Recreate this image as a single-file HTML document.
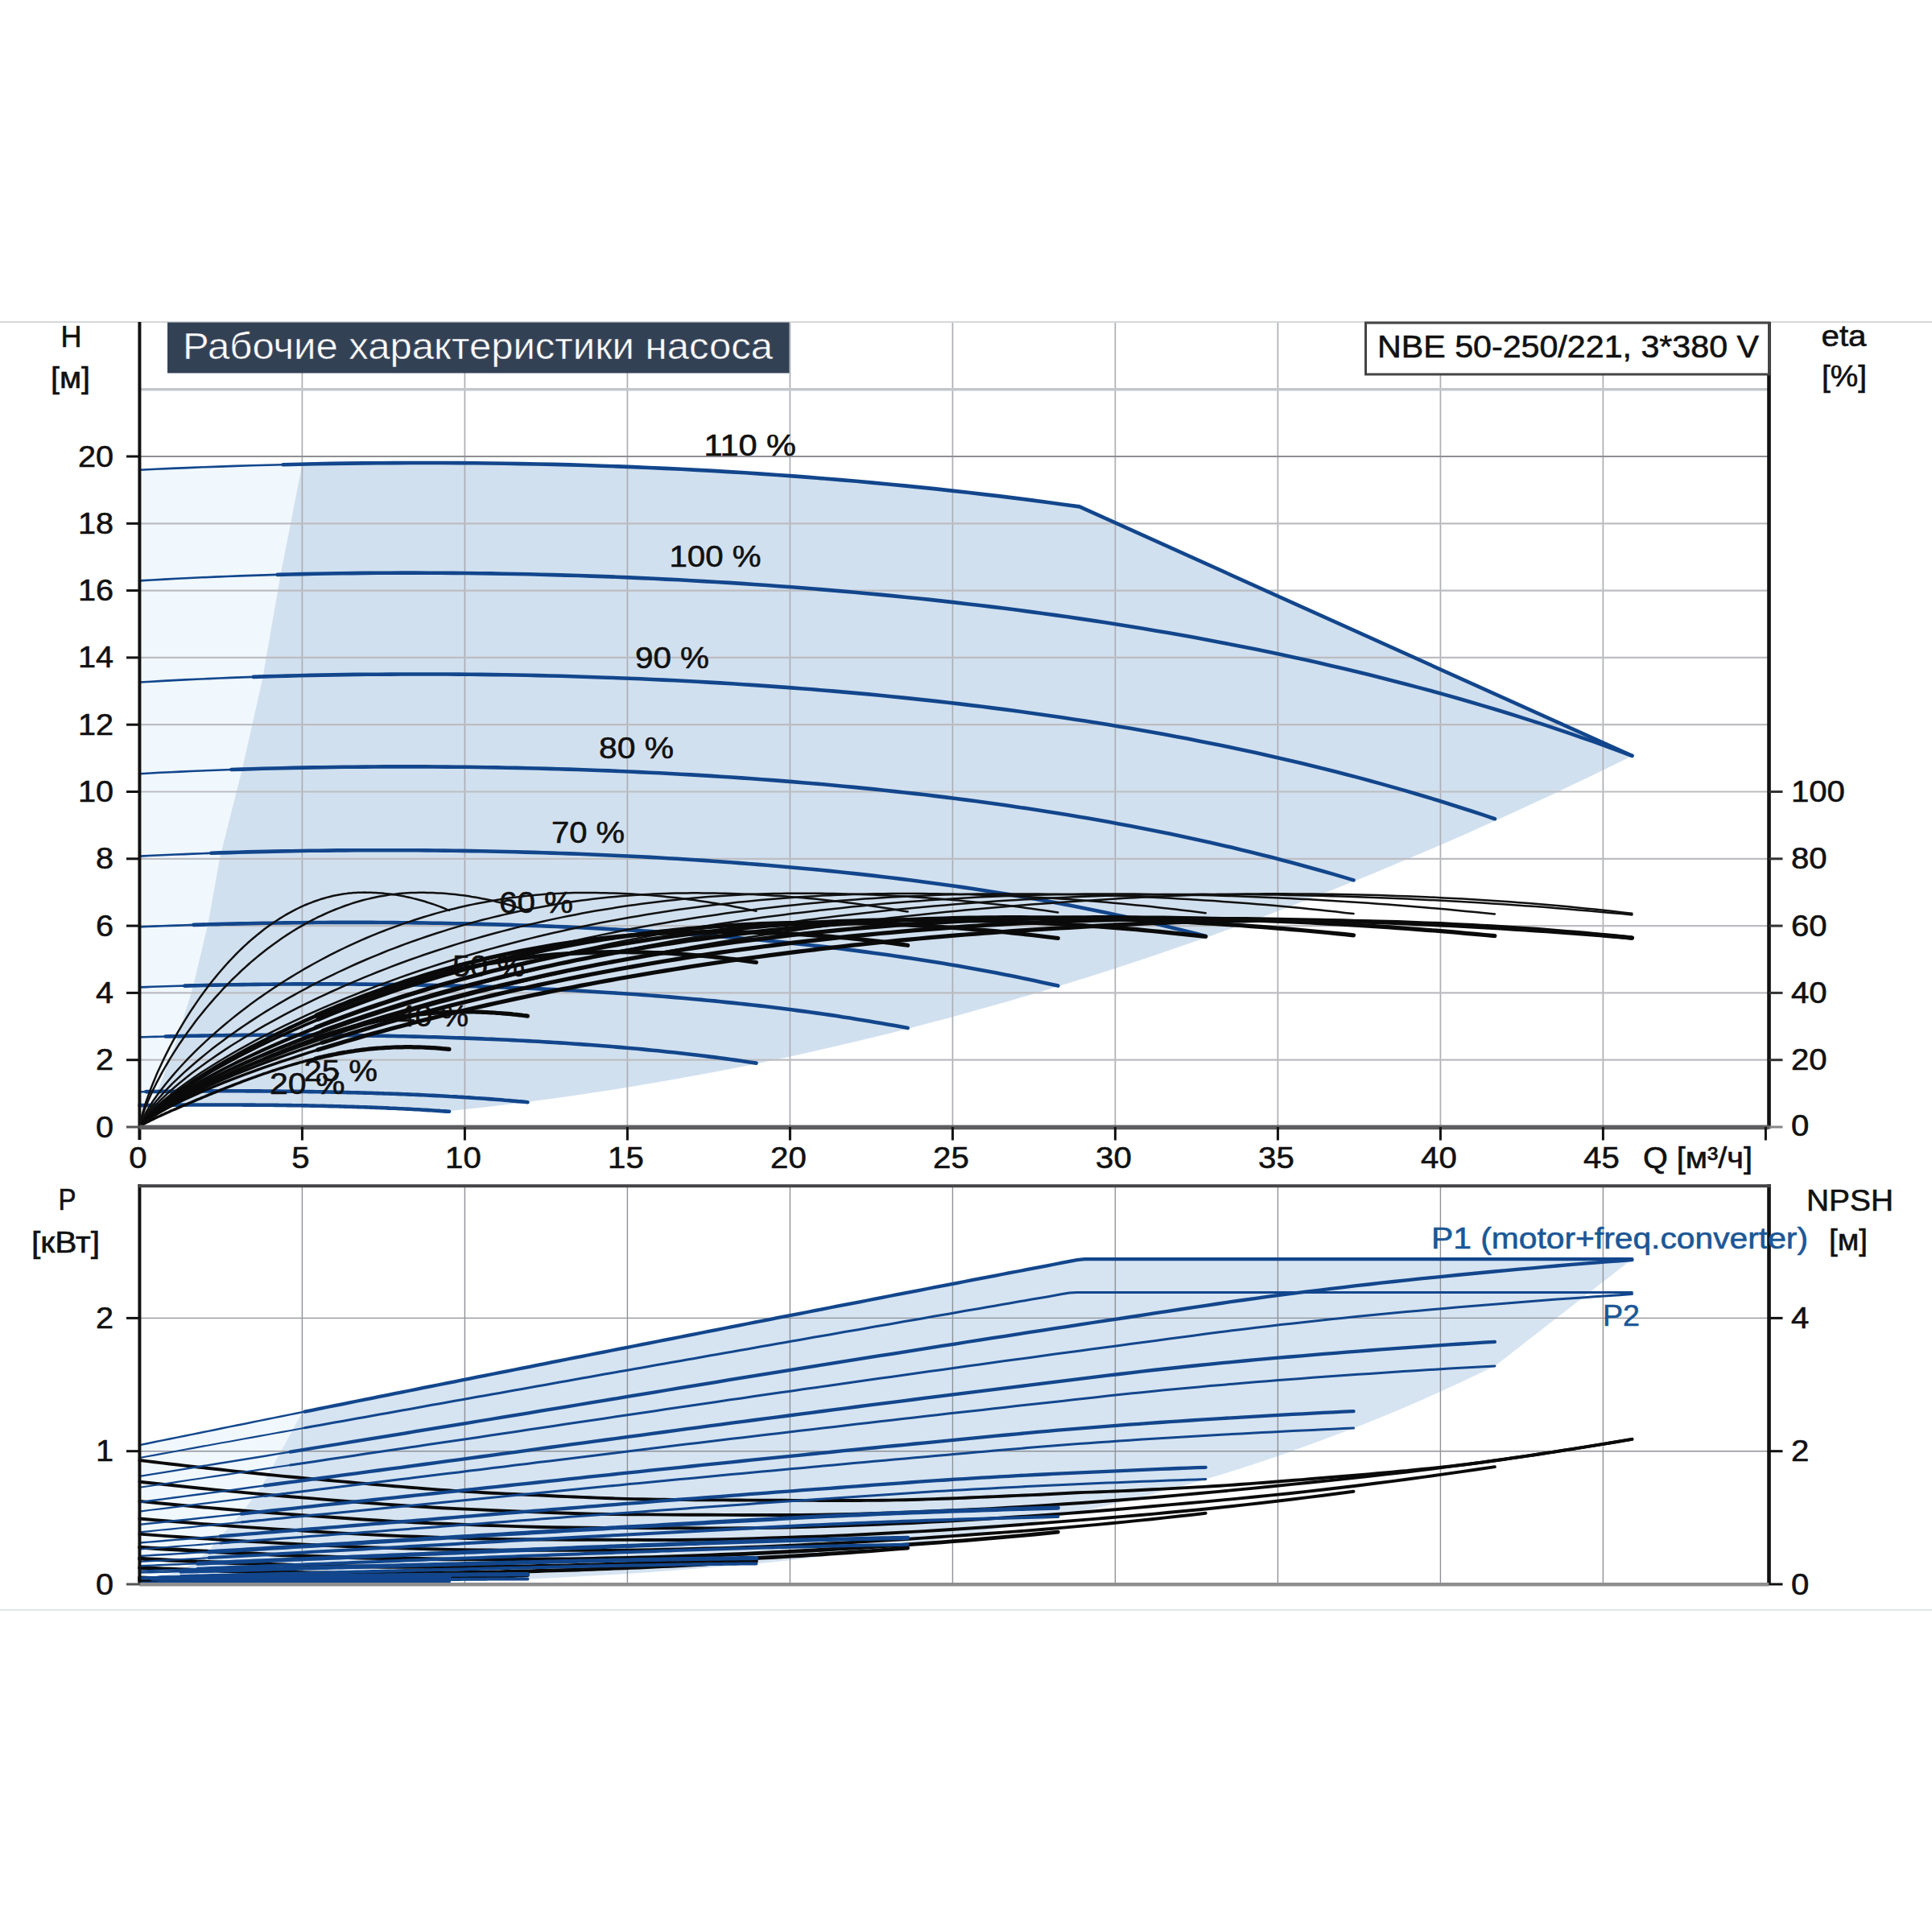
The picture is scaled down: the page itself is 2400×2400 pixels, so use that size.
<!DOCTYPE html>
<html lang="ru"><head><meta charset="utf-8"><title>Рабочие характеристики насоса</title>
<style>
html,body{margin:0;padding:0;background:#fff}
body{width:2400px;height:2400px;overflow:hidden}
svg{display:block}
text{font-family:"Liberation Sans",Arial,sans-serif}
</style></head><body>
<svg width="2400" height="2400" viewBox="0 0 2400 2400">
<rect width="2400" height="2400" fill="#fff"/>
<g id="top">
<polygon points="173.4,583.7 193.2,582.8 213.0,581.9 232.8,581.1 252.6,580.3 272.3,579.6 292.1,578.9 311.9,578.3 331.7,577.7 351.5,577.2 371.3,576.7 375.4,576.2 348.3,714.9 325.7,844.8 301.1,954.3 273.2,1064.7 257.8,1150.1 239.3,1227.2 220.3,1289.6 195.6,1356.3 188.8,1373.1 173.4,1373.1" fill="#f0f8fe"/>
<polygon points="391.1,576.3 410.9,575.9 430.7,575.6 450.4,575.4 470.2,575.2 490.0,575.1 509.8,575.0 529.6,575.0 549.4,575.0 569.2,575.1 589.0,575.3 608.8,575.5 628.6,575.7 648.3,576.1 668.1,576.5 687.9,576.9 707.7,577.4 727.5,578.0 747.3,578.7 767.1,579.4 786.9,580.1 806.7,581.0 826.4,581.9 846.2,582.8 866.0,583.9 885.8,584.9 905.6,586.1 925.4,587.3 945.2,588.6 965.0,590.0 984.8,591.4 1004.5,592.9 1024.3,594.5 1044.1,596.1 1063.9,597.8 1083.7,599.6 1103.5,601.5 1123.3,603.4 1143.1,605.4 1162.9,607.4 1182.6,609.6 1202.4,611.8 1222.2,614.1 1242.0,616.4 1261.8,618.9 1281.6,621.4 1301.4,624.0 1321.2,626.7 1341.0,629.4 2027.4,938.9 2027.4,938.9 2002.5,951.2 1977.5,963.4 1952.6,975.3 1927.7,987.2 1902.8,998.8 1877.9,1010.3 1853.0,1021.6 1828.1,1032.7 1803.2,1043.7 1778.3,1054.5 1753.4,1065.1 1728.5,1075.6 1703.6,1085.9 1678.7,1096.0 1653.8,1106.0 1628.9,1115.8 1604.0,1125.5 1579.1,1134.9 1554.2,1144.3 1529.3,1153.4 1504.4,1162.4 1479.5,1171.2 1454.6,1179.8 1429.7,1188.3 1404.8,1196.6 1379.8,1204.8 1354.9,1212.7 1330.0,1220.5 1305.1,1228.2 1280.2,1235.7 1255.3,1243.0 1230.4,1250.1 1205.5,1257.1 1180.6,1263.9 1155.7,1270.6 1130.8,1277.0 1105.9,1283.4 1081.0,1289.5 1056.1,1295.5 1031.2,1301.3 1006.3,1306.9 981.4,1312.4 956.5,1317.7 931.6,1322.9 906.7,1327.9 881.8,1332.7 856.9,1337.3 832.0,1341.8 807.1,1346.1 782.1,1350.3 757.2,1354.3 732.3,1358.1 707.4,1361.7 682.5,1365.2 657.6,1368.5 632.7,1371.7 607.8,1374.7 582.9,1377.5 558.0,1380.2 558.0,1380.8 553.1,1380.5 548.3,1380.1 543.4,1379.8 538.5,1379.5 533.7,1379.2 528.8,1378.9 523.9,1378.6 519.1,1378.3 514.2,1378.1 509.3,1377.8 504.5,1377.5 499.6,1377.3 494.7,1377.1 489.8,1376.8 485.0,1376.6 480.1,1376.4 475.2,1376.2 470.4,1376.0 465.5,1375.8 460.6,1375.6 455.8,1375.4 450.9,1375.3 446.0,1375.1 441.2,1375.0 436.3,1374.8 431.4,1374.7 426.6,1374.5 421.7,1374.4 416.8,1374.3 412.0,1374.1 407.1,1374.0 402.2,1373.9 397.3,1373.8 392.5,1373.7 387.6,1373.6 382.7,1373.5 377.9,1373.4 373.0,1373.3 368.1,1373.2 363.3,1373.2 358.4,1373.1 353.5,1373.0 348.7,1373.0 343.8,1372.9 338.9,1372.9 334.1,1372.8 329.2,1372.8 324.3,1372.7 319.5,1372.7 314.6,1372.6 309.7,1372.6 304.8,1372.6 300.0,1372.5 295.1,1372.5 290.2,1372.5 285.4,1372.5 280.5,1372.5 275.6,1372.5 270.8,1372.5 265.9,1372.5 261.0,1372.5 256.2,1372.5 251.3,1372.5 246.4,1372.5 241.6,1372.5 236.7,1372.5 231.8,1372.6 227.0,1372.6 222.1,1372.6 217.2,1372.7 212.3,1372.7 207.5,1372.7 202.6,1372.8 197.7,1372.8 192.9,1372.9 188.8,1373.1 195.6,1356.3 220.3,1289.6 239.3,1227.2 257.8,1150.1 273.2,1064.7 301.1,954.3 325.7,844.8 348.3,714.9 375.4,576.2" fill="#d1e0ef"/>
<line x1="375.4" y1="401" x2="375.4" y2="1400" stroke="#adafb4" stroke-width="1.7"/>
<line x1="577.4" y1="401" x2="577.4" y2="1400" stroke="#adafb4" stroke-width="1.7"/>
<line x1="779.4" y1="401" x2="779.4" y2="1400" stroke="#adafb4" stroke-width="1.7"/>
<line x1="981.4" y1="401" x2="981.4" y2="1400" stroke="#adafb4" stroke-width="1.7"/>
<line x1="1183.4" y1="401" x2="1183.4" y2="1400" stroke="#adafb4" stroke-width="1.7"/>
<line x1="1385.4" y1="401" x2="1385.4" y2="1400" stroke="#adafb4" stroke-width="1.7"/>
<line x1="1587.4" y1="401" x2="1587.4" y2="1400" stroke="#adafb4" stroke-width="1.7"/>
<line x1="1789.4" y1="401" x2="1789.4" y2="1400" stroke="#adafb4" stroke-width="1.7"/>
<line x1="1991.4" y1="401" x2="1991.4" y2="1400" stroke="#adafb4" stroke-width="1.7"/>
<line x1="173.4" y1="1316.7" x2="2197.5" y2="1316.7" stroke="#bcbdc1" stroke-width="2.2"/>
<line x1="173.4" y1="1233.4" x2="2197.5" y2="1233.4" stroke="#bcbdc1" stroke-width="2.2"/>
<line x1="173.4" y1="1150.1" x2="2197.5" y2="1150.1" stroke="#bcbdc1" stroke-width="2.2"/>
<line x1="173.4" y1="1066.8" x2="2197.5" y2="1066.8" stroke="#bcbdc1" stroke-width="2.2"/>
<line x1="173.4" y1="983.5" x2="2197.5" y2="983.5" stroke="#bcbdc1" stroke-width="2.2"/>
<line x1="173.4" y1="900.2" x2="2197.5" y2="900.2" stroke="#bcbdc1" stroke-width="2.2"/>
<line x1="173.4" y1="816.9" x2="2197.5" y2="816.9" stroke="#bcbdc1" stroke-width="2.2"/>
<line x1="173.4" y1="733.6" x2="2197.5" y2="733.6" stroke="#bcbdc1" stroke-width="2.2"/>
<line x1="173.4" y1="650.3" x2="2197.5" y2="650.3" stroke="#bcbdc1" stroke-width="2.2"/>
<line x1="173.4" y1="567.0" x2="2197.5" y2="567.0" stroke="#8d8f94" stroke-width="1.8"/>
<line x1="173.4" y1="483.7" x2="2197.5" y2="483.7" stroke="#c3c7cc" stroke-width="3.5"/>
<polyline points="173.4,583.7 193.2,582.8 213.0,581.9 232.8,581.1 252.6,580.3 272.3,579.6 292.1,578.9 311.9,578.3 331.7,577.7 351.5,577.2 371.3,576.7" fill="none" stroke="#12468c" stroke-width="2.6" stroke-linejoin="round" stroke-linecap="round" />
<polyline points="351.5,577.2 371.3,576.7 391.1,576.3 410.9,575.9 430.7,575.6 450.4,575.4 470.2,575.2 490.0,575.1 509.8,575.0 529.6,575.0 549.4,575.0 569.2,575.1 589.0,575.3 608.8,575.5 628.6,575.7 648.3,576.1 668.1,576.5 687.9,576.9 707.7,577.4 727.5,578.0 747.3,578.7 767.1,579.4 786.9,580.1 806.7,581.0 826.4,581.9 846.2,582.8 866.0,583.9 885.8,584.9 905.6,586.1 925.4,587.3 945.2,588.6 965.0,590.0 984.8,591.4 1004.5,592.9 1024.3,594.5 1044.1,596.1 1063.9,597.8 1083.7,599.6 1103.5,601.5 1123.3,603.4 1143.1,605.4 1162.9,607.4 1182.6,609.6 1202.4,611.8 1222.2,614.1 1242.0,616.4 1261.8,618.9 1281.6,621.4 1301.4,624.0 1321.2,626.7 1341.0,629.4 2027.4,938.9" fill="none" stroke="#12468c" stroke-width="4.6" stroke-linejoin="round" stroke-linecap="round" />
<polyline points="173.4,721.4 189.0,720.5 204.6,719.6 220.1,718.8 235.7,718.0 251.3,717.3 266.9,716.6 282.5,716.0 298.0,715.4 313.6,714.9 329.2,714.4 344.8,713.9 360.4,713.5" fill="none" stroke="#12468c" stroke-width="2.6" stroke-linejoin="round" stroke-linecap="round" />
<polyline points="344.8,713.9 360.4,713.5 375.9,713.1 391.5,712.8 407.1,712.5 422.7,712.3 438.3,712.1 453.8,711.9 469.4,711.8 485.0,711.7 500.6,711.6 516.1,711.6 531.7,711.7 547.3,711.7 562.9,711.9 578.5,712.0 594.0,712.2 609.6,712.4 625.2,712.7 640.8,713.0 656.4,713.3 671.9,713.7 687.5,714.1 703.1,714.6 718.7,715.0 734.3,715.6 749.8,716.1 765.4,716.7 781.0,717.4 796.6,718.1 812.2,718.8 827.7,719.6 843.3,720.3 858.9,721.2 874.5,722.1 890.1,723.0 905.6,723.9 921.2,724.9 936.8,726.0 952.4,727.0 968.0,728.2 983.5,729.3 999.1,730.5 1014.7,731.8 1030.3,733.1 1045.8,734.4 1061.4,735.8 1077.0,737.2 1092.6,738.6 1108.2,740.1 1123.7,741.7 1139.3,743.3 1154.9,744.9 1170.5,746.6 1186.1,748.4 1201.6,750.2 1217.2,752.0 1232.8,753.9 1248.4,755.8 1264.0,757.8 1279.5,759.9 1295.1,762.0 1310.7,764.1 1326.3,766.3 1341.9,768.6 1357.4,770.9 1373.0,773.3 1388.6,775.7 1404.2,778.2 1419.8,780.7 1435.3,783.4 1450.9,786.0 1466.5,788.8 1482.1,791.6 1497.7,794.4 1513.2,797.4 1528.8,800.4 1544.4,803.4 1560.0,806.5 1575.6,809.8 1591.1,813.0 1606.7,816.4 1622.3,819.8 1637.9,823.3 1653.4,826.9 1669.0,830.5 1684.6,834.2 1700.2,838.0 1715.8,841.9 1731.3,845.9 1746.9,849.9 1762.5,854.1 1778.1,858.3 1793.7,862.6 1809.2,867.0 1824.8,871.5 1840.4,876.1 1856.0,880.8 1871.6,885.5 1887.1,890.4 1902.7,895.4 1918.3,900.4 1933.9,905.6 1949.5,910.9 1965.0,916.3 1980.6,921.7 1996.2,927.3 2011.8,933.0 2027.4,938.8" fill="none" stroke="#12468c" stroke-width="4.6" stroke-linejoin="round" stroke-linecap="round" />
<polyline points="173.4,847.5 187.5,846.7 201.7,845.9 215.8,845.1 230.0,844.4 244.1,843.7 258.3,843.1 272.4,842.5 286.6,841.9 300.7,841.4 314.9,840.9 329.0,840.4 343.2,840.0" fill="none" stroke="#12468c" stroke-width="2.6" stroke-linejoin="round" stroke-linecap="round" />
<polyline points="314.9,840.9 329.0,840.4 343.2,840.0 357.3,839.6 371.5,839.3 385.6,838.9 399.7,838.6 413.9,838.4 428.0,838.1 442.2,837.9 456.3,837.8 470.5,837.7 484.6,837.6 498.8,837.5 512.9,837.5 527.1,837.5 541.2,837.5 555.4,837.5 569.5,837.6 583.7,837.8 597.8,837.9 612.0,838.1 626.1,838.3 640.2,838.5 654.4,838.8 668.5,839.1 682.7,839.5 696.8,839.8 711.0,840.3 725.1,840.7 739.3,841.2 753.4,841.7 767.6,842.2 781.7,842.7 795.9,843.3 810.0,844.0 824.2,844.6 838.3,845.3 852.4,846.0 866.6,846.8 880.7,847.6 894.9,848.4 909.0,849.3 923.2,850.2 937.3,851.1 951.5,852.1 965.6,853.1 979.8,854.1 993.9,855.2 1008.1,856.3 1022.2,857.5 1036.4,858.6 1050.5,859.9 1064.6,861.1 1078.8,862.4 1092.9,863.8 1107.1,865.2 1121.2,866.6 1135.4,868.1 1149.5,869.6 1163.7,871.1 1177.8,872.7 1192.0,874.4 1206.1,876.1 1220.3,877.8 1234.4,879.6 1248.6,881.4 1262.7,883.3 1276.8,885.2 1291.0,887.2 1305.1,889.2 1319.3,891.2 1333.4,893.4 1347.6,895.5 1361.7,897.8 1375.9,900.0 1390.0,902.4 1404.2,904.8 1418.3,907.2 1432.5,909.7 1446.6,912.3 1460.8,914.9 1474.9,917.6 1489.1,920.4 1503.2,923.2 1517.3,926.0 1531.5,929.0 1545.6,932.0 1559.8,935.1 1573.9,938.2 1588.1,941.4 1602.2,944.7 1616.4,948.0 1630.5,951.5 1644.7,955.0 1658.8,958.5 1673.0,962.2 1687.1,965.9 1701.3,969.7 1715.4,973.6 1729.5,977.6 1743.7,981.6 1757.8,985.8 1772.0,990.0 1786.1,994.3 1800.3,998.7 1814.4,1003.2 1828.6,1007.7 1842.7,1012.4 1856.9,1017.2" fill="none" stroke="#12468c" stroke-width="4.6" stroke-linejoin="round" stroke-linecap="round" />
<polyline points="173.4,961.2 186.1,960.5 198.7,959.8 211.4,959.2 224.1,958.6 236.8,958.0 249.4,957.5 262.1,957.0 274.8,956.5 287.5,956.0 300.1,955.6 312.8,955.2" fill="none" stroke="#12468c" stroke-width="2.6" stroke-linejoin="round" stroke-linecap="round" />
<polyline points="287.5,956.0 300.1,955.6 312.8,955.2 325.5,954.8 338.2,954.5 350.8,954.2 363.5,953.9 376.2,953.6 388.8,953.4 401.5,953.2 414.2,953.0 426.9,952.8 439.5,952.7 452.2,952.6 464.9,952.5 477.6,952.4 490.2,952.4 502.9,952.4 515.6,952.4 528.3,952.4 540.9,952.5 553.6,952.6 566.3,952.7 578.9,952.8 591.6,953.0 604.3,953.2 617.0,953.4 629.6,953.7 642.3,953.9 655.0,954.2 667.7,954.5 680.3,954.9 693.0,955.2 705.7,955.6 718.4,956.0 731.0,956.5 743.7,957.0 756.4,957.4 769.0,958.0 781.7,958.5 794.4,959.1 807.1,959.7 819.7,960.3 832.4,961.0 845.1,961.7 857.8,962.4 870.4,963.1 883.1,963.9 895.8,964.7 908.5,965.5 921.1,966.4 933.8,967.3 946.5,968.2 959.1,969.1 971.8,970.1 984.5,971.1 997.2,972.2 1009.8,973.2 1022.5,974.3 1035.2,975.5 1047.9,976.7 1060.5,977.9 1073.2,979.1 1085.9,980.4 1098.6,981.7 1111.2,983.1 1123.9,984.5 1136.6,985.9 1149.3,987.3 1161.9,988.9 1174.6,990.4 1187.3,992.0 1199.9,993.6 1212.6,995.3 1225.3,997.0 1238.0,998.7 1250.6,1000.5 1263.3,1002.4 1276.0,1004.3 1288.7,1006.2 1301.3,1008.2 1314.0,1010.2 1326.7,1012.3 1339.4,1014.4 1352.0,1016.6 1364.7,1018.8 1377.4,1021.0 1390.0,1023.4 1402.7,1025.7 1415.4,1028.2 1428.1,1030.7 1440.7,1033.2 1453.4,1035.8 1466.1,1038.5 1478.8,1041.2 1491.4,1043.9 1504.1,1046.8 1516.8,1049.7 1529.5,1052.6 1542.1,1055.7 1554.8,1058.7 1567.5,1061.9 1580.1,1065.1 1592.8,1068.4 1605.5,1071.8 1618.2,1075.2 1630.8,1078.7 1643.5,1082.2 1656.2,1085.9 1668.9,1089.6 1681.5,1093.4" fill="none" stroke="#12468c" stroke-width="4.6" stroke-linejoin="round" stroke-linecap="round" />
<polyline points="173.4,1063.6 184.5,1063.0 195.7,1062.5 206.8,1062.0 217.9,1061.5 229.0,1061.1 240.2,1060.6 251.3,1060.2 262.4,1059.8 273.6,1059.4 284.7,1059.1" fill="none" stroke="#12468c" stroke-width="2.6" stroke-linejoin="round" stroke-linecap="round" />
<polyline points="262.4,1059.8 273.6,1059.4 284.7,1059.1 295.8,1058.7 306.9,1058.4 318.1,1058.1 329.2,1057.9 340.3,1057.6 351.5,1057.4 362.6,1057.2 373.7,1057.0 384.8,1056.8 396.0,1056.7 407.1,1056.6 418.2,1056.4 429.4,1056.4 440.5,1056.3 451.6,1056.2 462.7,1056.2 473.9,1056.2 485.0,1056.2 496.1,1056.2 507.3,1056.3 518.4,1056.3 529.5,1056.4 540.6,1056.5 551.8,1056.6 562.9,1056.8 574.0,1056.9 585.2,1057.1 596.3,1057.3 607.4,1057.5 618.5,1057.8 629.7,1058.0 640.8,1058.3 651.9,1058.6 663.1,1058.9 674.2,1059.3 685.3,1059.6 696.4,1060.0 707.6,1060.4 718.7,1060.8 729.8,1061.2 741.0,1061.7 752.1,1062.2 763.2,1062.7 774.3,1063.2 785.5,1063.8 796.6,1064.3 807.7,1064.9 818.9,1065.5 830.0,1066.2 841.1,1066.8 852.2,1067.5 863.4,1068.2 874.5,1068.9 885.6,1069.7 896.8,1070.5 907.9,1071.3 919.0,1072.1 930.1,1073.0 941.3,1073.9 952.4,1074.8 963.5,1075.7 974.7,1076.7 985.8,1077.7 996.9,1078.7 1008.1,1079.7 1019.2,1080.8 1030.3,1081.9 1041.4,1083.0 1052.6,1084.2 1063.7,1085.4 1074.8,1086.6 1086.0,1087.9 1097.1,1089.2 1108.2,1090.5 1119.3,1091.9 1130.5,1093.3 1141.6,1094.7 1152.7,1096.2 1163.9,1097.7 1175.0,1099.2 1186.1,1100.8 1197.2,1102.4 1208.4,1104.1 1219.5,1105.8 1230.6,1107.5 1241.8,1109.3 1252.9,1111.1 1264.0,1113.0 1275.1,1114.9 1286.3,1116.8 1297.4,1118.8 1308.5,1120.8 1319.7,1122.9 1330.8,1125.0 1341.9,1127.2 1353.0,1129.4 1364.2,1131.7 1375.3,1134.0 1386.4,1136.4 1397.6,1138.8 1408.7,1141.2 1419.8,1143.8 1430.9,1146.3 1442.1,1149.0 1453.2,1151.7 1464.3,1154.4 1475.5,1157.2 1486.6,1160.0 1497.7,1163.0" fill="none" stroke="#12468c" stroke-width="4.6" stroke-linejoin="round" stroke-linecap="round" />
<polyline points="173.4,1151.4 183.0,1151.0 192.6,1150.6 202.2,1150.3 211.7,1149.9 221.3,1149.6 230.9,1149.2 240.5,1148.9 250.1,1148.6 259.7,1148.3 269.3,1148.1" fill="none" stroke="#12468c" stroke-width="2.6" stroke-linejoin="round" stroke-linecap="round" />
<polyline points="240.5,1148.9 250.1,1148.6 259.7,1148.3 269.3,1148.1 278.9,1147.8 288.4,1147.6 298.0,1147.4 307.6,1147.2 317.2,1147.0 326.8,1146.8 336.4,1146.7 346.0,1146.5 355.6,1146.4 365.1,1146.3 374.7,1146.2 384.3,1146.1 393.9,1146.0 403.5,1146.0 413.1,1145.9 422.7,1145.9 432.3,1145.9 441.8,1145.9 451.4,1145.9 461.0,1145.9 470.6,1146.0 480.2,1146.0 489.8,1146.1 499.4,1146.2 509.0,1146.3 518.5,1146.4 528.1,1146.5 537.7,1146.7 547.3,1146.8 556.9,1147.0 566.5,1147.2 576.1,1147.4 585.7,1147.6 595.2,1147.9 604.8,1148.1 614.4,1148.4 624.0,1148.6 633.6,1148.9 643.2,1149.2 652.8,1149.6 662.4,1149.9 671.9,1150.2 681.5,1150.6 691.1,1151.0 700.7,1151.4 710.3,1151.8 719.9,1152.2 729.5,1152.7 739.1,1153.2 748.6,1153.6 758.2,1154.2 767.8,1154.7 777.4,1155.2 787.0,1155.8 796.6,1156.3 806.2,1156.9 815.8,1157.5 825.3,1158.2 834.9,1158.8 844.5,1159.5 854.1,1160.2 863.7,1160.9 873.3,1161.6 882.9,1162.4 892.5,1163.1 902.0,1163.9 911.6,1164.8 921.2,1165.6 930.8,1166.5 940.4,1167.3 950.0,1168.3 959.6,1169.2 969.2,1170.1 978.7,1171.1 988.3,1172.1 997.9,1173.2 1007.5,1174.2 1017.1,1175.3 1026.7,1176.4 1036.3,1177.5 1045.8,1178.7 1055.4,1179.9 1065.0,1181.1 1074.6,1182.4 1084.2,1183.7 1093.8,1185.0 1103.4,1186.3 1113.0,1187.7 1122.5,1189.1 1132.1,1190.5 1141.7,1192.0 1151.3,1193.5 1160.9,1195.0 1170.5,1196.6 1180.1,1198.2 1189.7,1199.8 1199.2,1201.5 1208.8,1203.2 1218.4,1205.0 1228.0,1206.7 1237.6,1208.6 1247.2,1210.4 1256.8,1212.3 1266.4,1214.3 1275.9,1216.3 1285.5,1218.3 1295.1,1220.4 1304.7,1222.5 1314.3,1224.6" fill="none" stroke="#12468c" stroke-width="4.6" stroke-linejoin="round" stroke-linecap="round" />
<polyline points="173.4,1226.4 181.4,1226.1 189.4,1225.8 197.5,1225.5 205.5,1225.3 213.5,1225.0 221.5,1224.8 229.5,1224.6 237.6,1224.4 245.6,1224.2 253.6,1224.0" fill="none" stroke="#12468c" stroke-width="2.6" stroke-linejoin="round" stroke-linecap="round" />
<polyline points="229.5,1224.6 237.6,1224.4 245.6,1224.2 253.6,1224.0 261.6,1223.8 269.6,1223.6 277.6,1223.5 285.7,1223.3 293.7,1223.2 301.7,1223.1 309.7,1223.0 317.7,1222.9 325.8,1222.8 333.8,1222.7 341.8,1222.6 349.8,1222.5 357.8,1222.5 365.9,1222.4 373.9,1222.4 381.9,1222.4 389.9,1222.4 397.9,1222.4 405.9,1222.4 414.0,1222.4 422.0,1222.4 430.0,1222.5 438.0,1222.5 446.0,1222.6 454.1,1222.6 462.1,1222.7 470.1,1222.8 478.1,1222.9 486.1,1223.0 494.2,1223.1 502.2,1223.2 510.2,1223.4 518.2,1223.5 526.2,1223.7 534.3,1223.8 542.3,1224.0 550.3,1224.2 558.3,1224.4 566.3,1224.6 574.3,1224.8 582.4,1225.1 590.4,1225.3 598.4,1225.6 606.4,1225.8 614.4,1226.1 622.5,1226.4 630.5,1226.7 638.5,1227.0 646.5,1227.3 654.5,1227.6 662.6,1228.0 670.6,1228.4 678.6,1228.7 686.6,1229.1 694.6,1229.5 702.6,1229.9 710.7,1230.3 718.7,1230.8 726.7,1231.2 734.7,1231.7 742.7,1232.2 750.8,1232.7 758.8,1233.2 766.8,1233.7 774.8,1234.2 782.8,1234.8 790.9,1235.3 798.9,1235.9 806.9,1236.5 814.9,1237.1 822.9,1237.8 830.9,1238.4 839.0,1239.1 847.0,1239.8 855.0,1240.5 863.0,1241.2 871.0,1241.9 879.1,1242.7 887.1,1243.4 895.1,1244.2 903.1,1245.1 911.1,1245.9 919.2,1246.7 927.2,1247.6 935.2,1248.5 943.2,1249.4 951.2,1250.3 959.3,1251.3 967.3,1252.3 975.3,1253.3 983.3,1254.3 991.3,1255.4 999.3,1256.4 1007.4,1257.5 1015.4,1258.6 1023.4,1259.8 1031.4,1260.9 1039.4,1262.1 1047.5,1263.4 1055.5,1264.6 1063.5,1265.9 1071.5,1267.2 1079.5,1268.5 1087.6,1269.9 1095.6,1271.3 1103.6,1272.7 1111.6,1274.1 1119.6,1275.6 1127.6,1277.1" fill="none" stroke="#12468c" stroke-width="4.6" stroke-linejoin="round" stroke-linecap="round" />
<polyline points="173.4,1288.4 179.8,1288.2 186.3,1288.0 192.7,1287.9 199.1,1287.7 205.6,1287.5 212.0,1287.4 218.5,1287.2 224.9,1287.1 231.3,1287.0 237.8,1286.8" fill="none" stroke="#12468c" stroke-width="2.6" stroke-linejoin="round" stroke-linecap="round" />
<polyline points="205.6,1287.5 212.0,1287.4 218.5,1287.2 224.9,1287.1 231.3,1287.0 237.8,1286.8 244.2,1286.7 250.6,1286.6 257.1,1286.5 263.5,1286.4 270.0,1286.3 276.4,1286.2 282.8,1286.1 289.3,1286.1 295.7,1286.0 302.1,1285.9 308.6,1285.9 315.0,1285.8 321.4,1285.8 327.9,1285.8 334.3,1285.7 340.8,1285.7 347.2,1285.7 353.6,1285.7 360.1,1285.7 366.5,1285.7 372.9,1285.7 379.4,1285.7 385.8,1285.8 392.3,1285.8 398.7,1285.8 405.1,1285.9 411.6,1285.9 418.0,1286.0 424.4,1286.1 430.9,1286.1 437.3,1286.2 443.7,1286.3 450.2,1286.4 456.6,1286.5 463.1,1286.6 469.5,1286.7 475.9,1286.8 482.4,1286.9 488.8,1287.0 495.2,1287.2 501.7,1287.3 508.1,1287.5 514.6,1287.6 521.0,1287.8 527.4,1288.0 533.9,1288.2 540.3,1288.3 546.7,1288.5 553.2,1288.7 559.6,1289.0 566.0,1289.2 572.5,1289.4 578.9,1289.6 585.4,1289.9 591.8,1290.1 598.2,1290.4 604.7,1290.7 611.1,1290.9 617.5,1291.2 624.0,1291.5 630.4,1291.8 636.9,1292.1 643.3,1292.5 649.7,1292.8 656.2,1293.1 662.6,1293.5 669.0,1293.8 675.5,1294.2 681.9,1294.6 688.3,1295.0 694.8,1295.4 701.2,1295.8 707.7,1296.2 714.1,1296.7 720.5,1297.1 727.0,1297.6 733.4,1298.0 739.8,1298.5 746.3,1299.0 752.7,1299.5 759.2,1300.0 765.6,1300.6 772.0,1301.1 778.5,1301.7 784.9,1302.3 791.3,1302.8 797.8,1303.4 804.2,1304.1 810.6,1304.7 817.1,1305.3 823.5,1306.0 830.0,1306.7 836.4,1307.3 842.8,1308.0 849.3,1308.8 855.7,1309.5 862.1,1310.2 868.6,1311.0 875.0,1311.8 881.5,1312.6 887.9,1313.4 894.3,1314.3 900.8,1315.1 907.2,1316.0 913.6,1316.9 920.1,1317.8 926.5,1318.7 932.9,1319.7 939.4,1320.6" fill="none" stroke="#12468c" stroke-width="4.6" stroke-linejoin="round" stroke-linecap="round" />
<polyline points="173.4,1356.3 177.5,1356.2 181.5,1356.1 185.6,1356.1 189.6,1356.0 193.7,1356.0 197.7,1355.9 201.8,1355.8 205.8,1355.8 209.9,1355.7 213.9,1355.7" fill="none" stroke="#12468c" stroke-width="2.6" stroke-linejoin="round" stroke-linecap="round" />
<polyline points="181.5,1356.1 185.6,1356.1 189.6,1356.0 193.7,1356.0 197.7,1355.9 201.8,1355.8 205.8,1355.8 209.9,1355.7 213.9,1355.7 218.0,1355.7 222.0,1355.6 226.1,1355.6 230.1,1355.5 234.2,1355.5 238.2,1355.5 242.3,1355.4 246.3,1355.4 250.4,1355.4 254.4,1355.4 258.5,1355.4 262.5,1355.3 266.6,1355.3 270.6,1355.3 274.7,1355.3 278.7,1355.3 282.8,1355.3 286.8,1355.3 290.9,1355.3 294.9,1355.3 299.0,1355.3 303.0,1355.3 307.1,1355.4 311.1,1355.4 315.2,1355.4 319.2,1355.4 323.3,1355.4 327.3,1355.5 331.4,1355.5 335.4,1355.5 339.5,1355.5 343.5,1355.6 347.6,1355.6 351.6,1355.7 355.7,1355.7 359.7,1355.8 363.8,1355.8 367.8,1355.9 371.9,1355.9 375.9,1356.0 380.0,1356.0 384.0,1356.1 388.1,1356.1 392.1,1356.2 396.2,1356.3 400.2,1356.4 404.3,1356.4 408.3,1356.5 412.4,1356.6 416.4,1356.7 420.5,1356.8 424.5,1356.9 428.6,1357.0 432.6,1357.1 436.7,1357.2 440.7,1357.3 444.8,1357.4 448.8,1357.5 452.9,1357.6 456.9,1357.7 461.0,1357.8 465.0,1358.0 469.1,1358.1 473.1,1358.2 477.2,1358.4 481.2,1358.5 485.3,1358.6 489.3,1358.8 493.4,1358.9 497.4,1359.1 501.5,1359.3 505.5,1359.4 509.6,1359.6 513.6,1359.8 517.7,1359.9 521.7,1360.1 525.8,1360.3 529.8,1360.5 533.9,1360.7 537.9,1360.9 542.0,1361.1 546.0,1361.3 550.1,1361.5 554.1,1361.7 558.2,1362.0 562.2,1362.2 566.3,1362.4 570.3,1362.7 574.4,1362.9 578.4,1363.2 582.5,1363.4 586.5,1363.7 590.6,1364.0 594.6,1364.2 598.7,1364.5 602.7,1364.8 606.8,1365.1 610.8,1365.4 614.9,1365.7 618.9,1366.0 623.0,1366.3 627.0,1366.7 631.1,1367.0 635.1,1367.4 639.2,1367.7 643.2,1368.1 647.3,1368.4 651.3,1368.8 655.4,1369.2" fill="none" stroke="#12468c" stroke-width="4.6" stroke-linejoin="round" stroke-linecap="round" />
<polyline points="173.4,1373.1 176.6,1373.1 179.9,1373.1 183.1,1373.0 186.3,1373.0 189.6,1372.9 192.8,1372.9 196.0,1372.9 199.3,1372.8 202.5,1372.8 205.7,1372.8 209.0,1372.7" fill="none" stroke="#12468c" stroke-width="2.6" stroke-linejoin="round" stroke-linecap="round" />
<polyline points="173.4,1373.1 176.6,1373.1 179.9,1373.1 183.1,1373.0 186.3,1373.0 189.6,1372.9 192.8,1372.9 196.0,1372.9 199.3,1372.8 202.5,1372.8 205.7,1372.8 209.0,1372.7 212.2,1372.7 215.4,1372.7 218.6,1372.6 221.9,1372.6 225.1,1372.6 228.3,1372.6 231.6,1372.6 234.8,1372.5 238.0,1372.5 241.3,1372.5 244.5,1372.5 247.7,1372.5 251.0,1372.5 254.2,1372.5 257.4,1372.5 260.7,1372.5 263.9,1372.5 267.1,1372.5 270.4,1372.5 273.6,1372.5 276.8,1372.5 280.1,1372.5 283.3,1372.5 286.5,1372.5 289.8,1372.5 293.0,1372.5 296.2,1372.5 299.4,1372.5 302.7,1372.6 305.9,1372.6 309.1,1372.6 312.4,1372.6 315.6,1372.6 318.8,1372.7 322.1,1372.7 325.3,1372.7 328.5,1372.7 331.8,1372.8 335.0,1372.8 338.2,1372.8 341.5,1372.9 344.7,1372.9 347.9,1373.0 351.2,1373.0 354.4,1373.0 357.6,1373.1 360.9,1373.1 364.1,1373.2 367.3,1373.2 370.6,1373.3 373.8,1373.3 377.0,1373.4 380.2,1373.4 383.5,1373.5 386.7,1373.6 389.9,1373.6 393.2,1373.7 396.4,1373.8 399.6,1373.8 402.9,1373.9 406.1,1374.0 409.3,1374.1 412.6,1374.1 415.8,1374.2 419.0,1374.3 422.3,1374.4 425.5,1374.5 428.7,1374.6 432.0,1374.7 435.2,1374.8 438.4,1374.9 441.7,1375.0 444.9,1375.1 448.1,1375.2 451.4,1375.3 454.6,1375.4 457.8,1375.5 461.0,1375.6 464.3,1375.8 467.5,1375.9 470.7,1376.0 474.0,1376.1 477.2,1376.3 480.4,1376.4 483.7,1376.6 486.9,1376.7 490.1,1376.8 493.4,1377.0 496.6,1377.2 499.8,1377.3 503.1,1377.5 506.3,1377.6 509.5,1377.8 512.8,1378.0 516.0,1378.2 519.2,1378.3 522.5,1378.5 525.7,1378.7 528.9,1378.9 532.2,1379.1 535.4,1379.3 538.6,1379.5 541.8,1379.7 545.1,1379.9 548.3,1380.2 551.5,1380.4 554.8,1380.6 558.0,1380.8" fill="none" stroke="#12468c" stroke-width="4.6" stroke-linejoin="round" stroke-linecap="round" />
<text x="874.5" y="566" font-size="37" text-anchor="start" fill="#111" textLength="114.5" lengthAdjust="spacingAndGlyphs" stroke="#111" stroke-width="0.6">110 %</text>
<text x="831.5" y="704" font-size="37" text-anchor="start" fill="#111" textLength="114.0" lengthAdjust="spacingAndGlyphs" stroke="#111" stroke-width="0.6">100 %</text>
<text x="789" y="830" font-size="37" text-anchor="start" fill="#111" textLength="92" lengthAdjust="spacingAndGlyphs" stroke="#111" stroke-width="0.6">90 %</text>
<text x="744" y="942" font-size="37" text-anchor="start" fill="#111" textLength="93" lengthAdjust="spacingAndGlyphs" stroke="#111" stroke-width="0.6">80 %</text>
<text x="685" y="1046.5" font-size="37" text-anchor="start" fill="#111" textLength="91" lengthAdjust="spacingAndGlyphs" stroke="#111" stroke-width="0.6">70 %</text>
<text x="620" y="1134" font-size="37" text-anchor="start" fill="#111" textLength="92" lengthAdjust="spacingAndGlyphs" stroke="#111" stroke-width="0.6">60 %</text>
<text x="562" y="1213" font-size="37" text-anchor="start" fill="#111" textLength="90" lengthAdjust="spacingAndGlyphs" stroke="#111" stroke-width="0.6">50 %</text>
<text x="494" y="1275" font-size="37" text-anchor="start" fill="#111" textLength="88" lengthAdjust="spacingAndGlyphs" stroke="#111" stroke-width="0.6">40 %</text>
<text x="377.5" y="1343" font-size="37" text-anchor="start" fill="#111" textLength="91.5" lengthAdjust="spacingAndGlyphs" stroke="#111" stroke-width="0.6">25 %</text>
<text x="335" y="1359" font-size="37" text-anchor="start" fill="#111" textLength="93.5" lengthAdjust="spacingAndGlyphs" stroke="#111" stroke-width="0.6">20 %</text>
<polyline points="173.4,1400.0 186.7,1386.3 200.1,1376.6 213.4,1368.0 226.8,1360.1 240.1,1352.7 253.4,1345.7 266.8,1339.1 280.1,1332.6 293.4,1326.5 306.8,1320.5 320.1,1314.7 333.5,1309.1 346.8,1303.6 360.1,1298.3 373.5,1293.2 386.8,1288.1 400.1,1283.2 413.5,1278.4 426.8,1273.7 440.2,1269.1 453.5,1264.6 466.8,1260.2 480.2,1255.9 493.5,1251.7 506.8,1247.6 520.2,1243.6 533.5,1239.6 546.9,1235.8 560.2,1232.0 573.5,1228.3 586.9,1224.6 600.2,1221.1 613.5,1217.6 626.9,1214.2 640.2,1210.8 653.6,1207.5 666.9,1204.3 680.2,1201.2 693.6,1198.1 706.9,1195.0 720.3,1192.1 733.6,1189.2 746.9,1186.3 760.3,1183.6 773.6,1180.8 786.9,1178.2 800.3,1175.6 813.6,1173.0 827.0,1170.5 840.3,1168.1 853.6,1165.7 867.0,1163.4 880.3,1161.1 893.6,1158.9 907.0,1156.8 920.3,1154.7 933.7,1152.6 947.0,1150.6 960.3,1148.7 973.7,1146.8 987.0,1144.9 1000.3,1143.1 1013.7,1141.4 1027.0,1139.7 1040.4,1138.1 1053.7,1136.5 1067.0,1134.9 1080.4,1133.5 1093.7,1132.0 1107.0,1130.6 1120.4,1129.3 1133.7,1128.0 1147.1,1126.7 1160.4,1125.5 1173.7,1124.4 1187.1,1123.3 1200.4,1122.2 1213.7,1121.2 1227.1,1120.3 1240.4,1119.3 1253.8,1118.5 1267.1,1117.7 1280.4,1116.9 1293.8,1116.2 1307.1,1115.5 1320.5,1114.9 1333.8,1114.3 1347.1,1113.7 1360.5,1113.2 1373.8,1112.8 1387.1,1112.4 1400.5,1112.0 1413.8,1111.7 1427.2,1111.5 1440.5,1111.2 1453.8,1111.1 1467.2,1111.0 1480.5,1110.9 1493.8,1110.8 1507.2,1110.9 1520.5,1110.9 1533.9,1111.0 1547.2,1111.1 1560.5,1111.3 1573.9,1111.4 1587.2,1111.6 1600.5,1111.9 1613.9,1112.2 1627.2,1112.5 1640.6,1112.8 1653.9,1113.2 1667.2,1113.6 1680.6,1114.0 1693.9,1114.4 1707.2,1114.9 1720.6,1115.5 1733.9,1116.0 1747.3,1116.6 1760.6,1117.2 1773.9,1117.9 1787.3,1118.6 1800.6,1119.3 1814.0,1120.0 1827.3,1120.8 1840.6,1121.6 1854.0,1122.5 1867.3,1123.3 1880.6,1124.2 1894.0,1125.2 1907.3,1126.1 1920.7,1127.1 1934.0,1128.2 1947.3,1129.3 1960.7,1130.4 1974.0,1131.5 1987.3,1132.7 2000.7,1133.9 2014.0,1135.1 2027.4,1136.4" fill="none" stroke="#111" stroke-width="2.5" stroke-linejoin="round" stroke-linecap="round" />
<polyline points="173.4,1400.0 185.5,1386.3 197.6,1376.6 209.7,1368.0 221.8,1360.1 234.0,1352.7 246.1,1345.7 258.2,1339.1 270.3,1332.6 282.4,1326.5 294.5,1320.5 306.6,1314.7 318.7,1309.1 330.8,1303.6 343.0,1298.3 355.1,1293.2 367.2,1288.1 379.3,1283.2 391.4,1278.4 403.5,1273.7 415.6,1269.1 427.7,1264.6 439.8,1260.2 452.0,1255.9 464.1,1251.7 476.2,1247.6 488.3,1243.6 500.4,1239.6 512.5,1235.8 524.6,1232.0 536.7,1228.3 548.8,1224.6 561.0,1221.1 573.1,1217.6 585.2,1214.2 597.3,1210.8 609.4,1207.5 621.5,1204.3 633.6,1201.1 645.7,1198.1 657.9,1195.0 670.0,1192.1 682.1,1189.2 694.2,1186.3 706.3,1183.5 718.4,1180.8 730.5,1178.2 742.6,1175.6 754.7,1173.0 766.9,1170.5 779.0,1168.1 791.1,1165.7 803.2,1163.4 815.3,1161.1 827.4,1158.9 839.5,1156.7 851.6,1154.6 863.7,1152.6 875.9,1150.6 888.0,1148.6 900.1,1146.7 912.2,1144.9 924.3,1143.1 936.4,1141.3 948.5,1139.6 960.6,1138.0 972.7,1136.4 984.9,1134.8 997.0,1133.4 1009.1,1131.9 1021.2,1130.5 1033.3,1129.2 1045.4,1127.9 1057.5,1126.6 1069.6,1125.4 1081.7,1124.2 1093.9,1123.1 1106.0,1122.1 1118.1,1121.1 1130.2,1120.1 1142.3,1119.2 1154.4,1118.3 1166.5,1117.5 1178.6,1116.7 1190.7,1116.0 1202.9,1115.3 1215.0,1114.6 1227.1,1114.0 1239.2,1113.5 1251.3,1113.0 1263.4,1112.5 1275.5,1112.1 1287.6,1111.8 1299.7,1111.5 1311.9,1111.2 1324.0,1111.0 1336.1,1110.8 1348.2,1110.6 1360.3,1110.6 1372.4,1110.5 1384.5,1110.5 1396.6,1110.6 1408.8,1110.6 1420.9,1110.7 1433.0,1110.9 1445.1,1111.0 1457.2,1111.2 1469.3,1111.5 1481.4,1111.7 1493.5,1112.0 1505.6,1112.3 1517.8,1112.7 1529.9,1113.1 1542.0,1113.5 1554.1,1114.0 1566.2,1114.4 1578.3,1114.9 1590.4,1115.5 1602.5,1116.1 1614.6,1116.7 1626.8,1117.3 1638.9,1118.0 1651.0,1118.7 1663.1,1119.4 1675.2,1120.2 1687.3,1121.0 1699.4,1121.8 1711.5,1122.7 1723.6,1123.6 1735.8,1124.5 1747.9,1125.4 1760.0,1126.4 1772.1,1127.5 1784.2,1128.5 1796.3,1129.6 1808.4,1130.7 1820.5,1131.9 1832.6,1133.1 1844.8,1134.3 1856.9,1135.5" fill="none" stroke="#111" stroke-width="2.5" stroke-linejoin="round" stroke-linecap="round" />
<polyline points="173.4,1400.0 184.2,1386.3 195.1,1376.6 205.9,1368.0 216.8,1360.1 227.6,1352.7 238.5,1345.7 249.3,1339.1 260.2,1332.6 271.0,1326.5 281.9,1320.5 292.7,1314.7 303.6,1309.1 314.4,1303.6 325.3,1298.3 336.1,1293.2 347.0,1288.1 357.8,1283.2 368.7,1278.4 379.5,1273.7 390.4,1269.1 401.2,1264.6 412.1,1260.2 422.9,1255.9 433.8,1251.7 444.6,1247.6 455.5,1243.6 466.3,1239.6 477.2,1235.8 488.0,1232.0 498.9,1228.3 509.7,1224.6 520.6,1221.1 531.4,1217.6 542.3,1214.1 553.1,1210.8 564.0,1207.5 574.8,1204.3 585.7,1201.1 596.5,1198.0 607.4,1195.0 618.2,1192.1 629.1,1189.2 639.9,1186.3 650.8,1183.5 661.6,1180.8 672.5,1178.1 683.3,1175.5 694.2,1173.0 705.0,1170.5 715.9,1168.1 726.7,1165.7 737.6,1163.4 748.4,1161.1 759.3,1158.9 770.1,1156.7 781.0,1154.6 791.8,1152.5 802.7,1150.5 813.5,1148.6 824.4,1146.7 835.2,1144.8 846.1,1143.0 856.9,1141.3 867.8,1139.6 878.6,1137.9 889.5,1136.4 900.3,1134.8 911.2,1133.3 922.0,1131.9 932.9,1130.5 943.7,1129.1 954.6,1127.8 965.4,1126.5 976.3,1125.3 987.1,1124.2 998.0,1123.1 1008.8,1122.0 1019.7,1121.0 1030.5,1120.0 1041.4,1119.1 1052.2,1118.2 1063.1,1117.4 1073.9,1116.6 1084.8,1115.9 1095.6,1115.2 1106.5,1114.5 1117.3,1113.9 1128.2,1113.4 1139.0,1112.9 1149.9,1112.4 1160.7,1112.0 1171.6,1111.6 1182.4,1111.3 1193.3,1111.0 1204.1,1110.8 1215.0,1110.6 1225.8,1110.5 1236.7,1110.4 1247.5,1110.4 1258.4,1110.4 1269.2,1110.4 1280.1,1110.5 1290.9,1110.6 1301.8,1110.7 1312.6,1110.8 1323.5,1111.0 1334.3,1111.3 1345.2,1111.5 1356.0,1111.8 1366.9,1112.1 1377.7,1112.5 1388.6,1112.9 1399.4,1113.3 1410.3,1113.7 1421.1,1114.2 1432.0,1114.7 1442.8,1115.2 1453.7,1115.8 1464.5,1116.4 1475.4,1117.0 1486.2,1117.7 1497.1,1118.4 1507.9,1119.1 1518.8,1119.9 1529.6,1120.7 1540.5,1121.5 1551.3,1122.3 1562.2,1123.2 1573.0,1124.1 1583.9,1125.1 1594.7,1126.1 1605.6,1127.1 1616.4,1128.1 1627.3,1129.2 1638.1,1130.3 1649.0,1131.5 1659.8,1132.6 1670.7,1133.9 1681.5,1135.1" fill="none" stroke="#111" stroke-width="2.5" stroke-linejoin="round" stroke-linecap="round" />
<polyline points="173.4,1400.0 182.9,1386.3 192.5,1376.6 202.0,1368.0 211.5,1360.1 221.0,1352.7 230.6,1345.7 240.1,1339.1 249.6,1332.6 259.1,1326.5 268.7,1320.5 278.2,1314.7 287.7,1309.1 297.3,1303.6 306.8,1298.3 316.3,1293.2 325.8,1288.1 335.4,1283.2 344.9,1278.4 354.4,1273.7 363.9,1269.1 373.5,1264.6 383.0,1260.2 392.5,1255.9 402.1,1251.7 411.6,1247.6 421.1,1243.6 430.6,1239.6 440.2,1235.8 449.7,1232.0 459.2,1228.3 468.8,1224.6 478.3,1221.1 487.8,1217.6 497.3,1214.1 506.9,1210.8 516.4,1207.5 525.9,1204.3 535.4,1201.1 545.0,1198.0 554.5,1195.0 564.0,1192.0 573.6,1189.1 583.1,1186.3 592.6,1183.5 602.1,1180.8 611.7,1178.1 621.2,1175.5 630.7,1173.0 640.2,1170.5 649.8,1168.0 659.3,1165.6 668.8,1163.3 678.4,1161.0 687.9,1158.8 697.4,1156.7 706.9,1154.5 716.5,1152.5 726.0,1150.5 735.5,1148.5 745.0,1146.6 754.6,1144.8 764.1,1143.0 773.6,1141.2 783.2,1139.5 792.7,1137.9 802.2,1136.3 811.7,1134.7 821.3,1133.2 830.8,1131.8 840.3,1130.3 849.8,1129.0 859.4,1127.7 868.9,1126.4 878.4,1125.2 888.0,1124.0 897.5,1122.9 907.0,1121.9 916.5,1120.8 926.1,1119.9 935.6,1118.9 945.1,1118.0 954.6,1117.2 964.2,1116.4 973.7,1115.7 983.2,1115.0 992.8,1114.3 1002.3,1113.7 1011.8,1113.2 1021.3,1112.6 1030.9,1112.2 1040.4,1111.8 1049.9,1111.4 1059.5,1111.0 1069.0,1110.8 1078.5,1110.5 1088.0,1110.3 1097.6,1110.2 1107.1,1110.1 1116.6,1110.0 1126.1,1110.0 1135.7,1110.0 1145.2,1110.1 1154.7,1110.2 1164.3,1110.3 1173.8,1110.5 1183.3,1110.6 1192.8,1110.9 1202.4,1111.1 1211.9,1111.4 1221.4,1111.7 1230.9,1112.0 1240.5,1112.4 1250.0,1112.8 1259.5,1113.2 1269.1,1113.7 1278.6,1114.2 1288.1,1114.7 1297.6,1115.2 1307.2,1115.8 1316.7,1116.4 1326.2,1117.1 1335.7,1117.8 1345.3,1118.5 1354.8,1119.2 1364.3,1120.0 1373.9,1120.8 1383.4,1121.7 1392.9,1122.5 1402.4,1123.4 1412.0,1124.4 1421.5,1125.3 1431.0,1126.3 1440.5,1127.4 1450.1,1128.4 1459.6,1129.5 1469.1,1130.7 1478.7,1131.8 1488.2,1133.0 1497.7,1134.3" fill="none" stroke="#111" stroke-width="2.5" stroke-linejoin="round" stroke-linecap="round" />
<polyline points="173.4,1400.0 181.6,1386.3 189.8,1376.6 198.0,1368.0 206.2,1360.1 214.4,1352.7 222.6,1345.7 230.9,1339.1 239.1,1332.6 247.3,1326.5 255.5,1320.5 263.7,1314.7 271.9,1309.1 280.1,1303.6 288.3,1298.3 296.5,1293.2 304.7,1288.1 312.9,1283.2 321.1,1278.4 329.3,1273.7 337.6,1269.1 345.8,1264.6 354.0,1260.2 362.2,1255.9 370.4,1251.7 378.6,1247.6 386.8,1243.6 395.0,1239.6 403.2,1235.8 411.4,1232.0 419.6,1228.3 427.8,1224.6 436.1,1221.1 444.3,1217.6 452.5,1214.1 460.7,1210.8 468.9,1207.5 477.1,1204.3 485.3,1201.1 493.5,1198.0 501.7,1195.0 509.9,1192.0 518.1,1189.1 526.3,1186.3 534.5,1183.5 542.8,1180.8 551.0,1178.1 559.2,1175.5 567.4,1172.9 575.6,1170.4 583.8,1168.0 592.0,1165.6 600.2,1163.3 608.4,1161.0 616.6,1158.8 624.8,1156.6 633.0,1154.5 641.2,1152.4 649.5,1150.4 657.7,1148.5 665.9,1146.6 674.1,1144.7 682.3,1142.9 690.5,1141.1 698.7,1139.4 706.9,1137.8 715.1,1136.2 723.3,1134.6 731.5,1133.1 739.7,1131.6 748.0,1130.2 756.2,1128.9 764.4,1127.6 772.6,1126.3 780.8,1125.1 789.0,1123.9 797.2,1122.8 805.4,1121.7 813.6,1120.7 821.8,1119.7 830.0,1118.8 838.2,1117.9 846.4,1117.0 854.7,1116.2 862.9,1115.5 871.1,1114.8 879.3,1114.1 887.5,1113.5 895.7,1112.9 903.9,1112.4 912.1,1111.9 920.3,1111.5 928.5,1111.1 936.7,1110.8 944.9,1110.5 953.1,1110.2 961.4,1110.0 969.6,1109.9 977.8,1109.8 986.0,1109.7 994.2,1109.7 1002.4,1109.7 1010.6,1109.7 1018.8,1109.8 1027.0,1109.9 1035.2,1110.1 1043.4,1110.2 1051.6,1110.4 1059.9,1110.7 1068.1,1110.9 1076.3,1111.2 1084.5,1111.6 1092.7,1111.9 1100.9,1112.3 1109.1,1112.7 1117.3,1113.2 1125.5,1113.6 1133.7,1114.2 1141.9,1114.7 1150.1,1115.3 1158.3,1115.9 1166.6,1116.5 1174.8,1117.2 1183.0,1117.9 1191.2,1118.6 1199.4,1119.4 1207.6,1120.2 1215.8,1121.0 1224.0,1121.9 1232.2,1122.8 1240.4,1123.7 1248.6,1124.6 1256.8,1125.6 1265.0,1126.6 1273.3,1127.7 1281.5,1128.8 1289.7,1129.9 1297.9,1131.0 1306.1,1132.2 1314.3,1133.4" fill="none" stroke="#111" stroke-width="2.5" stroke-linejoin="round" stroke-linecap="round" />
<polyline points="173.4,1400.0 180.3,1386.3 187.1,1376.6 194.0,1368.0 200.9,1360.1 207.7,1352.7 214.6,1345.7 221.5,1339.1 228.3,1332.6 235.2,1326.5 242.1,1320.5 248.9,1314.7 255.8,1309.1 262.6,1303.6 269.5,1298.3 276.4,1293.2 283.2,1288.1 290.1,1283.2 297.0,1278.4 303.8,1273.7 310.7,1269.1 317.6,1264.6 324.4,1260.2 331.3,1255.9 338.2,1251.7 345.0,1247.6 351.9,1243.6 358.8,1239.6 365.6,1235.8 372.5,1232.0 379.4,1228.3 386.2,1224.6 393.1,1221.0 399.9,1217.5 406.8,1214.1 413.7,1210.8 420.5,1207.5 427.4,1204.3 434.3,1201.1 441.1,1198.0 448.0,1195.0 454.9,1192.0 461.7,1189.1 468.6,1186.3 475.5,1183.5 482.3,1180.7 489.2,1178.1 496.1,1175.5 502.9,1172.9 509.8,1170.4 516.7,1168.0 523.5,1165.6 530.4,1163.2 537.2,1161.0 544.1,1158.7 551.0,1156.6 557.8,1154.4 564.7,1152.4 571.6,1150.4 578.4,1148.4 585.3,1146.5 592.2,1144.6 599.0,1142.8 605.9,1141.1 612.8,1139.4 619.6,1137.7 626.5,1136.1 633.4,1134.5 640.2,1133.0 647.1,1131.5 654.0,1130.1 660.8,1128.8 667.7,1127.4 674.6,1126.2 681.4,1124.9 688.3,1123.8 695.1,1122.6 702.0,1121.6 708.9,1120.5 715.7,1119.5 722.6,1118.6 729.5,1117.7 736.3,1116.8 743.2,1116.0 750.1,1115.3 756.9,1114.6 763.8,1113.9 770.7,1113.3 777.5,1112.7 784.4,1112.2 791.3,1111.7 798.1,1111.2 805.0,1110.9 811.9,1110.5 818.7,1110.2 825.6,1109.9 832.4,1109.7 839.3,1109.6 846.2,1109.4 853.0,1109.4 859.9,1109.3 866.8,1109.3 873.6,1109.4 880.5,1109.4 887.4,1109.5 894.2,1109.7 901.1,1109.8 908.0,1110.0 914.8,1110.2 921.7,1110.5 928.6,1110.8 935.4,1111.1 942.3,1111.4 949.2,1111.8 956.0,1112.2 962.9,1112.7 969.8,1113.1 976.6,1113.6 983.5,1114.2 990.3,1114.7 997.2,1115.3 1004.1,1115.9 1010.9,1116.6 1017.8,1117.3 1024.7,1118.0 1031.5,1118.7 1038.4,1119.5 1045.3,1120.3 1052.1,1121.2 1059.0,1122.1 1065.9,1123.0 1072.7,1123.9 1079.6,1124.9 1086.5,1125.9 1093.3,1126.9 1100.2,1128.0 1107.1,1129.1 1113.9,1130.2 1120.8,1131.4 1127.6,1132.6" fill="none" stroke="#111" stroke-width="2.5" stroke-linejoin="round" stroke-linecap="round" />
<polyline points="173.4,1400.0 178.9,1386.3 184.4,1376.6 189.9,1368.0 195.4,1360.1 201.0,1352.7 206.5,1345.7 212.0,1339.1 217.5,1332.6 223.0,1326.5 228.5,1320.5 234.0,1314.7 239.5,1309.1 245.0,1303.6 250.5,1298.3 256.1,1293.2 261.6,1288.1 267.1,1283.2 272.6,1278.4 278.1,1273.7 283.6,1269.1 289.1,1264.6 294.6,1260.2 300.1,1255.9 305.7,1251.7 311.2,1247.6 316.7,1243.6 322.2,1239.6 327.7,1235.8 333.2,1232.0 338.7,1228.2 344.2,1224.6 349.7,1221.0 355.3,1217.5 360.8,1214.1 366.3,1210.8 371.8,1207.5 377.3,1204.2 382.8,1201.1 388.3,1198.0 393.8,1195.0 399.3,1192.0 404.8,1189.1 410.4,1186.2 415.9,1183.4 421.4,1180.7 426.9,1178.0 432.4,1175.4 437.9,1172.9 443.4,1170.4 448.9,1167.9 454.4,1165.5 460.0,1163.2 465.5,1160.9 471.0,1158.7 476.5,1156.5 482.0,1154.4 487.5,1152.3 493.0,1150.3 498.5,1148.3 504.0,1146.4 509.6,1144.6 515.1,1142.8 520.6,1141.0 526.1,1139.3 531.6,1137.6 537.1,1136.0 542.6,1134.4 548.1,1132.9 553.6,1131.4 559.1,1130.0 564.7,1128.7 570.2,1127.3 575.7,1126.0 581.2,1124.8 586.7,1123.6 592.2,1122.5 597.7,1121.4 603.2,1120.4 608.7,1119.4 614.3,1118.4 619.8,1117.5 625.3,1116.7 630.8,1115.8 636.3,1115.1 641.8,1114.4 647.3,1113.7 652.8,1113.1 658.3,1112.5 663.9,1111.9 669.4,1111.4 674.9,1111.0 680.4,1110.6 685.9,1110.2 691.4,1109.9 696.9,1109.7 702.4,1109.4 707.9,1109.3 713.4,1109.1 719.0,1109.0 724.5,1109.0 730.0,1109.0 735.5,1109.0 741.0,1109.1 746.5,1109.2 752.0,1109.3 757.5,1109.4 763.0,1109.6 768.6,1109.8 774.1,1110.1 779.6,1110.3 785.1,1110.6 790.6,1111.0 796.1,1111.3 801.6,1111.7 807.1,1112.1 812.6,1112.6 818.1,1113.1 823.7,1113.6 829.2,1114.2 834.7,1114.7 840.2,1115.3 845.7,1116.0 851.2,1116.7 856.7,1117.4 862.2,1118.1 867.7,1118.9 873.3,1119.7 878.8,1120.5 884.3,1121.4 889.8,1122.3 895.3,1123.2 900.8,1124.1 906.3,1125.1 911.8,1126.2 917.3,1127.2 922.9,1128.3 928.4,1129.4 933.9,1130.6 939.4,1131.8" fill="none" stroke="#111" stroke-width="2.5" stroke-linejoin="round" stroke-linecap="round" />
<polyline points="173.4,1400.0 176.9,1386.3 180.3,1376.6 183.8,1368.0 187.3,1360.1 190.7,1352.7 194.2,1345.7 197.7,1339.1 201.1,1332.6 204.6,1326.5 208.1,1320.5 211.5,1314.7 215.0,1309.1 218.5,1303.6 221.9,1298.3 225.4,1293.2 228.9,1288.1 232.3,1283.2 235.8,1278.4 239.3,1273.7 242.7,1269.1 246.2,1264.6 249.7,1260.2 253.2,1255.9 256.6,1251.7 260.1,1247.6 263.6,1243.6 267.0,1239.6 270.5,1235.8 274.0,1232.0 277.4,1228.2 280.9,1224.6 284.4,1221.0 287.8,1217.5 291.3,1214.1 294.8,1210.8 298.2,1207.5 301.7,1204.2 305.2,1201.1 308.6,1198.0 312.1,1194.9 315.6,1192.0 319.0,1189.1 322.5,1186.2 326.0,1183.4 329.4,1180.7 332.9,1178.0 336.4,1175.4 339.8,1172.9 343.3,1170.4 346.8,1167.9 350.2,1165.5 353.7,1163.2 357.2,1160.9 360.6,1158.7 364.1,1156.5 367.6,1154.4 371.0,1152.3 374.5,1150.3 378.0,1148.3 381.4,1146.4 384.9,1144.5 388.4,1142.7 391.8,1141.0 395.3,1139.2 398.8,1137.6 402.3,1136.0 405.7,1134.4 409.2,1132.9 412.7,1131.4 416.1,1130.0 419.6,1128.6 423.1,1127.3 426.5,1126.0 430.0,1124.8 433.5,1123.6 436.9,1122.4 440.4,1121.3 443.9,1120.3 447.3,1119.3 450.8,1118.3 454.3,1117.4 457.7,1116.6 461.2,1115.8 464.7,1115.0 468.1,1114.3 471.6,1113.6 475.1,1112.9 478.5,1112.4 482.0,1111.8 485.5,1111.3 488.9,1110.9 492.4,1110.5 495.9,1110.1 499.3,1109.8 502.8,1109.5 506.3,1109.3 509.7,1109.1 513.2,1109.0 516.7,1108.9 520.1,1108.8 523.6,1108.8 527.1,1108.8 530.5,1108.9 534.0,1109.0 537.5,1109.1 540.9,1109.2 544.4,1109.4 547.9,1109.6 551.3,1109.8 554.8,1110.1 558.3,1110.4 561.8,1110.7 565.2,1111.1 568.7,1111.5 572.2,1111.9 575.6,1112.3 579.1,1112.8 582.6,1113.3 586.0,1113.9 589.5,1114.4 593.0,1115.1 596.4,1115.7 599.9,1116.4 603.4,1117.1 606.8,1117.8 610.3,1118.5 613.8,1119.3 617.2,1120.2 620.7,1121.0 624.2,1121.9 627.6,1122.8 631.1,1123.8 634.6,1124.8 638.0,1125.8 641.5,1126.8 645.0,1127.9 648.4,1129.0 651.9,1130.2 655.4,1131.4" fill="none" stroke="#111" stroke-width="2.5" stroke-linejoin="round" stroke-linecap="round" />
<polyline points="173.4,1400.0 176.2,1386.3 178.9,1376.6 181.7,1368.0 184.5,1360.1 187.2,1352.7 190.0,1345.7 192.8,1339.1 195.5,1332.6 198.3,1326.5 201.1,1320.5 203.8,1314.7 206.6,1309.1 209.4,1303.6 212.1,1298.3 214.9,1293.2 217.7,1288.1 220.4,1283.2 223.2,1278.4 226.0,1273.7 228.7,1269.1 231.5,1264.6 234.3,1260.2 237.0,1255.9 239.8,1251.7 242.6,1247.6 245.3,1243.6 248.1,1239.6 250.9,1235.8 253.6,1232.0 256.4,1228.2 259.2,1224.6 261.9,1221.0 264.7,1217.5 267.5,1214.1 270.2,1210.7 273.0,1207.5 275.8,1204.2 278.5,1201.1 281.3,1198.0 284.1,1194.9 286.8,1192.0 289.6,1189.1 292.4,1186.2 295.1,1183.4 297.9,1180.7 300.7,1178.0 303.4,1175.4 306.2,1172.8 309.0,1170.3 311.7,1167.9 314.5,1165.5 317.3,1163.2 320.0,1160.9 322.8,1158.7 325.6,1156.5 328.3,1154.3 331.1,1152.3 333.9,1150.3 336.7,1148.3 339.4,1146.4 342.2,1144.5 345.0,1142.7 347.7,1140.9 350.5,1139.2 353.3,1137.5 356.0,1135.9 358.8,1134.3 361.6,1132.8 364.3,1131.3 367.1,1129.9 369.9,1128.5 372.6,1127.2 375.4,1125.9 378.2,1124.7 380.9,1123.5 383.7,1122.4 386.5,1121.3 389.2,1120.2 392.0,1119.2 394.8,1118.3 397.5,1117.3 400.3,1116.5 403.1,1115.7 405.8,1114.9 408.6,1114.2 411.4,1113.5 414.1,1112.8 416.9,1112.2 419.7,1111.7 422.4,1111.2 425.2,1110.7 428.0,1110.3 430.7,1110.0 433.5,1109.6 436.3,1109.4 439.0,1109.1 441.8,1109.0 444.6,1108.8 447.3,1108.7 450.1,1108.7 452.9,1108.6 455.6,1108.7 458.4,1108.7 461.2,1108.8 463.9,1108.9 466.7,1109.0 469.5,1109.2 472.2,1109.4 475.0,1109.6 477.8,1109.9 480.5,1110.2 483.3,1110.5 486.1,1110.8 488.8,1111.2 491.6,1111.6 494.4,1112.1 497.1,1112.6 499.9,1113.1 502.7,1113.6 505.4,1114.2 508.2,1114.8 511.0,1115.4 513.7,1116.1 516.5,1116.7 519.3,1117.5 522.0,1118.2 524.8,1119.0 527.6,1119.8 530.3,1120.7 533.1,1121.6 535.9,1122.5 538.6,1123.4 541.4,1124.4 544.2,1125.4 546.9,1126.4 549.7,1127.5 552.5,1128.6 555.2,1129.8 558.0,1130.9" fill="none" stroke="#111" stroke-width="2.5" stroke-linejoin="round" stroke-linecap="round" />
<polyline points="173.4,1400.0 185.1,1388.6 196.7,1380.4 208.4,1373.2 220.0,1366.6 231.7,1360.3 243.4,1354.4 255.0,1348.8 266.7,1343.3 278.3,1338.1 290.0,1333.0 301.7,1328.0 313.3,1323.2 325.0,1318.6 336.6,1314.0 348.3,1309.5 360.0,1305.2 371.6,1300.9 383.3,1296.7 394.9,1292.7 406.6,1288.6 418.3,1284.7 429.9,1280.9 441.6,1277.1 453.2,1273.4 464.9,1269.7 476.6,1266.1 488.2,1262.6 499.9,1259.1 511.5,1255.7 523.2,1252.4 534.9,1249.1 546.5,1245.9 558.2,1242.7 569.8,1239.6 581.5,1236.5 593.2,1233.4 604.8,1230.5 616.5,1227.5 628.1,1224.6 639.8,1221.8 651.5,1219.0 663.1,1216.3 674.8,1213.6 686.4,1210.9 698.1,1208.3 709.8,1205.7 721.4,1203.2 733.1,1200.7 744.7,1198.2 756.4,1195.8 768.1,1193.4 779.7,1191.1 791.4,1188.8 803.0,1186.5 814.7,1184.3 826.4,1182.1 838.0,1180.0 849.7,1177.9 861.3,1175.8 873.0,1173.8 884.7,1171.8 896.3,1169.8 908.0,1167.9 919.6,1166.0 931.3,1164.1 943.0,1162.3 954.6,1160.5 966.3,1158.8 977.9,1157.1 989.6,1155.4 1001.3,1153.7 1012.9,1152.1 1024.6,1150.5 1036.2,1149.0 1047.9,1147.4 1059.6,1145.9 1071.2,1144.5 1082.9,1143.1 1094.5,1141.7 1106.2,1140.3 1117.9,1139.0 1129.5,1137.7 1141.2,1136.4 1152.8,1135.2 1164.5,1134.0 1176.2,1132.8 1187.8,1131.7 1199.5,1130.5 1211.1,1129.5 1222.8,1128.4 1234.5,1127.4 1246.1,1126.4 1257.8,1125.5 1269.4,1124.5 1281.1,1123.6 1292.8,1122.8 1304.4,1121.9 1316.1,1121.1 1327.7,1120.3 1339.4,1119.6 1351.1,1118.8 1362.7,1118.0 1374.4,1117.2 1386.1,1116.5 1397.7,1115.8 1409.4,1115.2 1421.0,1114.6 1432.7,1114.0 1444.4,1113.5 1456.0,1113.0 1467.7,1112.5 1479.3,1112.1 1491.0,1111.8 1502.7,1111.4 1514.3,1111.1 1526.0,1110.9 1537.6,1110.7 1549.3,1110.5 1561.0,1110.4 1572.6,1110.3 1584.3,1110.3 1595.9,1110.3 1607.6,1110.4 1619.3,1110.4 1630.9,1110.5 1642.6,1110.7 1654.2,1110.8 1665.9,1111.0 1677.6,1111.3 1689.2,1111.5 1700.9,1111.8 1712.5,1112.1 1724.2,1112.5 1735.9,1112.9 1747.5,1113.3 1759.2,1113.8 1770.8,1114.3 1782.5,1114.8 1794.2,1115.4 1805.8,1116.0 1817.5,1116.6 1829.1,1117.3 1840.8,1118.0 1852.5,1118.7 1864.1,1119.5 1875.8,1120.3 1887.4,1121.2 1899.1,1122.1 1910.8,1123.1 1922.4,1124.0 1934.1,1125.1 1945.7,1126.1 1957.4,1127.2 1969.1,1128.4 1980.7,1129.6 1992.4,1130.8 2004.0,1132.1 2015.7,1133.4 2027.4,1134.8" fill="none" stroke="#111" stroke-width="2.5" stroke-linejoin="round" stroke-linecap="round" />
<polyline points="173.4,1400.0 186.7,1387.8 200.1,1379.1 213.4,1371.4 226.8,1364.3 240.1,1357.7 253.4,1351.4 266.8,1345.4 280.1,1339.7 293.4,1334.1 306.8,1328.8 320.1,1323.6 333.5,1318.5 346.8,1313.6 360.1,1308.8 373.5,1304.2 386.8,1299.6 400.1,1295.2" fill="none" stroke="#0a0a0a" stroke-width="3.5" stroke-linejoin="round" stroke-linecap="round" />
<polyline points="400.1,1295.2 413.5,1290.9 426.8,1286.6 440.2,1282.5 453.5,1278.5 466.8,1274.5 480.2,1270.6 493.5,1266.8 506.8,1263.1 520.2,1259.5 533.5,1255.9 546.9,1252.4 560.2,1249.0 573.5,1245.7 586.9,1242.4 600.2,1239.2 613.5,1236.1 626.9,1233.0 640.2,1230.0 653.6,1227.0 666.9,1224.1 680.2,1221.3 693.6,1218.5 706.9,1215.8 720.3,1213.1 733.6,1210.5 746.9,1208.0 760.3,1205.5 773.6,1203.0 786.9,1200.6 800.3,1198.3 813.6,1196.0 827.0,1193.8 840.3,1191.6 853.6,1189.5 867.0,1187.4 880.3,1185.4 893.6,1183.4 907.0,1181.5 920.3,1179.6 933.7,1177.8 947.0,1176.0 960.3,1174.3 973.7,1172.6 987.0,1170.9 1000.3,1169.3 1013.7,1167.8 1027.0,1166.3 1040.4,1164.8 1053.7,1163.4 1067.0,1162.1 1080.4,1160.8 1093.7,1159.5 1107.0,1158.3 1120.4,1157.1 1133.7,1155.9 1147.1,1154.8 1160.4,1153.8 1173.7,1152.8 1187.1,1151.8 1200.4,1150.9 1213.7,1150.0 1227.1,1149.2 1240.4,1148.4 1253.8,1147.6 1267.1,1146.9 1280.4,1146.3 1293.8,1145.6 1307.1,1145.1 1320.5,1144.5 1333.8,1144.0 1347.1,1143.6 1360.5,1143.2 1373.8,1142.8 1387.1,1142.5 1400.5,1142.2 1413.8,1141.9 1427.2,1141.7 1440.5,1141.6 1453.8,1141.5 1467.2,1141.4 1480.5,1141.3 1493.8,1141.4 1507.2,1141.4 1520.5,1141.5 1533.9,1141.6 1547.2,1141.7 1560.5,1141.9 1573.9,1142.1 1587.2,1142.3 1600.5,1142.5 1613.9,1142.8 1627.2,1143.1 1640.6,1143.4 1653.9,1143.8 1667.2,1144.2 1680.6,1144.6 1693.9,1145.0 1707.2,1145.5 1720.6,1146.0 1733.9,1146.5 1747.3,1147.0 1760.6,1147.6 1773.9,1148.2 1787.3,1148.9 1800.6,1149.5 1814.0,1150.2 1827.3,1150.9 1840.6,1151.7 1854.0,1152.4 1867.3,1153.2 1880.6,1154.1 1894.0,1154.9 1907.3,1155.8 1920.7,1156.7 1934.0,1157.7 1947.3,1158.7 1960.7,1159.7 1974.0,1160.7 1987.3,1161.7 2000.7,1162.8 2014.0,1163.9 2027.4,1165.1" fill="none" stroke="#0a0a0a" stroke-width="5.2" stroke-linejoin="round" stroke-linecap="round" />
<polyline points="173.4,1400.0 185.5,1387.9 197.6,1379.3 209.7,1371.6 221.8,1364.6 234.0,1358.0 246.1,1351.8 258.2,1345.8 270.3,1340.1 282.4,1334.5 294.5,1329.2 306.6,1324.0 318.7,1319.0 330.8,1314.1 343.0,1309.3 355.1,1304.7 367.2,1300.1 379.3,1295.7 391.4,1291.4 403.5,1287.1" fill="none" stroke="#0a0a0a" stroke-width="3.5" stroke-linejoin="round" stroke-linecap="round" />
<polyline points="403.5,1287.1 415.6,1283.0 427.7,1278.9 439.8,1275.0 452.0,1271.1 464.1,1267.3 476.2,1263.6 488.3,1259.9 500.4,1256.4 512.5,1252.9 524.6,1249.4 536.7,1246.1 548.8,1242.8 561.0,1239.6 573.1,1236.4 585.2,1233.3 597.3,1230.2 609.4,1227.3 621.5,1224.4 633.6,1221.5 645.7,1218.7 657.9,1216.0 670.0,1213.3 682.1,1210.6 694.2,1208.1 706.3,1205.5 718.4,1203.1 730.5,1200.7 742.6,1198.3 754.7,1196.0 766.9,1193.7 779.0,1191.5 791.1,1189.4 803.2,1187.3 815.3,1185.2 827.4,1183.2 839.5,1181.2 851.6,1179.3 863.7,1177.5 875.9,1175.7 888.0,1173.9 900.1,1172.2 912.2,1170.5 924.3,1168.9 936.4,1167.3 948.5,1165.8 960.6,1164.3 972.7,1162.8 984.9,1161.5 997.0,1160.1 1009.1,1158.8 1021.2,1157.5 1033.3,1156.3 1045.4,1155.2 1057.5,1154.0 1069.6,1152.9 1081.7,1151.9 1093.9,1150.9 1106.0,1149.9 1118.1,1149.0 1130.2,1148.2 1142.3,1147.3 1154.4,1146.6 1166.5,1145.8 1178.6,1145.1 1190.7,1144.5 1202.9,1143.9 1215.0,1143.3 1227.1,1142.8 1239.2,1142.3 1251.3,1141.8 1263.4,1141.4 1275.5,1141.1 1287.6,1140.8 1299.7,1140.5 1311.9,1140.3 1324.0,1140.1 1336.1,1139.9 1348.2,1139.8 1360.3,1139.7 1372.4,1139.7 1384.5,1139.7 1396.6,1139.8 1408.8,1139.8 1420.9,1140.0 1433.0,1140.1 1445.1,1140.2 1457.2,1140.4 1469.3,1140.7 1481.4,1140.9 1493.5,1141.2 1505.6,1141.5 1517.8,1141.8 1529.9,1142.2 1542.0,1142.6 1554.1,1143.0 1566.2,1143.4 1578.3,1143.9 1590.4,1144.4 1602.5,1144.9 1614.6,1145.5 1626.8,1146.0 1638.9,1146.7 1651.0,1147.3 1663.1,1148.0 1675.2,1148.7 1687.3,1149.4 1699.4,1150.2 1711.5,1150.9 1723.6,1151.7 1735.8,1152.6 1747.9,1153.5 1760.0,1154.4 1772.1,1155.3 1784.2,1156.2 1796.3,1157.2 1808.4,1158.2 1820.5,1159.3 1832.6,1160.4 1844.8,1161.5 1856.9,1162.6" fill="none" stroke="#0a0a0a" stroke-width="5.2" stroke-linejoin="round" stroke-linecap="round" />
<polyline points="173.4,1400.0 184.2,1388.1 195.1,1379.6 205.9,1372.1 216.8,1365.2 227.6,1358.7 238.5,1352.6 249.3,1346.7 260.2,1341.0 271.0,1335.5 281.9,1330.2 292.7,1325.1 303.6,1320.1 314.4,1315.3 325.3,1310.5 336.1,1305.9 347.0,1301.4 357.8,1297.0 368.7,1292.7 379.5,1288.5 390.4,1284.4 401.2,1280.4" fill="none" stroke="#0a0a0a" stroke-width="3.5" stroke-linejoin="round" stroke-linecap="round" />
<polyline points="401.2,1280.4 412.1,1276.4 422.9,1272.6 433.8,1268.8 444.6,1265.1 455.5,1261.4 466.3,1257.9 477.2,1254.4 488.0,1251.0 498.9,1247.6 509.7,1244.3 520.6,1241.1 531.4,1237.9 542.3,1234.8 553.1,1231.8 564.0,1228.8 574.8,1225.9 585.7,1223.0 596.5,1220.2 607.4,1217.4 618.2,1214.7 629.1,1212.1 639.9,1209.5 650.8,1207.0 661.6,1204.5 672.5,1202.0 683.3,1199.7 694.2,1197.3 705.0,1195.1 715.9,1192.8 726.7,1190.7 737.6,1188.5 748.4,1186.5 759.3,1184.4 770.1,1182.4 781.0,1180.5 791.8,1178.6 802.7,1176.8 813.5,1175.0 824.4,1173.3 835.2,1171.6 846.1,1169.9 856.9,1168.3 867.8,1166.8 878.6,1165.3 889.5,1163.8 900.3,1162.4 911.2,1161.0 922.0,1159.7 932.9,1158.4 943.7,1157.1 954.6,1155.9 965.4,1154.8 976.3,1153.7 987.1,1152.6 998.0,1151.6 1008.8,1150.6 1019.7,1149.6 1030.5,1148.7 1041.4,1147.9 1052.2,1147.1 1063.1,1146.3 1073.9,1145.6 1084.8,1144.9 1095.6,1144.3 1106.5,1143.7 1117.3,1143.1 1128.2,1142.6 1139.0,1142.1 1149.9,1141.7 1160.7,1141.3 1171.6,1141.0 1182.4,1140.7 1193.3,1140.4 1204.1,1140.2 1215.0,1140.0 1225.8,1139.9 1236.7,1139.8 1247.5,1139.7 1258.4,1139.7 1269.2,1139.7 1280.1,1139.8 1290.9,1139.8 1301.8,1139.9 1312.6,1140.1 1323.5,1140.2 1334.3,1140.4 1345.2,1140.7 1356.0,1140.9 1366.9,1141.2 1377.7,1141.5 1388.6,1141.8 1399.4,1142.2 1410.3,1142.6 1421.1,1143.0 1432.0,1143.5 1442.8,1143.9 1453.7,1144.4 1464.5,1145.0 1475.4,1145.5 1486.2,1146.1 1497.1,1146.8 1507.9,1147.4 1518.8,1148.1 1529.6,1148.8 1540.5,1149.5 1551.3,1150.3 1562.2,1151.1 1573.0,1151.9 1583.9,1152.8 1594.7,1153.6 1605.6,1154.6 1616.4,1155.5 1627.3,1156.5 1638.1,1157.5 1649.0,1158.5 1659.8,1159.6 1670.7,1160.6 1681.5,1161.8" fill="none" stroke="#0a0a0a" stroke-width="5.2" stroke-linejoin="round" stroke-linecap="round" />
<polyline points="173.4,1400.0 182.9,1388.5 192.5,1380.4 202.0,1373.1 211.5,1366.4 221.0,1360.2 230.6,1354.2 240.1,1348.5 249.6,1343.0 259.1,1337.7 268.7,1332.5 278.2,1327.5 287.7,1322.7 297.3,1317.9 306.8,1313.3 316.3,1308.8 325.8,1304.4 335.4,1300.1 344.9,1295.9 354.4,1291.8 363.9,1287.7 373.5,1283.8 383.0,1279.9 392.5,1276.1 402.1,1272.4" fill="none" stroke="#0a0a0a" stroke-width="3.5" stroke-linejoin="round" stroke-linecap="round" />
<polyline points="392.5,1276.1 402.1,1272.4 411.6,1268.7 421.1,1265.2 430.6,1261.6 440.2,1258.2 449.7,1254.8 459.2,1251.5 468.8,1248.2 478.3,1245.1 487.8,1241.9 497.3,1238.8 506.9,1235.8 516.4,1232.9 525.9,1230.0 535.4,1227.1 545.0,1224.3 554.5,1221.6 564.0,1218.9 573.6,1216.3 583.1,1213.7 592.6,1211.2 602.1,1208.7 611.7,1206.3 621.2,1203.9 630.7,1201.6 640.2,1199.3 649.8,1197.1 659.3,1194.9 668.8,1192.8 678.4,1190.7 687.9,1188.7 697.4,1186.7 706.9,1184.7 716.5,1182.9 726.0,1181.0 735.5,1179.2 745.0,1177.5 754.6,1175.8 764.1,1174.1 773.6,1172.5 783.2,1170.9 792.7,1169.4 802.2,1167.9 811.7,1166.4 821.3,1165.0 830.8,1163.7 840.3,1162.4 849.8,1161.1 859.4,1159.9 868.9,1158.7 878.4,1157.6 888.0,1156.5 897.5,1155.4 907.0,1154.4 916.5,1153.5 926.1,1152.5 935.6,1151.7 945.1,1150.8 954.6,1150.0 964.2,1149.3 973.7,1148.6 983.2,1147.9 992.8,1147.3 1002.3,1146.7 1011.8,1146.1 1021.3,1145.6 1030.9,1145.1 1040.4,1144.7 1049.9,1144.3 1059.5,1144.0 1069.0,1143.7 1078.5,1143.4 1088.0,1143.2 1097.6,1143.0 1107.1,1142.9 1116.6,1142.8 1126.1,1142.8 1135.7,1142.8 1145.2,1142.8 1154.7,1142.8 1164.3,1142.9 1173.8,1143.0 1183.3,1143.1 1192.8,1143.3 1202.4,1143.4 1211.9,1143.6 1221.4,1143.9 1230.9,1144.2 1240.5,1144.5 1250.0,1144.8 1259.5,1145.1 1269.1,1145.5 1278.6,1145.9 1288.1,1146.4 1297.6,1146.9 1307.2,1147.4 1316.7,1147.9 1326.2,1148.4 1335.7,1149.0 1345.3,1149.6 1354.8,1150.3 1364.3,1151.0 1373.9,1151.7 1383.4,1152.4 1392.9,1153.1 1402.4,1153.9 1412.0,1154.7 1421.5,1155.6 1431.0,1156.5 1440.5,1157.4 1450.1,1158.3 1459.6,1159.3 1469.1,1160.3 1478.7,1161.3 1488.2,1162.3 1497.7,1163.4" fill="none" stroke="#0a0a0a" stroke-width="5.2" stroke-linejoin="round" stroke-linecap="round" />
<polyline points="173.4,1400.0 181.6,1389.1 189.8,1381.3 198.0,1374.4 206.2,1368.0 214.4,1362.0 222.6,1356.3 230.9,1350.8 239.1,1345.5 247.3,1340.4 255.5,1335.5 263.7,1330.6 271.9,1325.9 280.1,1321.4 288.3,1316.9 296.5,1312.5 304.7,1308.2 312.9,1304.1 321.1,1300.0 329.3,1295.9 337.6,1292.0 345.8,1288.1 354.0,1284.3 362.2,1280.6 370.4,1277.0 378.6,1273.4 386.8,1269.9 395.0,1266.4 403.2,1263.0" fill="none" stroke="#0a0a0a" stroke-width="3.5" stroke-linejoin="round" stroke-linecap="round" />
<polyline points="395.0,1266.4 403.2,1263.0 411.4,1259.7 419.6,1256.4 427.8,1253.2 436.1,1250.1 444.3,1247.0 452.5,1244.0 460.7,1241.0 468.9,1238.0 477.1,1235.2 485.3,1232.3 493.5,1229.6 501.7,1226.9 509.9,1224.2 518.1,1221.6 526.3,1219.0 534.5,1216.5 542.8,1214.0 551.0,1211.6 559.2,1209.2 567.4,1206.9 575.6,1204.6 583.8,1202.4 592.0,1200.2 600.2,1198.1 608.4,1196.0 616.6,1193.9 624.8,1191.9 633.0,1190.0 641.2,1188.1 649.5,1186.2 657.7,1184.4 665.9,1182.6 674.1,1180.9 682.3,1179.2 690.5,1177.6 698.7,1176.0 706.9,1174.4 715.1,1172.9 723.3,1171.5 731.5,1170.0 739.7,1168.7 748.0,1167.3 756.2,1166.0 764.4,1164.8 772.6,1163.6 780.8,1162.4 789.0,1161.3 797.2,1160.2 805.4,1159.1 813.6,1158.1 821.8,1157.2 830.0,1156.3 838.2,1155.4 846.4,1154.5 854.7,1153.7 862.9,1153.0 871.1,1152.3 879.3,1151.6 887.5,1151.0 895.7,1150.4 903.9,1149.8 912.1,1149.3 920.3,1148.9 928.5,1148.4 936.7,1148.1 944.9,1147.7 953.1,1147.4 961.4,1147.1 969.6,1146.9 977.8,1146.7 986.0,1146.6 994.2,1146.5 1002.4,1146.4 1010.6,1146.4 1018.8,1146.4 1027.0,1146.4 1035.2,1146.5 1043.4,1146.6 1051.6,1146.7 1059.9,1146.8 1068.1,1147.0 1076.3,1147.2 1084.5,1147.4 1092.7,1147.7 1100.9,1147.9 1109.1,1148.3 1117.3,1148.6 1125.5,1149.0 1133.7,1149.4 1141.9,1149.8 1150.1,1150.3 1158.3,1150.7 1166.6,1151.3 1174.8,1151.8 1183.0,1152.4 1191.2,1153.0 1199.4,1153.6 1207.6,1154.3 1215.8,1155.0 1224.0,1155.7 1232.2,1156.4 1240.4,1157.2 1248.6,1158.0 1256.8,1158.8 1265.0,1159.7 1273.3,1160.6 1281.5,1161.5 1289.7,1162.5 1297.9,1163.5 1306.1,1164.5 1314.3,1165.5" fill="none" stroke="#0a0a0a" stroke-width="5.2" stroke-linejoin="round" stroke-linecap="round" />
<polyline points="173.4,1400.0 180.3,1390.2 187.1,1383.2 194.0,1376.9 200.9,1371.2 207.7,1365.7 214.6,1360.5 221.5,1355.5 228.3,1350.6 235.2,1345.9 242.1,1341.3 248.9,1336.9 255.8,1332.5 262.6,1328.3 269.5,1324.1 276.4,1320.1 283.2,1316.1 290.1,1312.2 297.0,1308.3 303.8,1304.6 310.7,1300.9 317.6,1297.2 324.4,1293.7 331.3,1290.2 338.2,1286.7 345.0,1283.3 351.9,1280.0 358.8,1276.7 365.6,1273.5 372.5,1270.3 379.4,1267.2 386.2,1264.1 393.1,1261.1 399.9,1258.1 406.8,1255.2" fill="none" stroke="#0a0a0a" stroke-width="3.5" stroke-linejoin="round" stroke-linecap="round" />
<polyline points="393.1,1261.1 399.9,1258.1 406.8,1255.2 413.7,1252.4 420.5,1249.5 427.4,1246.8 434.3,1244.0 441.1,1241.4 448.0,1238.7 454.9,1236.1 461.7,1233.6 468.6,1231.1 475.5,1228.7 482.3,1226.3 489.2,1223.9 496.1,1221.6 502.9,1219.3 509.8,1217.1 516.7,1214.9 523.5,1212.7 530.4,1210.6 537.2,1208.6 544.1,1206.6 551.0,1204.6 557.8,1202.7 564.7,1200.8 571.6,1198.9 578.4,1197.1 585.3,1195.4 592.2,1193.7 599.0,1192.0 605.9,1190.4 612.8,1188.8 619.6,1187.2 626.5,1185.7 633.4,1184.2 640.2,1182.8 647.1,1181.4 654.0,1180.0 660.8,1178.7 667.7,1177.5 674.6,1176.2 681.4,1175.0 688.3,1173.9 695.1,1172.8 702.0,1171.7 708.9,1170.7 715.7,1169.7 722.6,1168.7 729.5,1167.8 736.3,1166.9 743.2,1166.1 750.1,1165.3 756.9,1164.6 763.8,1163.8 770.7,1163.2 777.5,1162.5 784.4,1161.9 791.3,1161.4 798.1,1160.9 805.0,1160.4 811.9,1159.9 818.7,1159.5 825.6,1159.2 832.4,1158.8 839.3,1158.6 846.2,1158.3 853.0,1158.1 859.9,1157.9 866.8,1157.8 873.6,1157.7 880.5,1157.6 887.4,1157.6 894.2,1157.6 901.1,1157.6 908.0,1157.7 914.8,1157.7 921.7,1157.8 928.6,1158.0 935.4,1158.1 942.3,1158.3 949.2,1158.5 956.0,1158.8 962.9,1159.1 969.8,1159.4 976.6,1159.7 983.5,1160.1 990.3,1160.4 997.2,1160.9 1004.1,1161.3 1010.9,1161.8 1017.8,1162.3 1024.7,1162.8 1031.5,1163.4 1038.4,1164.0 1045.3,1164.6 1052.1,1165.2 1059.0,1165.9 1065.9,1166.6 1072.7,1167.3 1079.6,1168.1 1086.5,1168.9 1093.3,1169.7 1100.2,1170.6 1107.1,1171.4 1113.9,1172.4 1120.8,1173.3 1127.6,1174.3" fill="none" stroke="#0a0a0a" stroke-width="5.2" stroke-linejoin="round" stroke-linecap="round" />
<polyline points="173.4,1400.0 178.9,1392.1 184.4,1386.4 189.9,1381.4 195.4,1376.6 201.0,1372.1 206.5,1367.8 212.0,1363.7 217.5,1359.7 223.0,1355.7 228.5,1351.9 234.0,1348.2 239.5,1344.5 245.0,1340.9 250.5,1337.4 256.1,1333.9 261.6,1330.5 267.1,1327.1 272.6,1323.8 278.1,1320.6 283.6,1317.4 289.1,1314.2 294.6,1311.1 300.1,1308.0 305.7,1305.0 311.2,1302.0 316.7,1299.1 322.2,1296.2 327.7,1293.3 333.2,1290.5 338.7,1287.7 344.2,1285.0 349.7,1282.3 355.3,1279.6 360.8,1277.0 366.3,1274.4 371.8,1271.9 377.3,1269.4 382.8,1266.9 388.3,1264.5 393.8,1262.1 399.3,1259.7 404.8,1257.4" fill="none" stroke="#0a0a0a" stroke-width="3.5" stroke-linejoin="round" stroke-linecap="round" />
<polyline points="393.8,1262.1 399.3,1259.7 404.8,1257.4 410.4,1255.1 415.9,1252.8 421.4,1250.6 426.9,1248.4 432.4,1246.3 437.9,1244.2 443.4,1242.1 448.9,1240.1 454.4,1238.1 460.0,1236.1 465.5,1234.2 471.0,1232.3 476.5,1230.4 482.0,1228.6 487.5,1226.8 493.0,1225.0 498.5,1223.3 504.0,1221.7 509.6,1220.0 515.1,1218.4 520.6,1216.8 526.1,1215.3 531.6,1213.8 537.1,1212.3 542.6,1210.9 548.1,1209.5 553.6,1208.2 559.1,1206.8 564.7,1205.6 570.2,1204.3 575.7,1203.1 581.2,1201.9 586.7,1200.8 592.2,1199.6 597.7,1198.6 603.2,1197.5 608.7,1196.5 614.3,1195.6 619.8,1194.6 625.3,1193.7 630.8,1192.9 636.3,1192.0 641.8,1191.2 647.3,1190.5 652.8,1189.8 658.3,1189.1 663.9,1188.4 669.4,1187.8 674.9,1187.2 680.4,1186.7 685.9,1186.2 691.4,1185.7 696.9,1185.3 702.4,1184.9 707.9,1184.5 713.4,1184.2 719.0,1183.9 724.5,1183.6 730.0,1183.4 735.5,1183.2 741.0,1183.1 746.5,1182.9 752.0,1182.8 757.5,1182.7 763.0,1182.7 768.6,1182.7 774.1,1182.7 779.6,1182.7 785.1,1182.8 790.6,1182.8 796.1,1183.0 801.6,1183.1 807.1,1183.3 812.6,1183.5 818.1,1183.7 823.7,1183.9 829.2,1184.2 834.7,1184.5 840.2,1184.9 845.7,1185.2 851.2,1185.6 856.7,1186.0 862.2,1186.5 867.7,1186.9 873.3,1187.4 878.8,1188.0 884.3,1188.5 889.8,1189.1 895.3,1189.7 900.8,1190.3 906.3,1191.0 911.8,1191.7 917.3,1192.4 922.9,1193.1 928.4,1193.9 933.9,1194.7 939.4,1195.5" fill="none" stroke="#0a0a0a" stroke-width="5.2" stroke-linejoin="round" stroke-linecap="round" />
<polyline points="173.4,1400.0 176.9,1396.2 180.3,1393.4 183.8,1390.9 187.3,1388.6 190.7,1386.3 194.2,1384.1 197.7,1382.0 201.1,1379.9 204.6,1377.9 208.1,1375.8 211.5,1373.8 215.0,1371.8 218.5,1369.9 221.9,1367.9 225.4,1366.0 228.9,1364.1 232.3,1362.2 235.8,1360.3 239.3,1358.5 242.7,1356.6 246.2,1354.8 249.7,1353.0 253.2,1351.1 256.6,1349.3 260.1,1347.5 263.6,1345.8 267.0,1344.0 270.5,1342.3 274.0,1340.5 277.4,1338.8 280.9,1337.1 284.4,1335.4 287.8,1333.7 291.3,1332.0 294.8,1330.3 298.2,1328.7 301.7,1327.0 305.2,1325.4 308.6,1323.8 312.1,1322.2 315.6,1320.6 319.0,1319.1 322.5,1317.5 326.0,1316.0 329.4,1314.4 332.9,1312.9 336.4,1311.4 339.8,1309.9 343.3,1308.5 346.8,1307.0 350.2,1305.6 353.7,1304.2 357.2,1302.8 360.6,1301.4 364.1,1300.1 367.6,1298.7 371.0,1297.4 374.5,1296.1 378.0,1294.8 381.4,1293.6 384.9,1292.3 388.4,1291.1 391.8,1289.9 395.3,1288.7 398.8,1287.5 402.3,1286.4 405.7,1285.2" fill="none" stroke="#0a0a0a" stroke-width="3.5" stroke-linejoin="round" stroke-linecap="round" />
<polyline points="391.8,1289.9 395.3,1288.7 398.8,1287.5 402.3,1286.4 405.7,1285.2 409.2,1284.1 412.7,1283.0 416.1,1282.0 419.6,1280.9 423.1,1279.9 426.5,1278.9 430.0,1277.9 433.5,1276.9 436.9,1276.0 440.4,1275.1 443.9,1274.2 447.3,1273.3 450.8,1272.4 454.3,1271.6 457.7,1270.8 461.2,1270.0 464.7,1269.2 468.1,1268.5 471.6,1267.7 475.1,1267.0 478.5,1266.4 482.0,1265.7 485.5,1265.1 488.9,1264.5 492.4,1263.9 495.9,1263.3 499.3,1262.8 502.8,1262.3 506.3,1261.8 509.7,1261.3 513.2,1260.8 516.7,1260.4 520.1,1260.0 523.6,1259.7 527.1,1259.3 530.5,1259.0 534.0,1258.7 537.5,1258.4 540.9,1258.2 544.4,1258.0 547.9,1257.8 551.3,1257.6 554.8,1257.4 558.3,1257.3 561.8,1257.2 565.2,1257.1 568.7,1257.0 572.2,1257.0 575.6,1256.9 579.1,1256.9 582.6,1256.9 586.0,1257.0 589.5,1257.0 593.0,1257.1 596.4,1257.2 599.9,1257.3 603.4,1257.5 606.8,1257.7 610.3,1257.8 613.8,1258.0 617.2,1258.3 620.7,1258.5 624.2,1258.8 627.6,1259.1 631.1,1259.4 634.6,1259.7 638.0,1260.1 641.5,1260.4 645.0,1260.8 648.4,1261.2 651.9,1261.7 655.4,1262.1" fill="none" stroke="#0a0a0a" stroke-width="5.2" stroke-linejoin="round" stroke-linecap="round" />
<polyline points="173.4,1400.0 176.2,1397.7 178.9,1396.0 181.7,1394.5 184.5,1393.1 187.2,1391.7 190.0,1390.4 192.8,1389.0 195.5,1387.7 198.3,1386.5 201.1,1385.2 203.8,1384.0 206.6,1382.7 209.4,1381.5 212.1,1380.2 214.9,1379.0 217.7,1377.8 220.4,1376.6 223.2,1375.4 226.0,1374.2 228.7,1373.0 231.5,1371.8 234.3,1370.6 237.0,1369.5 239.8,1368.3 242.6,1367.1 245.3,1365.9 248.1,1364.8 250.9,1363.6 253.6,1362.5 256.4,1361.3 259.2,1360.2 261.9,1359.0 264.7,1357.9 267.5,1356.8 270.2,1355.7 273.0,1354.5 275.8,1353.4 278.5,1352.3 281.3,1351.2 284.1,1350.1 286.8,1349.1 289.6,1348.0 292.4,1346.9 295.1,1345.8 297.9,1344.8 300.7,1343.7 303.4,1342.7 306.2,1341.7 309.0,1340.6 311.7,1339.6 314.5,1338.6 317.3,1337.6 320.0,1336.6 322.8,1335.6 325.6,1334.7 328.3,1333.7 331.1,1332.8 333.9,1331.8 336.7,1330.9 339.4,1330.0 342.2,1329.1 345.0,1328.2 347.7,1327.3 350.5,1326.5 353.3,1325.6 356.0,1324.8 358.8,1323.9 361.6,1323.1 364.3,1322.3 367.1,1321.5 369.9,1320.7 372.6,1319.9 375.4,1319.2 378.2,1318.4 380.9,1317.7 383.7,1317.0 386.5,1316.3 389.2,1315.6 392.0,1314.9 394.8,1314.2 397.5,1313.6 400.3,1313.0 403.1,1312.3 405.8,1311.7" fill="none" stroke="#0a0a0a" stroke-width="3.5" stroke-linejoin="round" stroke-linecap="round" />
<polyline points="392.0,1314.9 394.8,1314.2 397.5,1313.6 400.3,1313.0 403.1,1312.3 405.8,1311.7 408.6,1311.1 411.4,1310.6 414.1,1310.0 416.9,1309.5 419.7,1308.9 422.4,1308.4 425.2,1307.9 428.0,1307.4 430.7,1307.0 433.5,1306.5 436.3,1306.1 439.0,1305.7 441.8,1305.2 444.6,1304.9 447.3,1304.5 450.1,1304.1 452.9,1303.8 455.6,1303.5 458.4,1303.2 461.2,1302.9 463.9,1302.6 466.7,1302.4 469.5,1302.2 472.2,1302.0 475.0,1301.8 477.8,1301.6 480.5,1301.4 483.3,1301.3 486.1,1301.2 488.8,1301.0 491.6,1300.9 494.4,1300.9 497.1,1300.8 499.9,1300.8 502.7,1300.7 505.4,1300.7 508.2,1300.7 511.0,1300.7 513.7,1300.8 516.5,1300.8 519.3,1300.9 522.0,1300.9 524.8,1301.0 527.6,1301.1 530.3,1301.3 533.1,1301.4 535.9,1301.6 538.6,1301.7 541.4,1301.9 544.2,1302.1 546.9,1302.3 549.7,1302.6 552.5,1302.8 555.2,1303.1 558.0,1303.4" fill="none" stroke="#0a0a0a" stroke-width="5.2" stroke-linejoin="round" stroke-linecap="round" />
<polyline points="173.4,1400.0 185.1,1389.8 196.7,1382.5 208.4,1376.1 220.0,1370.1 231.7,1364.6 243.4,1359.3 255.0,1354.2 266.7,1349.4 278.3,1344.7 290.0,1340.1 301.7,1335.7 313.3,1331.4 325.0,1327.2 336.6,1323.1 348.3,1319.2 360.0,1315.3 371.6,1311.5 383.3,1307.7 394.9,1304.1 406.6,1300.5" fill="none" stroke="#0a0a0a" stroke-width="3.5" stroke-linejoin="round" stroke-linecap="round" />
<polyline points="394.9,1304.1 406.6,1300.5 418.3,1297.0 429.9,1293.5 441.6,1290.2 453.2,1286.8 464.9,1283.6 476.6,1280.4 488.2,1277.2 499.9,1274.2 511.5,1271.1 523.2,1268.1 534.9,1265.2 546.5,1262.3 558.2,1259.5 569.8,1256.7 581.5,1254.0 593.2,1251.3 604.8,1248.6 616.5,1246.0 628.1,1243.5 639.8,1240.9 651.5,1238.5 663.1,1236.0 674.8,1233.6 686.4,1231.3 698.1,1228.9 709.8,1226.7 721.4,1224.4 733.1,1222.2 744.7,1220.0 756.4,1217.9 768.1,1215.8 779.7,1213.7 791.4,1211.7 803.0,1209.7 814.7,1207.8 826.4,1205.9 838.0,1204.0 849.7,1202.1 861.3,1200.3 873.0,1198.5 884.7,1196.8 896.3,1195.0 908.0,1193.3 919.6,1191.7 931.3,1190.1 943.0,1188.5 954.6,1186.9 966.3,1185.4 977.9,1183.9 989.6,1182.4 1001.3,1181.0 1012.9,1179.6 1024.6,1178.2 1036.2,1176.8 1047.9,1175.5 1059.6,1174.2 1071.2,1173.0 1082.9,1171.7 1094.5,1170.5 1106.2,1169.4 1117.9,1168.2 1129.5,1167.1 1141.2,1166.0 1152.8,1164.9 1164.5,1163.9 1176.2,1162.9 1187.8,1161.9 1199.5,1161.0 1211.1,1160.1 1222.8,1159.2 1234.5,1158.3 1246.1,1157.5 1257.8,1156.7 1269.4,1155.9 1281.1,1155.1 1292.8,1154.4 1304.4,1153.7 1316.1,1153.0 1327.7,1152.3 1339.4,1151.7 1351.1,1150.9 1362.7,1150.2 1374.4,1149.6 1386.1,1148.9 1397.7,1148.3 1409.4,1147.8 1421.0,1147.2 1432.7,1146.7 1444.4,1146.3 1456.0,1145.8 1467.7,1145.4 1479.3,1145.1 1491.0,1144.7 1502.7,1144.4 1514.3,1144.2 1526.0,1144.0 1537.6,1143.8 1549.3,1143.7 1561.0,1143.5 1572.6,1143.5 1584.3,1143.4 1595.9,1143.5 1607.6,1143.5 1619.3,1143.6 1630.9,1143.7 1642.6,1143.8 1654.2,1143.9 1665.9,1144.1 1677.6,1144.3 1689.2,1144.5 1700.9,1144.8 1712.5,1145.1 1724.2,1145.4 1735.9,1145.7 1747.5,1146.1 1759.2,1146.5 1770.8,1147.0 1782.5,1147.4 1794.2,1147.9 1805.8,1148.5 1817.5,1149.0 1829.1,1149.6 1840.8,1150.3 1852.5,1150.9 1864.1,1151.6 1875.8,1152.3 1887.4,1153.1 1899.1,1153.9 1910.8,1154.7 1922.4,1155.6 1934.1,1156.5 1945.7,1157.5 1957.4,1158.4 1969.1,1159.4 1980.7,1160.5 1992.4,1161.6 2004.0,1162.7 2015.7,1163.9 2027.4,1165.1" fill="none" stroke="#0a0a0a" stroke-width="5.2" stroke-linejoin="round" stroke-linecap="round" />
</g>
<g id="bottom">
<polygon points="378.4,1753.6 387.7,1751.8 397.0,1749.9 406.3,1748.0 415.6,1746.1 424.9,1744.3 434.3,1742.4 443.6,1740.5 452.9,1738.7 462.2,1736.8 471.5,1734.9 480.8,1733.1 490.2,1731.2 499.5,1729.3 508.8,1727.5 518.1,1725.6 527.4,1723.7 536.7,1721.9 546.1,1720.0 555.4,1718.2 564.7,1716.3 574.0,1714.4 583.3,1712.6 592.6,1710.7 602.0,1708.9 611.3,1707.0 620.6,1705.2 629.9,1703.3 639.2,1701.5 648.5,1699.6 657.9,1697.8 667.2,1695.9 676.5,1694.1 685.8,1692.2 695.1,1690.4 704.4,1688.5 713.7,1686.7 723.1,1684.9 732.4,1683.0 741.7,1681.2 751.0,1679.3 760.3,1677.5 769.6,1675.6 779.0,1673.8 788.3,1672.0 797.6,1670.1 806.9,1668.3 816.2,1666.5 825.5,1664.6 834.9,1662.8 844.2,1661.0 853.5,1659.1 862.8,1657.3 872.1,1655.5 881.4,1653.7 890.8,1651.8 900.1,1650.0 909.4,1648.2 918.7,1646.3 928.0,1644.5 937.3,1642.7 946.7,1640.9 956.0,1639.1 965.3,1637.2 974.6,1635.4 983.9,1633.6 993.2,1631.8 1002.6,1630.0 1011.9,1628.2 1021.2,1626.3 1030.5,1624.5 1039.8,1622.7 1049.1,1620.9 1058.5,1619.1 1067.8,1617.3 1077.1,1615.5 1086.4,1613.7 1095.7,1611.8 1105.0,1610.0 1114.4,1608.2 1123.7,1606.4 1133.0,1604.6 1142.3,1602.8 1151.6,1601.0 1160.9,1599.2 1170.3,1597.4 1179.6,1595.6 1188.9,1593.8 1198.2,1592.0 1207.5,1590.2 1216.8,1588.4 1226.1,1586.6 1235.5,1584.8 1244.8,1583.0 1254.1,1581.2 1263.4,1579.5 1272.7,1577.7 1282.0,1575.9 1291.4,1574.1 1300.7,1572.3 1310.0,1570.5 1319.3,1568.7 1328.6,1566.9 1337.9,1565.2 1347.3,1564.2 1356.6,1564.2 1365.9,1564.2 1375.2,1564.2 1384.5,1564.2 1393.8,1564.2 1403.2,1564.2 1412.5,1564.2 1421.8,1564.2 1431.1,1564.2 1440.4,1564.2 1449.7,1564.2 1459.1,1564.2 1468.4,1564.2 1477.7,1564.2 1487.0,1564.2 1496.3,1564.2 1505.6,1564.2 1515.0,1564.2 1524.3,1564.2 1533.6,1564.2 1542.9,1564.2 1552.2,1564.2 1561.5,1564.2 1570.9,1564.2 1580.2,1564.2 1589.5,1564.2 1598.8,1564.2 1608.1,1564.2 1617.4,1564.2 1626.8,1564.2 1636.1,1564.2 1645.4,1564.2 1654.7,1564.2 1664.0,1564.2 1673.3,1564.2 1682.7,1564.2 1692.0,1564.2 1701.3,1564.2 1710.6,1564.2 1719.9,1564.2 1729.2,1564.2 1738.5,1564.2 1747.9,1564.2 1757.2,1564.2 1766.5,1564.2 1775.8,1564.2 1785.1,1564.2 1794.4,1564.2 1803.8,1564.2 1813.1,1564.2 1822.4,1564.2 1831.7,1564.2 1841.0,1564.2 1850.3,1564.2 1859.7,1564.2 1869.0,1564.2 1878.3,1564.2 1887.6,1564.2 1896.9,1564.2 1906.2,1564.2 1915.6,1564.2 1924.9,1564.2 1934.2,1564.2 1943.5,1564.2 1952.8,1564.2 1962.1,1564.2 1971.5,1564.2 1980.8,1564.2 1990.1,1564.2 1999.4,1564.2 2008.7,1564.2 2018.0,1564.2 2027.4,1564.2 2027.4,1564.2 1856.9,1696.9 1834.9,1707.5 1812.8,1717.9 1790.8,1728.0 1768.8,1737.9 1746.8,1747.4 1724.8,1756.7 1702.8,1765.7 1680.8,1774.4 1658.7,1782.8 1636.7,1791.1 1614.7,1799.1 1592.7,1807.0 1570.7,1814.5 1548.7,1821.8 1526.6,1828.8 1504.6,1835.5 1482.6,1841.9 1460.6,1848.1 1438.6,1854.1 1416.6,1859.9 1394.6,1865.5 1372.5,1870.8 1350.5,1876.0 1328.5,1880.9 1306.5,1885.7 1284.5,1890.3 1262.5,1894.8 1240.5,1899.2 1218.4,1903.4 1196.4,1907.4 1174.4,1911.2 1152.4,1914.9 1130.4,1918.3 1108.4,1921.6 1086.4,1924.8 1064.3,1927.9 1042.3,1930.8 1020.3,1933.7 998.3,1936.3 976.3,1938.8 954.3,1941.0 932.3,1943.0 910.2,1944.9 888.2,1946.8 866.2,1948.5 844.2,1950.2 822.2,1951.9 800.2,1953.4 778.2,1954.9 756.1,1956.3 734.1,1957.6 712.1,1958.8 690.1,1959.9 668.1,1960.9 646.1,1961.8 624.1,1962.6 602.0,1963.3 580.0,1963.9 558.0,1964.4 188.8,1968.0 188.8,1961.2 195.6,1960.0 220.6,1952.3 239.5,1942.5 257.5,1927.9 273.5,1908.4 299.4,1880.5 325.1,1845.9 347.2,1805.7 375.4,1754.2" fill="#d6e4f2"/>
<polygon points="173.4,1795.1 182.7,1793.2 192.0,1791.3 201.3,1789.4 210.7,1787.5 220.0,1785.6 229.3,1783.7 238.6,1781.9 247.9,1780.0 257.2,1778.1 266.6,1776.2 275.9,1774.3 285.2,1772.4 294.5,1770.5 303.8,1768.7 313.1,1766.8 322.5,1764.9 331.8,1763.0 341.1,1761.1 350.4,1759.3 359.7,1757.4 369.0,1755.5 375.4,1754.2 347.2,1805.7 325.1,1845.9 299.4,1880.5 273.5,1908.4 257.5,1927.9 239.5,1942.5 220.6,1952.3 195.6,1960.0 188.8,1961.2 188.8,1968.0 173.4,1968.0" fill="#f0f8fe"/>
<line x1="375.4" y1="1473.0" x2="375.4" y2="1968.0" stroke="#8f9197" stroke-width="1.4"/>
<line x1="577.4" y1="1473.0" x2="577.4" y2="1968.0" stroke="#8f9197" stroke-width="1.4"/>
<line x1="779.4" y1="1473.0" x2="779.4" y2="1968.0" stroke="#8f9197" stroke-width="1.4"/>
<line x1="981.4" y1="1473.0" x2="981.4" y2="1968.0" stroke="#8f9197" stroke-width="1.4"/>
<line x1="1183.4" y1="1473.0" x2="1183.4" y2="1968.0" stroke="#8f9197" stroke-width="1.4"/>
<line x1="1385.4" y1="1473.0" x2="1385.4" y2="1968.0" stroke="#8f9197" stroke-width="1.4"/>
<line x1="1587.4" y1="1473.0" x2="1587.4" y2="1968.0" stroke="#8f9197" stroke-width="1.4"/>
<line x1="1789.4" y1="1473.0" x2="1789.4" y2="1968.0" stroke="#8f9197" stroke-width="1.4"/>
<line x1="1991.4" y1="1473.0" x2="1991.4" y2="1968.0" stroke="#8f9197" stroke-width="1.4"/>
<line x1="173.4" y1="1802.7" x2="2197.5" y2="1802.7" stroke="#8f9197" stroke-width="1.4"/>
<line x1="173.4" y1="1637.4" x2="2197.5" y2="1637.4" stroke="#8f9197" stroke-width="1.4"/>
<polyline points="173.4,1840.7 196.9,1843.3 220.3,1845.8 243.8,1848.2 267.3,1850.6 290.7,1852.9 314.2,1855.1 337.7,1857.2 361.1,1859.2 384.6,1861.1 408.1,1863.1 431.5,1865.0 455.0,1866.8 478.5,1868.6 501.9,1870.3 525.4,1871.8 548.9,1873.2 572.4,1874.4 595.8,1875.4 619.3,1876.5 642.8,1877.5 666.2,1878.4 689.7,1879.3 713.2,1880.0 736.6,1880.6 760.1,1881.0 783.6,1881.2 807.0,1881.4 830.5,1881.6 854.0,1881.7 877.4,1881.8 900.9,1881.9 924.4,1882.0 947.8,1882.0 971.3,1882.0 994.8,1882.0 1018.2,1881.8 1041.7,1881.3 1065.2,1880.7 1088.6,1879.9 1112.1,1879.1 1135.6,1878.2 1159.0,1877.2 1182.5,1876.3 1206.0,1875.3 1229.5,1874.1 1252.9,1872.8 1276.4,1871.4 1299.9,1869.9 1323.3,1868.3 1346.8,1866.7 1370.3,1865.0 1393.7,1863.2 1417.2,1861.4 1440.7,1859.5 1464.1,1857.4 1487.6,1855.3 1511.1,1853.1 1534.5,1850.9 1558.0,1848.6 1581.5,1846.3 1604.9,1843.9 1628.4,1841.5 1651.9,1839.1 1675.3,1836.6 1698.8,1834.1 1722.3,1831.4 1745.7,1828.7 1769.2,1825.9 1792.7,1822.9 1816.1,1819.9 1839.6,1816.8 1863.1,1813.5 1886.5,1810.1 1910.0,1806.7 1933.5,1803.1 1957.0,1799.4 1980.4,1795.6 2003.9,1791.8 2027.4,1787.8" fill="none" stroke="#0a0a0a" stroke-width="3.9" stroke-linejoin="round" stroke-linecap="round" />
<polyline points="173.4,1864.9 194.7,1867.0 216.0,1869.0 237.3,1871.0 258.6,1872.9 279.9,1874.7 301.3,1876.5 322.6,1878.2 343.9,1879.9 365.2,1881.4 386.5,1883.0 407.8,1884.5 429.1,1886.0 450.4,1887.5 471.7,1888.8 493.0,1890.1 514.4,1891.2 535.7,1892.2 557.0,1893.0 578.3,1893.9 599.6,1894.7 620.9,1895.4 642.2,1896.1 663.5,1896.7 684.8,1897.2 706.1,1897.5 727.5,1897.7 748.8,1897.9 770.1,1898.0 791.4,1898.1 812.7,1898.2 834.0,1898.3 855.3,1898.3 876.6,1898.4 897.9,1898.4 919.2,1898.3 940.5,1898.1 961.9,1897.8 983.2,1897.3 1004.5,1896.7 1025.8,1896.0 1047.1,1895.2 1068.4,1894.5 1089.7,1893.7 1111.0,1892.9 1132.3,1892.0 1153.6,1890.9 1175.0,1889.8 1196.3,1888.5 1217.6,1887.3 1238.9,1885.9 1260.2,1884.5 1281.5,1883.1 1302.8,1881.7 1324.1,1880.1 1345.4,1878.5 1366.7,1876.7 1388.1,1875.0 1409.4,1873.1 1430.7,1871.3 1452.0,1869.4 1473.3,1867.5 1494.6,1865.6 1515.9,1863.6 1537.2,1861.6 1558.5,1859.5 1579.8,1857.4 1601.2,1855.2 1622.5,1852.9 1643.8,1850.5 1665.1,1848.0 1686.4,1845.5 1707.7,1842.8 1729.0,1840.1 1750.3,1837.3 1771.6,1834.4 1792.9,1831.4 1814.2,1828.4 1835.6,1825.3 1856.9,1822.1" fill="none" stroke="#0a0a0a" stroke-width="3.9" stroke-linejoin="round" stroke-linecap="round" />
<polyline points="173.4,1886.5 192.5,1888.2 211.6,1889.8 230.7,1891.3 249.8,1892.9 268.9,1894.3 287.9,1895.7 307.0,1897.1 326.1,1898.4 345.2,1899.6 364.3,1900.8 383.4,1902.1 402.5,1903.2 421.6,1904.4 440.7,1905.4 459.8,1906.4 478.8,1907.3 497.9,1908.1 517.0,1908.8 536.1,1909.4 555.2,1910.1 574.3,1910.7 593.4,1911.2 612.5,1911.7 631.6,1912.1 650.7,1912.3 669.7,1912.5 688.8,1912.6 707.9,1912.7 727.0,1912.8 746.1,1912.8 765.2,1912.9 784.3,1912.9 803.4,1913.0 822.5,1913.0 841.6,1913.0 860.7,1912.8 879.7,1912.5 898.8,1912.1 917.9,1911.6 937.0,1911.1 956.1,1910.5 975.2,1909.9 994.3,1909.3 1013.4,1908.7 1032.5,1907.9 1051.6,1907.1 1070.6,1906.2 1089.7,1905.2 1108.8,1904.2 1127.9,1903.1 1147.0,1902.1 1166.1,1901.0 1185.2,1899.8 1204.3,1898.5 1223.4,1897.2 1242.5,1895.9 1261.5,1894.5 1280.6,1893.0 1299.7,1891.6 1318.8,1890.1 1337.9,1888.6 1357.0,1887.1 1376.1,1885.5 1395.2,1883.9 1414.3,1882.3 1433.4,1880.6 1452.4,1878.8 1471.5,1877.0 1490.6,1875.2 1509.7,1873.2 1528.8,1871.2 1547.9,1869.1 1567.0,1867.0 1586.1,1864.7 1605.2,1862.5 1624.3,1860.1 1643.4,1857.7 1662.4,1855.2 1681.5,1852.7" fill="none" stroke="#0a0a0a" stroke-width="3.9" stroke-linejoin="round" stroke-linecap="round" />
<polyline points="173.4,1905.6 190.2,1906.9 206.9,1908.1 223.7,1909.3 240.5,1910.5 257.2,1911.6 274.0,1912.7 290.7,1913.7 307.5,1914.7 324.3,1915.6 341.0,1916.6 357.8,1917.5 374.6,1918.4 391.3,1919.3 408.1,1920.1 424.9,1920.9 441.6,1921.5 458.4,1922.1 475.1,1922.6 491.9,1923.1 508.7,1923.6 525.4,1924.1 542.2,1924.5 559.0,1924.9 575.7,1925.2 592.5,1925.4 609.2,1925.5 626.0,1925.6 642.8,1925.6 659.5,1925.7 676.3,1925.8 693.1,1925.8 709.8,1925.8 726.6,1925.9 743.4,1925.9 760.1,1925.9 776.9,1925.7 793.6,1925.5 810.4,1925.2 827.2,1924.8 843.9,1924.4 860.7,1924.0 877.5,1923.5 894.2,1923.1 911.0,1922.6 927.8,1922.0 944.5,1921.4 961.3,1920.7 978.0,1919.9 994.8,1919.2 1011.6,1918.3 1028.3,1917.5 1045.1,1916.7 1061.9,1915.8 1078.6,1914.8 1095.4,1913.8 1112.2,1912.8 1128.9,1911.7 1145.7,1910.6 1162.4,1909.5 1179.2,1908.4 1196.0,1907.2 1212.7,1906.0 1229.5,1904.8 1246.3,1903.6 1263.0,1902.4 1279.8,1901.1 1296.6,1899.7 1313.3,1898.4 1330.1,1896.9 1346.8,1895.4 1363.6,1893.9 1380.4,1892.3 1397.1,1890.6 1413.9,1888.9 1430.7,1887.2 1447.4,1885.4 1464.2,1883.5 1480.9,1881.7 1497.7,1879.7" fill="none" stroke="#0a0a0a" stroke-width="3.9" stroke-linejoin="round" stroke-linecap="round" />
<polyline points="173.4,1922.2 187.8,1923.1 202.3,1924.0 216.7,1924.9 231.2,1925.7 245.6,1926.6 260.1,1927.3 274.5,1928.1 288.9,1928.8 303.4,1929.5 317.8,1930.2 332.3,1930.9 346.7,1931.6 361.1,1932.2 375.6,1932.8 390.0,1933.4 404.5,1933.9 418.9,1934.3 433.4,1934.7 447.8,1935.0 462.2,1935.4 476.7,1935.7 491.1,1936.1 505.6,1936.3 520.0,1936.5 534.4,1936.7 548.9,1936.8 563.3,1936.8 577.8,1936.9 592.2,1936.9 606.7,1937.0 621.1,1937.0 635.5,1937.0 650.0,1937.0 664.4,1937.1 678.9,1937.0 693.3,1937.0 707.7,1936.8 722.2,1936.6 736.6,1936.3 751.1,1936.0 765.5,1935.7 780.0,1935.3 794.4,1935.0 808.8,1934.6 823.3,1934.2 837.7,1933.7 852.2,1933.2 866.6,1932.7 881.0,1932.1 895.5,1931.5 909.9,1930.9 924.4,1930.3 938.8,1929.6 953.3,1928.9 967.7,1928.2 982.1,1927.4 996.6,1926.6 1011.0,1925.8 1025.5,1925.0 1039.9,1924.2 1054.3,1923.3 1068.8,1922.5 1083.2,1921.6 1097.7,1920.7 1112.1,1919.8 1126.6,1918.8 1141.0,1917.9 1155.4,1916.8 1169.9,1915.8 1184.3,1914.7 1198.8,1913.6 1213.2,1912.4 1227.6,1911.2 1242.1,1909.9 1256.5,1908.6 1271.0,1907.3 1285.4,1906.0 1299.9,1904.6 1314.3,1903.1" fill="none" stroke="#0a0a0a" stroke-width="4.8" stroke-linejoin="round" stroke-linecap="round" />
<polyline points="173.4,1936.2 185.5,1936.8 197.6,1937.4 209.6,1938.1 221.7,1938.6 233.8,1939.2 245.9,1939.8 258.0,1940.3 270.0,1940.8 282.1,1941.3 294.2,1941.8 306.3,1942.2 318.3,1942.7 330.4,1943.1 342.5,1943.6 354.6,1943.9 366.7,1944.3 378.7,1944.6 390.8,1944.9 402.9,1945.1 415.0,1945.4 427.1,1945.6 439.1,1945.8 451.2,1946.0 463.3,1946.1 475.4,1946.3 487.5,1946.3 499.5,1946.4 511.6,1946.4 523.7,1946.4 535.8,1946.5 547.9,1946.5 559.9,1946.5 572.0,1946.5 584.1,1946.5 596.2,1946.5 608.2,1946.4 620.3,1946.3 632.4,1946.2 644.5,1946.0 656.6,1945.8 668.6,1945.5 680.7,1945.3 692.8,1945.1 704.9,1944.8 717.0,1944.5 729.0,1944.2 741.1,1943.9 753.2,1943.5 765.3,1943.1 777.4,1942.7 789.4,1942.2 801.5,1941.8 813.6,1941.4 825.7,1940.9 837.7,1940.4 849.8,1939.8 861.9,1939.3 874.0,1938.7 886.1,1938.1 898.1,1937.6 910.2,1937.0 922.3,1936.4 934.4,1935.8 946.5,1935.2 958.5,1934.5 970.6,1933.9 982.7,1933.2 994.8,1932.5 1006.9,1931.7 1018.9,1931.0 1031.0,1930.2 1043.1,1929.4 1055.2,1928.5 1067.3,1927.7 1079.3,1926.8 1091.4,1925.9 1103.5,1924.9 1115.6,1923.9 1127.6,1923.0" fill="none" stroke="#0a0a0a" stroke-width="4.8" stroke-linejoin="round" stroke-linecap="round" />
<polyline points="173.4,1947.6 183.1,1948.0 192.8,1948.4 202.5,1948.8 212.2,1949.2 221.9,1949.6 231.6,1949.9 241.3,1950.3 251.0,1950.6 260.7,1950.9 270.4,1951.2 280.1,1951.5 289.8,1951.8 299.4,1952.1 309.1,1952.4 318.8,1952.6 328.5,1952.8 338.2,1953.0 347.9,1953.2 357.6,1953.4 367.3,1953.5 377.0,1953.7 386.7,1953.8 396.4,1953.9 406.1,1954.0 415.8,1954.1 425.5,1954.1 435.2,1954.1 444.9,1954.2 454.6,1954.2 464.3,1954.2 474.0,1954.2 483.7,1954.2 493.4,1954.2 503.1,1954.2 512.8,1954.2 522.5,1954.2 532.2,1954.1 541.8,1954.0 551.5,1953.9 561.2,1953.8 570.9,1953.6 580.6,1953.5 590.3,1953.3 600.0,1953.2 609.7,1953.0 619.4,1952.8 629.1,1952.5 638.8,1952.3 648.5,1952.0 658.2,1951.8 667.9,1951.5 677.6,1951.2 687.3,1950.9 697.0,1950.6 706.7,1950.3 716.4,1950.0 726.1,1949.6 735.8,1949.3 745.5,1948.9 755.2,1948.5 764.9,1948.1 774.6,1947.8 784.2,1947.4 793.9,1947.0 803.6,1946.6 813.3,1946.1 823.0,1945.7 832.7,1945.3 842.4,1944.8 852.1,1944.3 861.8,1943.8 871.5,1943.3 881.2,1942.7 890.9,1942.2 900.6,1941.6 910.3,1941.0 920.0,1940.4 929.7,1939.8 939.4,1939.2" fill="none" stroke="#0a0a0a" stroke-width="4.8" stroke-linejoin="round" stroke-linecap="round" />
<polyline points="173.4,1960.0 179.5,1960.2 185.6,1960.4 191.7,1960.5 197.8,1960.7 203.9,1960.8 210.0,1960.9 216.1,1961.1 222.2,1961.2 228.3,1961.3 234.4,1961.4 240.5,1961.6 246.6,1961.7 252.7,1961.8 258.8,1961.9 264.9,1962.0 271.0,1962.1 277.1,1962.1 283.2,1962.2 289.3,1962.3 295.4,1962.3 301.5,1962.4 307.6,1962.5 313.7,1962.5 319.8,1962.5 325.9,1962.6 332.0,1962.6 338.1,1962.6 344.2,1962.6 350.3,1962.6 356.4,1962.6 362.5,1962.6 368.6,1962.6 374.7,1962.6 380.8,1962.6 386.9,1962.6 393.0,1962.6 399.1,1962.6 405.2,1962.5 411.3,1962.5 417.4,1962.4 423.5,1962.4 429.6,1962.3 435.7,1962.3 441.8,1962.2 447.9,1962.1 454.0,1962.1 460.1,1962.0 466.2,1961.9 472.3,1961.8 478.4,1961.7 484.5,1961.6 490.6,1961.5 496.7,1961.3 502.8,1961.2 509.0,1961.1 515.1,1961.0 521.2,1960.8 527.3,1960.7 533.4,1960.5 539.5,1960.4 545.6,1960.2 551.7,1960.1 557.8,1959.9 563.9,1959.8 570.0,1959.6 576.1,1959.5 582.2,1959.3 588.3,1959.1 594.4,1958.9 600.5,1958.7 606.6,1958.5 612.7,1958.3 618.8,1958.1 624.9,1957.9 631.0,1957.7 637.1,1957.5 643.2,1957.2 649.3,1957.0 655.4,1956.7" fill="none" stroke="#0a0a0a" stroke-width="4.8" stroke-linejoin="round" stroke-linecap="round" />
<polyline points="173.4,1962.9 178.3,1963.0 183.1,1963.1 188.0,1963.2 192.9,1963.3 197.7,1963.4 202.6,1963.5 207.5,1963.6 212.3,1963.6 217.2,1963.7 222.1,1963.8 227.0,1963.9 231.8,1964.0 236.7,1964.0 241.6,1964.1 246.4,1964.2 251.3,1964.2 256.2,1964.3 261.0,1964.3 265.9,1964.3 270.8,1964.4 275.6,1964.4 280.5,1964.5 285.4,1964.5 290.2,1964.5 295.1,1964.5 300.0,1964.5 304.8,1964.5 309.7,1964.5 314.6,1964.5 319.5,1964.6 324.3,1964.6 329.2,1964.6 334.1,1964.6 338.9,1964.6 343.8,1964.6 348.7,1964.6 353.5,1964.5 358.4,1964.5 363.3,1964.5 368.1,1964.4 373.0,1964.4 377.9,1964.4 382.7,1964.3 387.6,1964.3 392.5,1964.2 397.3,1964.2 402.2,1964.1 407.1,1964.1 412.0,1964.0 416.8,1963.9 421.7,1963.9 426.6,1963.8 431.4,1963.7 436.3,1963.7 441.2,1963.6 446.0,1963.5 450.9,1963.4 455.8,1963.3 460.6,1963.2 465.5,1963.1 470.4,1963.0 475.2,1962.9 480.1,1962.8 485.0,1962.7 489.8,1962.6 494.7,1962.5 499.6,1962.4 504.5,1962.3 509.3,1962.2 514.2,1962.1 519.1,1962.0 523.9,1961.8 528.8,1961.7 533.7,1961.5 538.5,1961.4 543.4,1961.3 548.3,1961.1 553.1,1961.0 558.0,1960.8" fill="none" stroke="#0a0a0a" stroke-width="4.8" stroke-linejoin="round" stroke-linecap="round" />
<polyline points="173.4,1814.0 182.7,1815.1 192.0,1816.2 201.3,1817.4 210.7,1818.5 220.0,1819.5 229.3,1820.6 238.6,1821.7 247.9,1822.7 257.2,1823.8 266.6,1824.8 275.9,1825.8 285.2,1826.9 294.5,1827.9 303.8,1828.8 313.1,1829.8 322.5,1830.8 331.8,1831.7 341.1,1832.6 350.4,1833.6 359.7,1834.5 369.0,1835.3 378.4,1836.2 387.7,1837.1 397.0,1837.9 406.3,1838.8 415.6,1839.6 424.9,1840.4 434.3,1841.3 443.6,1842.1 452.9,1842.9 462.2,1843.7 471.5,1844.6 480.8,1845.4 490.2,1846.2 499.5,1846.9 508.8,1847.7 518.1,1848.4 527.4,1849.2 536.7,1849.9 546.1,1850.6 555.4,1851.2 564.7,1851.9 574.0,1852.5 583.3,1853.1 592.6,1853.6 602.0,1854.2 611.3,1854.7 620.6,1855.1 629.9,1855.6 639.2,1856.0 648.5,1856.5 657.9,1857.0 667.2,1857.4 676.5,1857.8 685.8,1858.3 695.1,1858.7 704.4,1859.1 713.7,1859.5 723.1,1859.9 732.4,1860.3 741.7,1860.6 751.0,1861.0 760.3,1861.3 769.6,1861.6 779.0,1861.9 788.3,1862.1 797.6,1862.3 806.9,1862.5 816.2,1862.7 825.5,1862.8 834.9,1862.9 844.2,1863.0 853.5,1863.1 862.8,1863.2 872.1,1863.2 881.4,1863.3 890.8,1863.4 900.1,1863.4 909.4,1863.5 918.7,1863.5 928.0,1863.6 937.3,1863.6 946.7,1863.7 956.0,1863.7 965.3,1863.8 974.6,1863.8 983.9,1863.9 993.2,1863.9 1002.6,1863.9 1011.9,1863.9 1021.2,1864.0 1030.5,1864.0 1039.8,1864.0 1049.1,1864.0 1058.5,1864.0 1067.8,1864.0 1077.1,1863.9 1086.4,1863.9 1095.7,1863.7 1105.0,1863.6 1114.4,1863.4 1123.7,1863.2 1133.0,1863.0 1142.3,1862.7 1151.6,1862.4 1160.9,1862.1 1170.3,1861.8 1179.6,1861.5 1188.9,1861.1 1198.2,1860.7 1207.5,1860.3 1216.8,1859.9 1226.1,1859.5 1235.5,1859.1 1244.8,1858.7 1254.1,1858.3 1263.4,1857.9 1272.7,1857.5 1282.0,1857.1 1291.4,1856.7 1300.7,1856.3 1310.0,1855.8 1319.3,1855.3 1328.6,1854.8 1337.9,1854.3 1347.3,1853.9 1356.6,1853.6 1365.9,1853.2 1375.2,1852.9 1384.5,1852.5 1393.8,1852.1 1403.2,1851.7 1412.5,1851.2 1421.8,1850.8 1431.1,1850.3 1440.4,1849.9 1449.7,1849.4 1459.1,1848.9 1468.4,1848.4 1477.7,1847.9 1487.0,1847.4 1496.3,1846.9 1505.6,1846.3 1515.0,1845.7 1524.3,1845.1 1533.6,1844.5 1542.9,1843.8 1552.2,1843.1 1561.5,1842.4 1570.9,1841.7 1580.2,1841.0 1589.5,1840.3 1598.8,1839.5 1608.1,1838.8 1617.4,1838.1 1626.8,1837.3 1636.1,1836.5 1645.4,1835.8 1654.7,1835.0 1664.0,1834.3 1673.3,1833.5 1682.7,1832.7 1692.0,1831.9 1701.3,1831.1 1710.6,1830.3 1719.9,1829.5 1729.2,1828.6 1738.5,1827.7 1747.9,1826.9 1757.2,1825.9 1766.5,1825.0 1775.8,1824.1 1785.1,1823.1 1794.4,1822.1 1803.8,1821.1 1813.1,1820.0 1822.4,1819.0 1831.7,1817.8 1841.0,1816.6 1850.3,1815.3 1859.7,1814.0 1869.0,1812.7 1878.3,1811.3 1887.6,1810.0 1896.9,1808.6 1906.2,1807.2 1915.6,1805.8 1924.9,1804.4 1934.2,1803.0 1943.5,1801.5 1952.8,1800.1 1962.1,1798.6 1971.5,1797.1 1980.8,1795.6 1990.1,1794.1 1999.4,1792.5 2008.7,1791.0 2018.0,1789.4 2027.4,1787.8" fill="none" stroke="#0a0a0a" stroke-width="3.9" stroke-linejoin="round" stroke-linecap="round" />
<polyline points="173.4,1847.8 189.0,1845.5 204.6,1843.2 220.1,1840.9 235.7,1838.5 251.3,1836.2 266.9,1833.9 282.5,1831.6 298.0,1829.3 313.6,1827.0 329.2,1824.6 344.8,1822.3 360.4,1820.0 375.9,1817.7" fill="none" stroke="#12468c" stroke-width="2.1" stroke-linejoin="round" stroke-linecap="round" />
<polyline points="173.4,1833.9 189.0,1831.4 204.6,1828.9 220.1,1826.4 235.7,1823.9 251.3,1821.3 266.9,1818.8 282.5,1816.3 298.0,1813.7 313.6,1811.2 329.2,1808.7 344.8,1806.1 360.4,1803.6 375.9,1801.1" fill="none" stroke="#12468c" stroke-width="2.4" stroke-linejoin="round" stroke-linecap="round" />
<polyline points="360.4,1820.0 375.9,1817.7 391.5,1815.4 407.1,1813.1 422.7,1810.8 438.3,1808.4 453.8,1806.1 469.4,1803.8 485.0,1801.5 500.6,1799.2 516.1,1796.9 531.7,1794.6 547.3,1792.3 562.9,1790.0 578.5,1787.7 594.0,1785.4 609.6,1783.0 625.2,1780.7 640.8,1778.4 656.4,1776.1 671.9,1773.8 687.5,1771.5 703.1,1769.1 718.7,1766.8 734.3,1764.5 749.8,1762.2 765.4,1759.8 781.0,1757.5 796.6,1755.2 812.2,1752.9 827.7,1750.6 843.3,1748.3 858.9,1746.0 874.5,1743.7 890.1,1741.4 905.6,1739.1 921.2,1736.9 936.8,1734.6 952.4,1732.3 968.0,1730.1 983.5,1727.9 999.1,1725.6 1014.7,1723.4 1030.3,1721.2 1045.8,1719.0 1061.4,1716.8 1077.0,1714.6 1092.6,1712.3 1108.2,1710.2 1123.7,1708.0 1139.3,1705.8 1154.9,1703.6 1170.5,1701.4 1186.1,1699.2 1201.6,1697.1 1217.2,1694.9 1232.8,1692.8 1248.4,1690.6 1264.0,1688.5 1279.5,1686.4 1295.1,1684.2 1310.7,1682.1 1326.3,1680.0 1341.9,1677.9 1357.4,1675.8 1373.0,1673.8 1388.6,1671.7 1404.2,1669.6 1419.8,1667.5 1435.3,1665.4 1450.9,1663.3 1466.5,1661.3 1482.1,1659.2 1497.7,1657.1 1513.2,1655.1 1528.8,1653.1 1544.4,1651.2 1560.0,1649.3 1575.6,1647.4 1591.1,1645.6 1606.7,1643.9 1622.3,1642.2 1637.9,1640.5 1653.4,1638.8 1669.0,1637.2 1684.6,1635.6 1700.2,1634.1 1715.8,1632.6 1731.3,1631.1 1746.9,1629.6 1762.5,1628.2 1778.1,1626.8 1793.7,1625.5 1809.2,1624.1 1824.8,1622.8 1840.4,1621.5 1856.0,1620.2 1871.6,1619.0 1887.1,1617.7 1902.7,1616.5 1918.3,1615.3 1933.9,1614.1 1949.5,1613.0 1965.0,1611.9 1980.6,1610.8 1996.2,1609.7 2011.8,1608.7 2027.4,1607.6" fill="none" stroke="#12468c" stroke-width="3.0" stroke-linejoin="round" stroke-linecap="round" />
<polyline points="360.4,1803.6 375.9,1801.1 391.5,1798.5 407.1,1796.0 422.7,1793.5 438.3,1790.9 453.8,1788.4 469.4,1785.9 485.0,1783.3 500.6,1780.8 516.1,1778.2 531.7,1775.7 547.3,1773.2 562.9,1770.6 578.5,1768.1 594.0,1765.5 609.6,1763.0 625.2,1760.4 640.8,1757.9 656.4,1755.3 671.9,1752.7 687.5,1750.2 703.1,1747.6 718.7,1745.0 734.3,1742.4 749.8,1739.9 765.4,1737.3 781.0,1734.7 796.6,1732.1 812.2,1729.6 827.7,1727.0 843.3,1724.4 858.9,1721.9 874.5,1719.3 890.1,1716.8 905.6,1714.2 921.2,1711.7 936.8,1709.2 952.4,1706.6 968.0,1704.1 983.5,1701.6 999.1,1699.1 1014.7,1696.6 1030.3,1694.1 1045.8,1691.7 1061.4,1689.2 1077.0,1686.7 1092.6,1684.2 1108.2,1681.8 1123.7,1679.3 1139.3,1676.8 1154.9,1674.4 1170.5,1671.9 1186.1,1669.5 1201.6,1667.0 1217.2,1664.6 1232.8,1662.2 1248.4,1659.8 1264.0,1657.3 1279.5,1654.9 1295.1,1652.5 1310.7,1650.1 1326.3,1647.8 1341.9,1645.4 1357.4,1643.0 1373.0,1640.7 1388.6,1638.3 1404.2,1636.0 1419.8,1633.6 1435.3,1631.2 1450.9,1628.8 1466.5,1626.5 1482.1,1624.1 1497.7,1621.8 1513.2,1619.5 1528.8,1617.2 1544.4,1615.0 1560.0,1612.8 1575.6,1610.7 1591.1,1608.6 1606.7,1606.6 1622.3,1604.7 1637.9,1602.8 1653.4,1600.9 1669.0,1599.1 1684.6,1597.2 1700.2,1595.5 1715.8,1593.7 1731.3,1592.0 1746.9,1590.4 1762.5,1588.7 1778.1,1587.1 1793.7,1585.6 1809.2,1584.0 1824.8,1582.5 1840.4,1581.0 1856.0,1579.5 1871.6,1578.1 1887.1,1576.7 1902.7,1575.3 1918.3,1573.9 1933.9,1572.5 1949.5,1571.2 1965.0,1569.9 1980.6,1568.7 1996.2,1567.4 2011.8,1566.3 2027.4,1565.1" fill="none" stroke="#12468c" stroke-width="4.3" stroke-linejoin="round" stroke-linecap="round" />
<polyline points="173.4,1877.6 187.5,1875.8 201.7,1874.1 215.8,1872.4 230.0,1870.6 244.1,1868.9 258.3,1867.1 272.4,1865.4 286.6,1863.6 300.7,1861.9 314.9,1860.1 329.0,1858.4 343.2,1856.7 357.3,1854.9" fill="none" stroke="#12468c" stroke-width="2.1" stroke-linejoin="round" stroke-linecap="round" />
<polyline points="173.4,1866.2 187.5,1864.3 201.7,1862.4 215.8,1860.5 230.0,1858.6 244.1,1856.8 258.3,1854.9 272.4,1853.0 286.6,1851.1 300.7,1849.2 314.9,1847.3 329.0,1845.4 343.2,1843.5 357.3,1841.7" fill="none" stroke="#12468c" stroke-width="2.4" stroke-linejoin="round" stroke-linecap="round" />
<polyline points="329.0,1858.4 343.2,1856.7 357.3,1854.9 371.5,1853.2 385.6,1851.4 399.7,1849.7 413.9,1848.0 428.0,1846.2 442.2,1844.5 456.3,1842.8 470.5,1841.0 484.6,1839.3 498.8,1837.5 512.9,1835.8 527.1,1834.1 541.2,1832.3 555.4,1830.6 569.5,1828.9 583.7,1827.1 597.8,1825.4 612.0,1823.6 626.1,1821.9 640.2,1820.1 654.4,1818.4 668.5,1816.6 682.7,1814.9 696.8,1813.2 711.0,1811.4 725.1,1809.7 739.3,1807.9 753.4,1806.2 767.6,1804.5 781.7,1802.7 795.9,1801.0 810.0,1799.3 824.2,1797.5 838.3,1795.8 852.4,1794.1 866.6,1792.4 880.7,1790.7 894.9,1789.0 909.0,1787.3 923.2,1785.7 937.3,1784.0 951.5,1782.3 965.6,1780.7 979.8,1779.0 993.9,1777.3 1008.1,1775.7 1022.2,1774.0 1036.4,1772.4 1050.5,1770.7 1064.6,1769.1 1078.8,1767.4 1092.9,1765.8 1107.1,1764.2 1121.2,1762.6 1135.4,1760.9 1149.5,1759.3 1163.7,1757.7 1177.8,1756.1 1192.0,1754.5 1206.1,1752.9 1220.3,1751.4 1234.4,1749.8 1248.6,1748.2 1262.7,1746.6 1276.8,1745.1 1291.0,1743.5 1305.1,1742.0 1319.3,1740.4 1333.4,1738.8 1347.6,1737.2 1361.7,1735.7 1375.9,1734.1 1390.0,1732.6 1404.2,1731.1 1418.3,1729.7 1432.5,1728.2 1446.6,1726.8 1460.8,1725.5 1474.9,1724.2 1489.1,1722.9 1503.2,1721.6 1517.3,1720.4 1531.5,1719.2 1545.6,1718.0 1559.8,1716.8 1573.9,1715.7 1588.1,1714.5 1602.2,1713.4 1616.4,1712.4 1630.5,1711.3 1644.7,1710.3 1658.8,1709.3 1673.0,1708.3 1687.1,1707.3 1701.3,1706.4 1715.4,1705.4 1729.5,1704.5 1743.7,1703.6 1757.8,1702.7 1772.0,1701.8 1786.1,1700.9 1800.3,1700.1 1814.4,1699.2 1828.6,1698.4 1842.7,1697.7 1856.9,1696.9" fill="none" stroke="#12468c" stroke-width="3.0" stroke-linejoin="round" stroke-linecap="round" />
<polyline points="329.0,1845.4 343.2,1843.5 357.3,1841.7 371.5,1839.8 385.6,1837.9 399.7,1836.0 413.9,1834.1 428.0,1832.2 442.2,1830.3 456.3,1828.4 470.5,1826.5 484.6,1824.6 498.8,1822.8 512.9,1820.9 527.1,1819.0 541.2,1817.1 555.4,1815.2 569.5,1813.3 583.7,1811.4 597.8,1809.5 612.0,1807.6 626.1,1805.7 640.2,1803.8 654.4,1801.8 668.5,1799.9 682.7,1798.0 696.8,1796.1 711.0,1794.2 725.1,1792.3 739.3,1790.4 753.4,1788.5 767.6,1786.6 781.7,1784.7 795.9,1782.8 810.0,1780.9 824.2,1779.0 838.3,1777.1 852.4,1775.2 866.6,1773.3 880.7,1771.4 894.9,1769.6 909.0,1767.7 923.2,1765.9 937.3,1764.0 951.5,1762.2 965.6,1760.3 979.8,1758.5 993.9,1756.7 1008.1,1754.8 1022.2,1753.0 1036.4,1751.2 1050.5,1749.4 1064.6,1747.5 1078.8,1745.7 1092.9,1743.9 1107.1,1742.1 1121.2,1740.3 1135.4,1738.5 1149.5,1736.7 1163.7,1734.9 1177.8,1733.2 1192.0,1731.4 1206.1,1729.6 1220.3,1727.8 1234.4,1726.1 1248.6,1724.3 1262.7,1722.6 1276.8,1720.9 1291.0,1719.1 1305.1,1717.4 1319.3,1715.6 1333.4,1713.9 1347.6,1712.1 1361.7,1710.4 1375.9,1708.7 1390.0,1707.0 1404.2,1705.3 1418.3,1703.6 1432.5,1702.0 1446.6,1700.5 1460.8,1699.0 1474.9,1697.5 1489.1,1696.0 1503.2,1694.6 1517.3,1693.2 1531.5,1691.9 1545.6,1690.5 1559.8,1689.2 1573.9,1687.9 1588.1,1686.7 1602.2,1685.5 1616.4,1684.3 1630.5,1683.1 1644.7,1681.9 1658.8,1680.8 1673.0,1679.7 1687.1,1678.6 1701.3,1677.5 1715.4,1676.4 1729.5,1675.4 1743.7,1674.3 1757.8,1673.3 1772.0,1672.3 1786.1,1671.4 1800.3,1670.4 1814.4,1669.5 1828.6,1668.6 1842.7,1667.7 1856.9,1666.8" fill="none" stroke="#12468c" stroke-width="4.3" stroke-linejoin="round" stroke-linecap="round" />
<polyline points="173.4,1903.3 186.1,1902.1 198.7,1900.8 211.4,1899.6 224.1,1898.3 236.8,1897.1 249.4,1895.8 262.1,1894.6 274.8,1893.4 287.5,1892.1 300.1,1890.9 312.8,1889.6 325.5,1888.4" fill="none" stroke="#12468c" stroke-width="2.1" stroke-linejoin="round" stroke-linecap="round" />
<polyline points="173.4,1893.9 186.1,1892.5 198.7,1891.2 211.4,1889.8 224.1,1888.5 236.8,1887.2 249.4,1885.8 262.1,1884.5 274.8,1883.1 287.5,1881.8 300.1,1880.5 312.8,1879.1 325.5,1877.8" fill="none" stroke="#12468c" stroke-width="2.4" stroke-linejoin="round" stroke-linecap="round" />
<polyline points="300.1,1890.9 312.8,1889.6 325.5,1888.4 338.2,1887.1 350.8,1885.9 363.5,1884.6 376.2,1883.4 388.8,1882.1 401.5,1880.9 414.2,1879.7 426.9,1878.4 439.5,1877.2 452.2,1875.9 464.9,1874.7 477.6,1873.4 490.2,1872.2 502.9,1871.0 515.6,1869.7 528.3,1868.5 540.9,1867.2 553.6,1866.0 566.3,1864.7 578.9,1863.5 591.6,1862.2 604.3,1861.0 617.0,1859.7 629.6,1858.5 642.3,1857.2 655.0,1856.0 667.7,1854.8 680.3,1853.5 693.0,1852.3 705.7,1851.0 718.4,1849.8 731.0,1848.5 743.7,1847.3 756.4,1846.1 769.0,1844.9 781.7,1843.6 794.4,1842.4 807.1,1841.2 819.7,1840.0 832.4,1838.8 845.1,1837.6 857.8,1836.4 870.4,1835.2 883.1,1834.0 895.8,1832.8 908.5,1831.6 921.1,1830.4 933.8,1829.3 946.5,1828.1 959.1,1826.9 971.8,1825.7 984.5,1824.6 997.2,1823.4 1009.8,1822.2 1022.5,1821.1 1035.2,1819.9 1047.9,1818.8 1060.5,1817.6 1073.2,1816.5 1085.9,1815.3 1098.6,1814.2 1111.2,1813.0 1123.9,1811.9 1136.6,1810.8 1149.3,1809.7 1161.9,1808.6 1174.6,1807.4 1187.3,1806.3 1199.9,1805.2 1212.6,1804.1 1225.3,1803.0 1238.0,1801.8 1250.6,1800.7 1263.3,1799.7 1276.0,1798.6 1288.7,1797.5 1301.3,1796.5 1314.0,1795.5 1326.7,1794.5 1339.4,1793.6 1352.0,1792.7 1364.7,1791.8 1377.4,1790.9 1390.0,1790.0 1402.7,1789.2 1415.4,1788.3 1428.1,1787.5 1440.7,1786.7 1453.4,1785.9 1466.1,1785.2 1478.8,1784.4 1491.4,1783.7 1504.1,1783.0 1516.8,1782.3 1529.5,1781.6 1542.1,1780.9 1554.8,1780.2 1567.5,1779.5 1580.1,1778.9 1592.8,1778.2 1605.5,1777.6 1618.2,1777.0 1630.8,1776.4 1643.5,1775.8 1656.2,1775.2 1668.9,1774.6 1681.5,1774.1" fill="none" stroke="#12468c" stroke-width="3.0" stroke-linejoin="round" stroke-linecap="round" />
<polyline points="300.1,1880.5 312.8,1879.1 325.5,1877.8 338.2,1876.4 350.8,1875.1 363.5,1873.8 376.2,1872.4 388.8,1871.1 401.5,1869.7 414.2,1868.4 426.9,1867.1 439.5,1865.7 452.2,1864.4 464.9,1863.0 477.6,1861.7 490.2,1860.4 502.9,1859.0 515.6,1857.7 528.3,1856.3 540.9,1855.0 553.6,1853.6 566.3,1852.3 578.9,1850.9 591.6,1849.6 604.3,1848.2 617.0,1846.9 629.6,1845.5 642.3,1844.2 655.0,1842.8 667.7,1841.5 680.3,1840.1 693.0,1838.8 705.7,1837.4 718.4,1836.1 731.0,1834.7 743.7,1833.4 756.4,1832.1 769.0,1830.7 781.7,1829.4 794.4,1828.1 807.1,1826.7 819.7,1825.4 832.4,1824.1 845.1,1822.8 857.8,1821.5 870.4,1820.2 883.1,1818.9 895.8,1817.6 908.5,1816.3 921.1,1815.0 933.8,1813.7 946.5,1812.4 959.1,1811.2 971.8,1809.9 984.5,1808.6 997.2,1807.3 1009.8,1806.0 1022.5,1804.8 1035.2,1803.5 1047.9,1802.2 1060.5,1801.0 1073.2,1799.7 1085.9,1798.5 1098.6,1797.2 1111.2,1796.0 1123.9,1794.8 1136.6,1793.5 1149.3,1792.3 1161.9,1791.1 1174.6,1789.8 1187.3,1788.6 1199.9,1787.4 1212.6,1786.1 1225.3,1784.9 1238.0,1783.7 1250.6,1782.5 1263.3,1781.3 1276.0,1780.1 1288.7,1778.9 1301.3,1777.8 1314.0,1776.7 1326.7,1775.7 1339.4,1774.6 1352.0,1773.6 1364.7,1772.6 1377.4,1771.6 1390.0,1770.7 1402.7,1769.7 1415.4,1768.8 1428.1,1767.9 1440.7,1767.0 1453.4,1766.2 1466.1,1765.3 1478.8,1764.5 1491.4,1763.7 1504.1,1762.9 1516.8,1762.1 1529.5,1761.3 1542.1,1760.6 1554.8,1759.8 1567.5,1759.1 1580.1,1758.4 1592.8,1757.6 1605.5,1756.9 1618.2,1756.3 1630.8,1755.6 1643.5,1754.9 1656.2,1754.3 1668.9,1753.7 1681.5,1753.1" fill="none" stroke="#12468c" stroke-width="4.3" stroke-linejoin="round" stroke-linecap="round" />
<polyline points="173.4,1924.5 184.5,1923.7 195.7,1922.8 206.8,1922.0 217.9,1921.1 229.0,1920.3 240.2,1919.5 251.3,1918.6 262.4,1917.8 273.6,1917.0 284.7,1916.1 295.8,1915.3 306.9,1914.4" fill="none" stroke="#12468c" stroke-width="2.1" stroke-linejoin="round" stroke-linecap="round" />
<polyline points="173.4,1916.5 184.5,1915.6 195.7,1914.7 206.8,1913.8 217.9,1912.9 229.0,1912.0 240.2,1911.1 251.3,1910.2 262.4,1909.3 273.6,1908.4 284.7,1907.5 295.8,1906.6 306.9,1905.7" fill="none" stroke="#12468c" stroke-width="2.4" stroke-linejoin="round" stroke-linecap="round" />
<polyline points="273.6,1917.0 284.7,1916.1 295.8,1915.3 306.9,1914.4 318.1,1913.6 329.2,1912.8 340.3,1911.9 351.5,1911.1 362.6,1910.3 373.7,1909.4 384.8,1908.6 396.0,1907.7 407.1,1906.9 418.2,1906.1 429.4,1905.2 440.5,1904.4 451.6,1903.6 462.7,1902.7 473.9,1901.9 485.0,1901.1 496.1,1900.2 507.3,1899.4 518.4,1898.5 529.5,1897.7 540.6,1896.9 551.8,1896.0 562.9,1895.2 574.0,1894.3 585.2,1893.5 596.3,1892.7 607.4,1891.8 618.5,1891.0 629.7,1890.2 640.8,1889.3 651.9,1888.5 663.1,1887.7 674.2,1886.8 685.3,1886.0 696.4,1885.2 707.6,1884.3 718.7,1883.5 729.8,1882.7 741.0,1881.9 752.1,1881.1 763.2,1880.3 774.3,1879.5 785.5,1878.7 796.6,1877.9 807.7,1877.1 818.9,1876.3 830.0,1875.5 841.1,1874.7 852.2,1873.9 863.4,1873.1 874.5,1872.3 885.6,1871.5 896.8,1870.7 907.9,1869.9 919.0,1869.2 930.1,1868.4 941.3,1867.6 952.4,1866.8 963.5,1866.1 974.7,1865.3 985.8,1864.5 996.9,1863.8 1008.1,1863.0 1019.2,1862.3 1030.3,1861.5 1041.4,1860.8 1052.6,1860.0 1063.7,1859.2 1074.8,1858.5 1086.0,1857.7 1097.1,1857.0 1108.2,1856.2 1119.3,1855.5 1130.5,1854.8 1141.6,1854.0 1152.7,1853.3 1163.9,1852.6 1175.0,1852.0 1186.1,1851.3 1197.2,1850.7 1208.4,1850.1 1219.5,1849.5 1230.6,1848.9 1241.8,1848.3 1252.9,1847.7 1264.0,1847.2 1275.1,1846.6 1286.3,1846.1 1297.4,1845.5 1308.5,1845.0 1319.7,1844.5 1330.8,1844.0 1341.9,1843.5 1353.0,1843.1 1364.2,1842.6 1375.3,1842.1 1386.4,1841.7 1397.6,1841.2 1408.7,1840.8 1419.8,1840.3 1430.9,1839.9 1442.1,1839.5 1453.2,1839.1 1464.3,1838.7 1475.5,1838.3 1486.6,1837.9 1497.7,1837.6" fill="none" stroke="#12468c" stroke-width="3.0" stroke-linejoin="round" stroke-linecap="round" />
<polyline points="273.6,1908.4 284.7,1907.5 295.8,1906.6 306.9,1905.7 318.1,1904.8 329.2,1903.9 340.3,1903.0 351.5,1902.2 362.6,1901.3 373.7,1900.4 384.8,1899.5 396.0,1898.6 407.1,1897.7 418.2,1896.8 429.4,1895.9 440.5,1895.0 451.6,1894.1 462.7,1893.2 473.9,1892.3 485.0,1891.4 496.1,1890.5 507.3,1889.6 518.4,1888.7 529.5,1887.8 540.6,1886.9 551.8,1886.0 562.9,1885.1 574.0,1884.2 585.2,1883.3 596.3,1882.4 607.4,1881.5 618.5,1880.6 629.7,1879.7 640.8,1878.8 651.9,1877.9 663.1,1877.0 674.2,1876.1 685.3,1875.2 696.4,1874.3 707.6,1873.5 718.7,1872.6 729.8,1871.7 741.0,1870.8 752.1,1869.9 763.2,1869.1 774.3,1868.2 785.5,1867.3 796.6,1866.5 807.7,1865.6 818.9,1864.7 830.0,1863.9 841.1,1863.0 852.2,1862.2 863.4,1861.3 874.5,1860.5 885.6,1859.6 896.8,1858.8 907.9,1857.9 919.0,1857.1 930.1,1856.2 941.3,1855.4 952.4,1854.6 963.5,1853.7 974.7,1852.9 985.8,1852.1 996.9,1851.2 1008.1,1850.4 1019.2,1849.6 1030.3,1848.8 1041.4,1848.0 1052.6,1847.2 1063.7,1846.3 1074.8,1845.5 1086.0,1844.7 1097.1,1843.9 1108.2,1843.1 1119.3,1842.3 1130.5,1841.5 1141.6,1840.7 1152.7,1839.9 1163.9,1839.2 1175.0,1838.5 1186.1,1837.7 1197.2,1837.1 1208.4,1836.4 1219.5,1835.7 1230.6,1835.1 1241.8,1834.4 1252.9,1833.8 1264.0,1833.2 1275.1,1832.6 1286.3,1832.0 1297.4,1831.5 1308.5,1830.9 1319.7,1830.4 1330.8,1829.8 1341.9,1829.3 1353.0,1828.8 1364.2,1828.3 1375.3,1827.8 1386.4,1827.3 1397.6,1826.8 1408.7,1826.3 1419.8,1825.8 1430.9,1825.4 1442.1,1824.9 1453.2,1824.5 1464.3,1824.0 1475.5,1823.6 1486.6,1823.2 1497.7,1822.8" fill="none" stroke="#12468c" stroke-width="4.3" stroke-linejoin="round" stroke-linecap="round" />
<polyline points="173.4,1940.0 183.0,1939.5 192.6,1938.9 202.2,1938.4 211.7,1937.8 221.3,1937.3 230.9,1936.8 240.5,1936.2 250.1,1935.7 259.7,1935.1 269.3,1934.6 278.9,1934.1 288.4,1933.5" fill="none" stroke="#12468c" stroke-width="2.1" stroke-linejoin="round" stroke-linecap="round" />
<polyline points="173.4,1933.0 183.0,1932.4 192.6,1931.8 202.2,1931.2 211.7,1930.7 221.3,1930.1 230.9,1929.5 240.5,1928.9 250.1,1928.4 259.7,1927.8 269.3,1927.2 278.9,1926.6 288.4,1926.1" fill="none" stroke="#12468c" stroke-width="2.4" stroke-linejoin="round" stroke-linecap="round" />
<polyline points="259.7,1935.1 269.3,1934.6 278.9,1934.1 288.4,1933.5 298.0,1933.0 307.6,1932.4 317.2,1931.9 326.8,1931.4 336.4,1930.8 346.0,1930.3 355.6,1929.7 365.1,1929.2 374.7,1928.7 384.3,1928.1 393.9,1927.6 403.5,1927.1 413.1,1926.5 422.7,1926.0 432.3,1925.4 441.8,1924.9 451.4,1924.4 461.0,1923.8 470.6,1923.3 480.2,1922.7 489.8,1922.2 499.4,1921.7 509.0,1921.1 518.5,1920.6 528.1,1920.0 537.7,1919.5 547.3,1919.0 556.9,1918.4 566.5,1917.9 576.1,1917.3 585.7,1916.8 595.2,1916.3 604.8,1915.7 614.4,1915.2 624.0,1914.7 633.6,1914.1 643.2,1913.6 652.8,1913.1 662.4,1912.6 671.9,1912.0 681.5,1911.5 691.1,1911.0 700.7,1910.5 710.3,1910.0 719.9,1909.5 729.5,1908.9 739.1,1908.4 748.6,1907.9 758.2,1907.4 767.8,1906.9 777.4,1906.4 787.0,1905.9 796.6,1905.4 806.2,1904.9 815.8,1904.4 825.3,1903.9 834.9,1903.4 844.5,1902.9 854.1,1902.4 863.7,1901.9 873.3,1901.4 882.9,1900.9 892.5,1900.4 902.0,1899.9 911.6,1899.4 921.2,1899.0 930.8,1898.5 940.4,1898.0 950.0,1897.5 959.6,1897.0 969.2,1896.5 978.7,1896.0 988.3,1895.6 997.9,1895.1 1007.5,1894.6 1017.1,1894.2 1026.7,1893.7 1036.3,1893.3 1045.8,1892.9 1055.4,1892.5 1065.0,1892.1 1074.6,1891.7 1084.2,1891.3 1093.8,1890.9 1103.4,1890.6 1113.0,1890.2 1122.5,1889.8 1132.1,1889.5 1141.7,1889.2 1151.3,1888.8 1160.9,1888.5 1170.5,1888.2 1180.1,1887.9 1189.7,1887.6 1199.2,1887.3 1208.8,1887.0 1218.4,1886.7 1228.0,1886.4 1237.6,1886.1 1247.2,1885.8 1256.8,1885.5 1266.4,1885.3 1275.9,1885.0 1285.5,1884.8 1295.1,1884.5 1304.7,1884.3 1314.3,1884.0" fill="none" stroke="#12468c" stroke-width="4.0" stroke-linejoin="round" stroke-linecap="round" />
<polyline points="259.7,1927.8 269.3,1927.2 278.9,1926.6 288.4,1926.1 298.0,1925.5 307.6,1924.9 317.2,1924.3 326.8,1923.8 336.4,1923.2 346.0,1922.6 355.6,1922.1 365.1,1921.5 374.7,1920.9 384.3,1920.3 393.9,1919.8 403.5,1919.2 413.1,1918.6 422.7,1918.0 432.3,1917.5 441.8,1916.9 451.4,1916.3 461.0,1915.7 470.6,1915.2 480.2,1914.6 489.8,1914.0 499.4,1913.4 509.0,1912.9 518.5,1912.3 528.1,1911.7 537.7,1911.1 547.3,1910.6 556.9,1910.0 566.5,1909.4 576.1,1908.8 585.7,1908.3 595.2,1907.7 604.8,1907.1 614.4,1906.5 624.0,1906.0 633.6,1905.4 643.2,1904.9 652.8,1904.3 662.4,1903.7 671.9,1903.2 681.5,1902.6 691.1,1902.1 700.7,1901.5 710.3,1901.0 719.9,1900.4 729.5,1899.9 739.1,1899.3 748.6,1898.8 758.2,1898.2 767.8,1897.7 777.4,1897.1 787.0,1896.6 796.6,1896.0 806.2,1895.5 815.8,1895.0 825.3,1894.4 834.9,1893.9 844.5,1893.3 854.1,1892.8 863.7,1892.3 873.3,1891.8 882.9,1891.2 892.5,1890.7 902.0,1890.2 911.6,1889.7 921.2,1889.2 930.8,1888.6 940.4,1888.1 950.0,1887.6 959.6,1887.1 969.2,1886.5 978.7,1886.0 988.3,1885.5 997.9,1885.0 1007.5,1884.5 1017.1,1884.0 1026.7,1883.5 1036.3,1883.1 1045.8,1882.6 1055.4,1882.2 1065.0,1881.8 1074.6,1881.3 1084.2,1880.9 1093.8,1880.5 1103.4,1880.1 1113.0,1879.7 1122.5,1879.4 1132.1,1879.0 1141.7,1878.6 1151.3,1878.3 1160.9,1877.9 1170.5,1877.6 1180.1,1877.2 1189.7,1876.9 1199.2,1876.6 1208.8,1876.3 1218.4,1875.9 1228.0,1875.6 1237.6,1875.3 1247.2,1875.0 1256.8,1874.7 1266.4,1874.4 1275.9,1874.2 1285.5,1873.9 1295.1,1873.6 1304.7,1873.4 1314.3,1873.1" fill="none" stroke="#12468c" stroke-width="5.2" stroke-linejoin="round" stroke-linecap="round" />
<polyline points="173.4,1951.6 181.4,1951.3 189.4,1950.9 197.5,1950.6 205.5,1950.3 213.5,1950.0 221.5,1949.7 229.5,1949.4 237.6,1949.0 245.6,1948.7 253.6,1948.4 261.6,1948.1 269.6,1947.8" fill="none" stroke="#12468c" stroke-width="2.1" stroke-linejoin="round" stroke-linecap="round" />
<polyline points="173.4,1945.2 181.4,1944.9 189.4,1944.6 197.5,1944.2 205.5,1943.9 213.5,1943.5 221.5,1943.2 229.5,1942.9 237.6,1942.5 245.6,1942.2 253.6,1941.9 261.6,1941.5 269.6,1941.2" fill="none" stroke="#12468c" stroke-width="2.4" stroke-linejoin="round" stroke-linecap="round" />
<polyline points="245.6,1948.7 253.6,1948.4 261.6,1948.1 269.6,1947.8 277.6,1947.5 285.7,1947.1 293.7,1946.8 301.7,1946.5 309.7,1946.2 317.7,1945.9 325.8,1945.6 333.8,1945.2 341.8,1944.9 349.8,1944.6 357.8,1944.3 365.9,1944.0 373.9,1943.7 381.9,1943.3 389.9,1943.0 397.9,1942.7 405.9,1942.4 414.0,1942.1 422.0,1941.8 430.0,1941.4 438.0,1941.1 446.0,1940.8 454.1,1940.5 462.1,1940.2 470.1,1939.9 478.1,1939.5 486.1,1939.2 494.2,1938.9 502.2,1938.6 510.2,1938.3 518.2,1938.0 526.2,1937.7 534.3,1937.3 542.3,1937.0 550.3,1936.7 558.3,1936.4 566.3,1936.1 574.3,1935.8 582.4,1935.5 590.4,1935.2 598.4,1934.9 606.4,1934.6 614.4,1934.3 622.5,1934.0 630.5,1933.7 638.5,1933.4 646.5,1933.1 654.5,1932.8 662.6,1932.5 670.6,1932.2 678.6,1931.9 686.6,1931.6 694.6,1931.3 702.6,1931.0 710.7,1930.7 718.7,1930.4 726.7,1930.1 734.7,1929.8 742.7,1929.5 750.8,1929.2 758.8,1928.9 766.8,1928.6 774.8,1928.3 782.8,1928.1 790.9,1927.8 798.9,1927.5 806.9,1927.2 814.9,1926.9 822.9,1926.6 830.9,1926.4 839.0,1926.1 847.0,1925.8 855.0,1925.5 863.0,1925.2 871.0,1925.0 879.1,1924.7 887.1,1924.4 895.1,1924.2 903.1,1923.9 911.1,1923.7 919.2,1923.5 927.2,1923.2 935.2,1923.0 943.2,1922.8 951.2,1922.6 959.3,1922.4 967.3,1922.1 975.3,1921.9 983.3,1921.7 991.3,1921.6 999.3,1921.4 1007.4,1921.2 1015.4,1921.0 1023.4,1920.8 1031.4,1920.6 1039.4,1920.5 1047.5,1920.3 1055.5,1920.1 1063.5,1919.9 1071.5,1919.8 1079.5,1919.6 1087.6,1919.5 1095.6,1919.3 1103.6,1919.2 1111.6,1919.0 1119.6,1918.9 1127.6,1918.7" fill="none" stroke="#12468c" stroke-width="4.0" stroke-linejoin="round" stroke-linecap="round" />
<polyline points="245.6,1942.2 253.6,1941.9 261.6,1941.5 269.6,1941.2 277.6,1940.9 285.7,1940.5 293.7,1940.2 301.7,1939.9 309.7,1939.5 317.7,1939.2 325.8,1938.9 333.8,1938.5 341.8,1938.2 349.8,1937.9 357.8,1937.5 365.9,1937.2 373.9,1936.8 381.9,1936.5 389.9,1936.2 397.9,1935.8 405.9,1935.5 414.0,1935.2 422.0,1934.8 430.0,1934.5 438.0,1934.2 446.0,1933.8 454.1,1933.5 462.1,1933.2 470.1,1932.8 478.1,1932.5 486.1,1932.1 494.2,1931.8 502.2,1931.5 510.2,1931.1 518.2,1930.8 526.2,1930.5 534.3,1930.1 542.3,1929.8 550.3,1929.5 558.3,1929.1 566.3,1928.8 574.3,1928.5 582.4,1928.2 590.4,1927.8 598.4,1927.5 606.4,1927.2 614.4,1926.9 622.5,1926.5 630.5,1926.2 638.5,1925.9 646.5,1925.6 654.5,1925.3 662.6,1924.9 670.6,1924.6 678.6,1924.3 686.6,1924.0 694.6,1923.7 702.6,1923.4 710.7,1923.0 718.7,1922.7 726.7,1922.4 734.7,1922.1 742.7,1921.8 750.8,1921.5 758.8,1921.2 766.8,1920.9 774.8,1920.6 782.8,1920.3 790.9,1920.0 798.9,1919.7 806.9,1919.4 814.9,1919.1 822.9,1918.8 830.9,1918.4 839.0,1918.1 847.0,1917.8 855.0,1917.5 863.0,1917.3 871.0,1917.0 879.1,1916.7 887.1,1916.4 895.1,1916.1 903.1,1915.9 911.1,1915.6 919.2,1915.4 927.2,1915.1 935.2,1914.9 943.2,1914.6 951.2,1914.4 959.3,1914.2 967.3,1914.0 975.3,1913.7 983.3,1913.5 991.3,1913.3 999.3,1913.1 1007.4,1912.9 1015.4,1912.7 1023.4,1912.5 1031.4,1912.3 1039.4,1912.2 1047.5,1912.0 1055.5,1911.8 1063.5,1911.6 1071.5,1911.4 1079.5,1911.3 1087.6,1911.1 1095.6,1910.9 1103.6,1910.8 1111.6,1910.6 1119.6,1910.5 1127.6,1910.3" fill="none" stroke="#12468c" stroke-width="5.2" stroke-linejoin="round" stroke-linecap="round" />
<polyline points="173.4,1959.5 179.8,1959.3 186.3,1959.1 192.7,1959.0 199.1,1958.8 205.6,1958.6 212.0,1958.5 218.5,1958.3 224.9,1958.1 231.3,1958.0 237.8,1957.8 244.2,1957.6 250.6,1957.5" fill="none" stroke="#12468c" stroke-width="2.1" stroke-linejoin="round" stroke-linecap="round" />
<polyline points="173.4,1953.6 179.8,1953.4 186.3,1953.2 192.7,1953.0 199.1,1952.9 205.6,1952.7 212.0,1952.5 218.5,1952.3 224.9,1952.2 231.3,1952.0 237.8,1951.8 244.2,1951.6 250.6,1951.5" fill="none" stroke="#12468c" stroke-width="2.4" stroke-linejoin="round" stroke-linecap="round" />
<polyline points="224.9,1958.1 231.3,1958.0 237.8,1957.8 244.2,1957.6 250.6,1957.5 257.1,1957.3 263.5,1957.1 270.0,1957.0 276.4,1956.8 282.8,1956.7 289.3,1956.5 295.7,1956.3 302.1,1956.2 308.6,1956.0 315.0,1955.8 321.4,1955.7 327.9,1955.5 334.3,1955.3 340.8,1955.2 347.2,1955.0 353.6,1954.8 360.1,1954.7 366.5,1954.5 372.9,1954.4 379.4,1954.2 385.8,1954.0 392.3,1953.9 398.7,1953.7 405.1,1953.5 411.6,1953.4 418.0,1953.2 424.4,1953.0 430.9,1952.9 437.3,1952.7 443.7,1952.5 450.2,1952.4 456.6,1952.2 463.1,1952.1 469.5,1951.9 475.9,1951.7 482.4,1951.6 488.8,1951.4 495.2,1951.2 501.7,1951.1 508.1,1950.9 514.6,1950.8 521.0,1950.6 527.4,1950.5 533.9,1950.3 540.3,1950.1 546.7,1950.0 553.2,1949.8 559.6,1949.7 566.0,1949.5 572.5,1949.4 578.9,1949.2 585.4,1949.0 591.8,1948.9 598.2,1948.7 604.7,1948.6 611.1,1948.4 617.5,1948.3 624.0,1948.1 630.4,1948.0 636.9,1947.8 643.3,1947.7 649.7,1947.5 656.2,1947.4 662.6,1947.2 669.0,1947.1 675.5,1946.9 681.9,1946.8 688.3,1946.6 694.8,1946.5 701.2,1946.3 707.7,1946.2 714.1,1946.0 720.5,1945.9 727.0,1945.8 733.4,1945.6 739.8,1945.5 746.3,1945.3 752.7,1945.2 759.2,1945.1 765.6,1945.0 772.0,1944.8 778.5,1944.7 784.9,1944.6 791.3,1944.5 797.8,1944.4 804.2,1944.3 810.6,1944.2 817.1,1944.0 823.5,1943.9 830.0,1943.8 836.4,1943.7 842.8,1943.6 849.3,1943.5 855.7,1943.5 862.1,1943.4 868.6,1943.3 875.0,1943.2 881.5,1943.1 887.9,1943.0 894.3,1942.9 900.8,1942.8 907.2,1942.8 913.6,1942.7 920.1,1942.6 926.5,1942.5 932.9,1942.5 939.4,1942.4" fill="none" stroke="#12468c" stroke-width="4.0" stroke-linejoin="round" stroke-linecap="round" />
<polyline points="224.9,1952.2 231.3,1952.0 237.8,1951.8 244.2,1951.6 250.6,1951.5 257.1,1951.3 263.5,1951.1 270.0,1951.0 276.4,1950.8 282.8,1950.6 289.3,1950.4 295.7,1950.3 302.1,1950.1 308.6,1949.9 315.0,1949.7 321.4,1949.6 327.9,1949.4 334.3,1949.2 340.8,1949.0 347.2,1948.9 353.6,1948.7 360.1,1948.5 366.5,1948.3 372.9,1948.2 379.4,1948.0 385.8,1947.8 392.3,1947.6 398.7,1947.5 405.1,1947.3 411.6,1947.1 418.0,1946.9 424.4,1946.8 430.9,1946.6 437.3,1946.4 443.7,1946.3 450.2,1946.1 456.6,1945.9 463.1,1945.7 469.5,1945.6 475.9,1945.4 482.4,1945.2 488.8,1945.1 495.2,1944.9 501.7,1944.7 508.1,1944.5 514.6,1944.4 521.0,1944.2 527.4,1944.0 533.9,1943.9 540.3,1943.7 546.7,1943.5 553.2,1943.4 559.6,1943.2 566.0,1943.0 572.5,1942.9 578.9,1942.7 585.4,1942.6 591.8,1942.4 598.2,1942.2 604.7,1942.1 611.1,1941.9 617.5,1941.7 624.0,1941.6 630.4,1941.4 636.9,1941.3 643.3,1941.1 649.7,1940.9 656.2,1940.8 662.6,1940.6 669.0,1940.5 675.5,1940.3 681.9,1940.2 688.3,1940.0 694.8,1939.8 701.2,1939.7 707.7,1939.5 714.1,1939.4 720.5,1939.2 727.0,1939.1 733.4,1938.9 739.8,1938.8 746.3,1938.6 752.7,1938.5 759.2,1938.3 765.6,1938.2 772.0,1938.1 778.5,1938.0 784.9,1937.8 791.3,1937.7 797.8,1937.6 804.2,1937.5 810.6,1937.4 817.1,1937.3 823.5,1937.1 830.0,1937.0 836.4,1936.9 842.8,1936.8 849.3,1936.7 855.7,1936.6 862.1,1936.5 868.6,1936.4 875.0,1936.3 881.5,1936.2 887.9,1936.2 894.3,1936.1 900.8,1936.0 907.2,1935.9 913.6,1935.8 920.1,1935.7 926.5,1935.6 932.9,1935.6 939.4,1935.5" fill="none" stroke="#12468c" stroke-width="5.2" stroke-linejoin="round" stroke-linecap="round" />
<polyline points="173.4,1965.8 177.5,1965.8 181.5,1965.7 185.6,1965.7 189.6,1965.6 193.7,1965.6 197.7,1965.5 201.8,1965.5 205.8,1965.5 209.9,1965.4 213.9,1965.4 218.0,1965.3 222.0,1965.3 226.1,1965.2 230.1,1965.2" fill="none" stroke="#12468c" stroke-width="2.1" stroke-linejoin="round" stroke-linecap="round" />
<polyline points="173.4,1960.3 177.5,1960.2 181.5,1960.2 185.6,1960.1 189.6,1960.1 193.7,1960.0 197.7,1960.0 201.8,1959.9 205.8,1959.9 209.9,1959.8 213.9,1959.8 218.0,1959.8 222.0,1959.7 226.1,1959.7 230.1,1959.6" fill="none" stroke="#12468c" stroke-width="2.4" stroke-linejoin="round" stroke-linecap="round" />
<polyline points="197.7,1965.5 201.8,1965.5 205.8,1965.5 209.9,1965.4 213.9,1965.4 218.0,1965.3 222.0,1965.3 226.1,1965.2 230.1,1965.2 234.2,1965.2 238.2,1965.1 242.3,1965.1 246.3,1965.0 250.4,1965.0 254.4,1964.9 258.5,1964.9 262.5,1964.9 266.6,1964.8 270.6,1964.8 274.7,1964.7 278.7,1964.7 282.8,1964.6 286.8,1964.6 290.9,1964.6 294.9,1964.5 299.0,1964.5 303.0,1964.4 307.1,1964.4 311.1,1964.4 315.2,1964.3 319.2,1964.3 323.3,1964.2 327.3,1964.2 331.4,1964.1 335.4,1964.1 339.5,1964.1 343.5,1964.0 347.6,1964.0 351.6,1963.9 355.7,1963.9 359.7,1963.8 363.8,1963.8 367.8,1963.8 371.9,1963.7 375.9,1963.7 380.0,1963.6 384.0,1963.6 388.1,1963.6 392.1,1963.5 396.2,1963.5 400.2,1963.4 404.3,1963.4 408.3,1963.3 412.4,1963.3 416.4,1963.3 420.5,1963.2 424.5,1963.2 428.6,1963.1 432.6,1963.1 436.7,1963.1 440.7,1963.0 444.8,1963.0 448.8,1962.9 452.9,1962.9 456.9,1962.9 461.0,1962.8 465.0,1962.8 469.1,1962.8 473.1,1962.7 477.2,1962.7 481.2,1962.6 485.3,1962.6 489.3,1962.6 493.4,1962.5 497.4,1962.5 501.5,1962.4 505.5,1962.4 509.6,1962.4 513.6,1962.3 517.7,1962.3 521.7,1962.3 525.8,1962.2 529.8,1962.2 533.9,1962.2 537.9,1962.1 542.0,1962.1 546.0,1962.1 550.1,1962.0 554.1,1962.0 558.2,1962.0 562.2,1961.9 566.3,1961.9 570.3,1961.9 574.4,1961.8 578.4,1961.8 582.5,1961.8 586.5,1961.8 590.6,1961.7 594.6,1961.7 598.7,1961.7 602.7,1961.7 606.8,1961.6 610.8,1961.6 614.9,1961.6 618.9,1961.6 623.0,1961.6 627.0,1961.5 631.1,1961.5 635.1,1961.5 639.2,1961.5 643.2,1961.4 647.3,1961.4 651.3,1961.4 655.4,1961.4" fill="none" stroke="#12468c" stroke-width="4.0" stroke-linejoin="round" stroke-linecap="round" />
<polyline points="197.7,1960.0 201.8,1959.9 205.8,1959.9 209.9,1959.8 213.9,1959.8 218.0,1959.8 222.0,1959.7 226.1,1959.7 230.1,1959.6 234.2,1959.6 238.2,1959.5 242.3,1959.5 246.3,1959.4 250.4,1959.4 254.4,1959.4 258.5,1959.3 262.5,1959.3 266.6,1959.2 270.6,1959.2 274.7,1959.1 278.7,1959.1 282.8,1959.0 286.8,1959.0 290.9,1959.0 294.9,1958.9 299.0,1958.9 303.0,1958.8 307.1,1958.8 311.1,1958.7 315.2,1958.7 319.2,1958.6 323.3,1958.6 327.3,1958.6 331.4,1958.5 335.4,1958.5 339.5,1958.4 343.5,1958.4 347.6,1958.3 351.6,1958.3 355.7,1958.2 359.7,1958.2 363.8,1958.1 367.8,1958.1 371.9,1958.1 375.9,1958.0 380.0,1958.0 384.0,1957.9 388.1,1957.9 392.1,1957.8 396.2,1957.8 400.2,1957.8 404.3,1957.7 408.3,1957.7 412.4,1957.6 416.4,1957.6 420.5,1957.5 424.5,1957.5 428.6,1957.5 432.6,1957.4 436.7,1957.4 440.7,1957.3 444.8,1957.3 448.8,1957.3 452.9,1957.2 456.9,1957.2 461.0,1957.1 465.0,1957.1 469.1,1957.0 473.1,1957.0 477.2,1957.0 481.2,1956.9 485.3,1956.9 489.3,1956.8 493.4,1956.8 497.4,1956.8 501.5,1956.7 505.5,1956.7 509.6,1956.6 513.6,1956.6 517.7,1956.6 521.7,1956.5 525.8,1956.5 529.8,1956.4 533.9,1956.4 537.9,1956.4 542.0,1956.3 546.0,1956.3 550.1,1956.3 554.1,1956.2 558.2,1956.2 562.2,1956.2 566.3,1956.1 570.3,1956.1 574.4,1956.1 578.4,1956.1 582.5,1956.0 586.5,1956.0 590.6,1956.0 594.6,1955.9 598.7,1955.9 602.7,1955.9 606.8,1955.9 610.8,1955.8 614.9,1955.8 618.9,1955.8 623.0,1955.8 627.0,1955.8 631.1,1955.7 635.1,1955.7 639.2,1955.7 643.2,1955.7 647.3,1955.6 651.3,1955.6 655.4,1955.6" fill="none" stroke="#12468c" stroke-width="5.2" stroke-linejoin="round" stroke-linecap="round" />
<polyline points="173.4,1966.8 176.6,1966.8 179.9,1966.8 183.1,1966.7 186.3,1966.7 189.6,1966.7 192.8,1966.7 196.0,1966.7 199.3,1966.6 202.5,1966.6 205.7,1966.6 209.0,1966.6 212.2,1966.5 215.4,1966.5 218.6,1966.5 221.9,1966.5 225.1,1966.4" fill="none" stroke="#12468c" stroke-width="2.1" stroke-linejoin="round" stroke-linecap="round" />
<polyline points="173.4,1961.3 176.6,1961.3 179.9,1961.3 183.1,1961.3 186.3,1961.2 189.6,1961.2 192.8,1961.2 196.0,1961.2 199.3,1961.1 202.5,1961.1 205.7,1961.1 209.0,1961.1 212.2,1961.0 215.4,1961.0 218.6,1961.0 221.9,1961.0 225.1,1960.9" fill="none" stroke="#12468c" stroke-width="2.4" stroke-linejoin="round" stroke-linecap="round" />
<polyline points="189.6,1966.7 192.8,1966.7 196.0,1966.7 199.3,1966.6 202.5,1966.6 205.7,1966.6 209.0,1966.6 212.2,1966.5 215.4,1966.5 218.6,1966.5 221.9,1966.5 225.1,1966.4 228.3,1966.4 231.6,1966.4 234.8,1966.4 238.0,1966.4 241.3,1966.3 244.5,1966.3 247.7,1966.3 251.0,1966.3 254.2,1966.2 257.4,1966.2 260.7,1966.2 263.9,1966.2 267.1,1966.2 270.4,1966.1 273.6,1966.1 276.8,1966.1 280.1,1966.1 283.3,1966.0 286.5,1966.0 289.8,1966.0 293.0,1966.0 296.2,1965.9 299.4,1965.9 302.7,1965.9 305.9,1965.9 309.1,1965.9 312.4,1965.8 315.6,1965.8 318.8,1965.8 322.1,1965.8 325.3,1965.7 328.5,1965.7 331.8,1965.7 335.0,1965.7 338.2,1965.7 341.5,1965.6 344.7,1965.6 347.9,1965.6 351.2,1965.6 354.4,1965.5 357.6,1965.5 360.9,1965.5 364.1,1965.5 367.3,1965.5 370.6,1965.4 373.8,1965.4 377.0,1965.4 380.2,1965.4 383.5,1965.3 386.7,1965.3 389.9,1965.3 393.2,1965.3 396.4,1965.3 399.6,1965.2 402.9,1965.2 406.1,1965.2 409.3,1965.2 412.6,1965.2 415.8,1965.1 419.0,1965.1 422.3,1965.1 425.5,1965.1 428.7,1965.1 432.0,1965.0 435.2,1965.0 438.4,1965.0 441.7,1965.0 444.9,1965.0 448.1,1964.9 451.4,1964.9 454.6,1964.9 457.8,1964.9 461.0,1964.9 464.3,1964.8 467.5,1964.8 470.7,1964.8 474.0,1964.8 477.2,1964.8 480.4,1964.8 483.7,1964.7 486.9,1964.7 490.1,1964.7 493.4,1964.7 496.6,1964.7 499.8,1964.7 503.1,1964.6 506.3,1964.6 509.5,1964.6 512.8,1964.6 516.0,1964.6 519.2,1964.6 522.5,1964.6 525.7,1964.6 528.9,1964.5 532.2,1964.5 535.4,1964.5 538.6,1964.5 541.8,1964.5 545.1,1964.5 548.3,1964.5 551.5,1964.5 554.8,1964.5 558.0,1964.4" fill="none" stroke="#12468c" stroke-width="4.0" stroke-linejoin="round" stroke-linecap="round" />
<polyline points="189.6,1961.2 192.8,1961.2 196.0,1961.2 199.3,1961.1 202.5,1961.1 205.7,1961.1 209.0,1961.1 212.2,1961.0 215.4,1961.0 218.6,1961.0 221.9,1961.0 225.1,1960.9 228.3,1960.9 231.6,1960.9 234.8,1960.9 238.0,1960.8 241.3,1960.8 244.5,1960.8 247.7,1960.8 251.0,1960.8 254.2,1960.7 257.4,1960.7 260.7,1960.7 263.9,1960.7 267.1,1960.6 270.4,1960.6 273.6,1960.6 276.8,1960.6 280.1,1960.5 283.3,1960.5 286.5,1960.5 289.8,1960.5 293.0,1960.4 296.2,1960.4 299.4,1960.4 302.7,1960.4 305.9,1960.3 309.1,1960.3 312.4,1960.3 315.6,1960.3 318.8,1960.2 322.1,1960.2 325.3,1960.2 328.5,1960.2 331.8,1960.2 335.0,1960.1 338.2,1960.1 341.5,1960.1 344.7,1960.1 347.9,1960.0 351.2,1960.0 354.4,1960.0 357.6,1960.0 360.9,1959.9 364.1,1959.9 367.3,1959.9 370.6,1959.9 373.8,1959.9 377.0,1959.8 380.2,1959.8 383.5,1959.8 386.7,1959.8 389.9,1959.7 393.2,1959.7 396.4,1959.7 399.6,1959.7 402.9,1959.6 406.1,1959.6 409.3,1959.6 412.6,1959.6 415.8,1959.6 419.0,1959.5 422.3,1959.5 425.5,1959.5 428.7,1959.5 432.0,1959.5 435.2,1959.4 438.4,1959.4 441.7,1959.4 444.9,1959.4 448.1,1959.3 451.4,1959.3 454.6,1959.3 457.8,1959.3 461.0,1959.3 464.3,1959.2 467.5,1959.2 470.7,1959.2 474.0,1959.2 477.2,1959.2 480.4,1959.2 483.7,1959.1 486.9,1959.1 490.1,1959.1 493.4,1959.1 496.6,1959.1 499.8,1959.1 503.1,1959.0 506.3,1959.0 509.5,1959.0 512.8,1959.0 516.0,1959.0 519.2,1959.0 522.5,1959.0 525.7,1958.9 528.9,1958.9 532.2,1958.9 535.4,1958.9 538.6,1958.9 541.8,1958.9 545.1,1958.9 548.3,1958.9 551.5,1958.9 554.8,1958.8 558.0,1958.8" fill="none" stroke="#12468c" stroke-width="5.2" stroke-linejoin="round" stroke-linecap="round" />
<polyline points="173.4,1811.0 182.7,1809.3 192.0,1807.6 201.3,1805.9 210.7,1804.2 220.0,1802.5 229.3,1800.8 238.6,1799.1 247.9,1797.4 257.2,1795.7 266.6,1794.0 275.9,1792.3 285.2,1790.7 294.5,1789.0 303.8,1787.3 313.1,1785.6 322.5,1783.9 331.8,1782.2 341.1,1780.5 350.4,1778.9 359.7,1777.2 369.0,1775.5 378.4,1773.8 387.7,1772.1" fill="none" stroke="#12468c" stroke-width="2.1" stroke-linejoin="round" stroke-linecap="round" />
<polyline points="173.4,1795.1 182.7,1793.2 192.0,1791.3 201.3,1789.4 210.7,1787.5 220.0,1785.6 229.3,1783.7 238.6,1781.9 247.9,1780.0 257.2,1778.1 266.6,1776.2 275.9,1774.3 285.2,1772.4 294.5,1770.5 303.8,1768.7 313.1,1766.8 322.5,1764.9 331.8,1763.0 341.1,1761.1 350.4,1759.3 359.7,1757.4 369.0,1755.5 378.4,1753.6 387.7,1751.8" fill="none" stroke="#12468c" stroke-width="2.4" stroke-linejoin="round" stroke-linecap="round" />
<polyline points="378.4,1773.8 387.7,1772.1 397.0,1770.5 406.3,1768.8 415.6,1767.1 424.9,1765.4 434.3,1763.7 443.6,1762.1 452.9,1760.4 462.2,1758.7 471.5,1757.0 480.8,1755.4 490.2,1753.7 499.5,1752.0 508.8,1750.4 518.1,1748.7 527.4,1747.0 536.7,1745.3 546.1,1743.7 555.4,1742.0 564.7,1740.3 574.0,1738.7 583.3,1737.0 592.6,1735.3 602.0,1733.7 611.3,1732.0 620.6,1730.4 629.9,1728.7 639.2,1727.0 648.5,1725.4 657.9,1723.7 667.2,1722.0 676.5,1720.4 685.8,1718.7 695.1,1717.1 704.4,1715.4 713.7,1713.8 723.1,1712.1 732.4,1710.5 741.7,1708.8 751.0,1707.1 760.3,1705.5 769.6,1703.8 779.0,1702.2 788.3,1700.5 797.6,1698.9 806.9,1697.2 816.2,1695.6 825.5,1693.9 834.9,1692.3 844.2,1690.7 853.5,1689.0 862.8,1687.4 872.1,1685.7 881.4,1684.1 890.8,1682.4 900.1,1680.8 909.4,1679.2 918.7,1677.5 928.0,1675.9 937.3,1674.2 946.7,1672.6 956.0,1671.0 965.3,1669.3 974.6,1667.7 983.9,1666.0 993.2,1664.4 1002.6,1662.8 1011.9,1661.1 1021.2,1659.5 1030.5,1657.9 1039.8,1656.3 1049.1,1654.6 1058.5,1653.0 1067.8,1651.4 1077.1,1649.7 1086.4,1648.1 1095.7,1646.5 1105.0,1644.9 1114.4,1643.2 1123.7,1641.6 1133.0,1640.0 1142.3,1638.4 1151.6,1636.7 1160.9,1635.1 1170.3,1633.5 1179.6,1631.9 1188.9,1630.2 1198.2,1628.6 1207.5,1627.0 1216.8,1625.4 1226.1,1623.8 1235.5,1622.2 1244.8,1620.5 1254.1,1618.9 1263.4,1617.3 1272.7,1615.7 1282.0,1614.1 1291.4,1612.5 1300.7,1610.9 1310.0,1609.3 1319.3,1607.6 1328.6,1606.0 1337.9,1605.5 1347.3,1605.5 1356.6,1605.5 1365.9,1605.5 1375.2,1605.5 1384.5,1605.5 1393.8,1605.5 1403.2,1605.5 1412.5,1605.5 1421.8,1605.5 1431.1,1605.5 1440.4,1605.5 1449.7,1605.5 1459.1,1605.5 1468.4,1605.5 1477.7,1605.5 1487.0,1605.5 1496.3,1605.5 1505.6,1605.5 1515.0,1605.5 1524.3,1605.5 1533.6,1605.5 1542.9,1605.5 1552.2,1605.5 1561.5,1605.5 1570.9,1605.5 1580.2,1605.5 1589.5,1605.5 1598.8,1605.5 1608.1,1605.5 1617.4,1605.5 1626.8,1605.5 1636.1,1605.5 1645.4,1605.5 1654.7,1605.5 1664.0,1605.5 1673.3,1605.5 1682.7,1605.5 1692.0,1605.5 1701.3,1605.5 1710.6,1605.5 1719.9,1605.5 1729.2,1605.5 1738.5,1605.5 1747.9,1605.5 1757.2,1605.5 1766.5,1605.5 1775.8,1605.5 1785.1,1605.5 1794.4,1605.5 1803.8,1605.5 1813.1,1605.5 1822.4,1605.5 1831.7,1605.5 1841.0,1605.5 1850.3,1605.5 1859.7,1605.5 1869.0,1605.5 1878.3,1605.5 1887.6,1605.5 1896.9,1605.5 1906.2,1605.5 1915.6,1605.5 1924.9,1605.5 1934.2,1605.5 1943.5,1605.5 1952.8,1605.5 1962.1,1605.5 1971.5,1605.5 1980.8,1605.5 1990.1,1605.5 1999.4,1605.5 2008.7,1605.5 2018.0,1605.5 2027.4,1605.5" fill="none" stroke="#12468c" stroke-width="3.0" stroke-linejoin="round" stroke-linecap="round" />
<polyline points="378.4,1753.6 387.7,1751.8 397.0,1749.9 406.3,1748.0 415.6,1746.1 424.9,1744.3 434.3,1742.4 443.6,1740.5 452.9,1738.7 462.2,1736.8 471.5,1734.9 480.8,1733.1 490.2,1731.2 499.5,1729.3 508.8,1727.5 518.1,1725.6 527.4,1723.7 536.7,1721.9 546.1,1720.0 555.4,1718.2 564.7,1716.3 574.0,1714.4 583.3,1712.6 592.6,1710.7 602.0,1708.9 611.3,1707.0 620.6,1705.2 629.9,1703.3 639.2,1701.5 648.5,1699.6 657.9,1697.8 667.2,1695.9 676.5,1694.1 685.8,1692.2 695.1,1690.4 704.4,1688.5 713.7,1686.7 723.1,1684.9 732.4,1683.0 741.7,1681.2 751.0,1679.3 760.3,1677.5 769.6,1675.6 779.0,1673.8 788.3,1672.0 797.6,1670.1 806.9,1668.3 816.2,1666.5 825.5,1664.6 834.9,1662.8 844.2,1661.0 853.5,1659.1 862.8,1657.3 872.1,1655.5 881.4,1653.7 890.8,1651.8 900.1,1650.0 909.4,1648.2 918.7,1646.3 928.0,1644.5 937.3,1642.7 946.7,1640.9 956.0,1639.1 965.3,1637.2 974.6,1635.4 983.9,1633.6 993.2,1631.8 1002.6,1630.0 1011.9,1628.2 1021.2,1626.3 1030.5,1624.5 1039.8,1622.7 1049.1,1620.9 1058.5,1619.1 1067.8,1617.3 1077.1,1615.5 1086.4,1613.7 1095.7,1611.8 1105.0,1610.0 1114.4,1608.2 1123.7,1606.4 1133.0,1604.6 1142.3,1602.8 1151.6,1601.0 1160.9,1599.2 1170.3,1597.4 1179.6,1595.6 1188.9,1593.8 1198.2,1592.0 1207.5,1590.2 1216.8,1588.4 1226.1,1586.6 1235.5,1584.8 1244.8,1583.0 1254.1,1581.2 1263.4,1579.5 1272.7,1577.7 1282.0,1575.9 1291.4,1574.1 1300.7,1572.3 1310.0,1570.5 1319.3,1568.7 1328.6,1566.9 1337.9,1565.2 1347.3,1564.2 1356.6,1564.2 1365.9,1564.2 1375.2,1564.2 1384.5,1564.2 1393.8,1564.2 1403.2,1564.2 1412.5,1564.2 1421.8,1564.2 1431.1,1564.2 1440.4,1564.2 1449.7,1564.2 1459.1,1564.2 1468.4,1564.2 1477.7,1564.2 1487.0,1564.2 1496.3,1564.2 1505.6,1564.2 1515.0,1564.2 1524.3,1564.2 1533.6,1564.2 1542.9,1564.2 1552.2,1564.2 1561.5,1564.2 1570.9,1564.2 1580.2,1564.2 1589.5,1564.2 1598.8,1564.2 1608.1,1564.2 1617.4,1564.2 1626.8,1564.2 1636.1,1564.2 1645.4,1564.2 1654.7,1564.2 1664.0,1564.2 1673.3,1564.2 1682.7,1564.2 1692.0,1564.2 1701.3,1564.2 1710.6,1564.2 1719.9,1564.2 1729.2,1564.2 1738.5,1564.2 1747.9,1564.2 1757.2,1564.2 1766.5,1564.2 1775.8,1564.2 1785.1,1564.2 1794.4,1564.2 1803.8,1564.2 1813.1,1564.2 1822.4,1564.2 1831.7,1564.2 1841.0,1564.2 1850.3,1564.2 1859.7,1564.2 1869.0,1564.2 1878.3,1564.2 1887.6,1564.2 1896.9,1564.2 1906.2,1564.2 1915.6,1564.2 1924.9,1564.2 1934.2,1564.2 1943.5,1564.2 1952.8,1564.2 1962.1,1564.2 1971.5,1564.2 1980.8,1564.2 1990.1,1564.2 1999.4,1564.2 2008.7,1564.2 2018.0,1564.2 2027.4,1564.2" fill="none" stroke="#12468c" stroke-width="4.3" stroke-linejoin="round" stroke-linecap="round" />
</g>
<g id="labels">
<rect x="0" y="399" width="2400" height="2" fill="#d4d7d8"/>
<rect x="0" y="1999" width="2400" height="2" fill="#e2e6e6"/>
<rect x="171.4" y="400" width="4.0" height="1016" fill="#111"/>
<rect x="2195.2" y="400" width="4.6" height="1002" fill="#111"/>
<rect x="173.4" y="1397.6" width="2024.1" height="5.6" fill="#5e5e60"/>
<rect x="157" y="1398.5" width="17" height="3" fill="#555"/>
<text x="141" y="1412.5" font-size="37" text-anchor="end" fill="#111" textLength="22" lengthAdjust="spacingAndGlyphs" stroke="#111" stroke-width="0.6">0</text>
<rect x="157" y="1315.2" width="17" height="3" fill="#111"/>
<text x="141" y="1329.2" font-size="37" text-anchor="end" fill="#111" textLength="22" lengthAdjust="spacingAndGlyphs" stroke="#111" stroke-width="0.6">2</text>
<rect x="157" y="1231.9" width="17" height="3" fill="#111"/>
<text x="141" y="1245.9" font-size="37" text-anchor="end" fill="#111" textLength="22" lengthAdjust="spacingAndGlyphs" stroke="#111" stroke-width="0.6">4</text>
<rect x="157" y="1148.6" width="17" height="3" fill="#111"/>
<text x="141" y="1162.6" font-size="37" text-anchor="end" fill="#111" textLength="22" lengthAdjust="spacingAndGlyphs" stroke="#111" stroke-width="0.6">6</text>
<rect x="157" y="1065.3" width="17" height="3" fill="#111"/>
<text x="141" y="1079.3" font-size="37" text-anchor="end" fill="#111" textLength="22" lengthAdjust="spacingAndGlyphs" stroke="#111" stroke-width="0.6">8</text>
<rect x="157" y="982.0" width="17" height="3" fill="#111"/>
<text x="141" y="996.0" font-size="37" text-anchor="end" fill="#111" textLength="44" lengthAdjust="spacingAndGlyphs" stroke="#111" stroke-width="0.6">10</text>
<rect x="157" y="898.7" width="17" height="3" fill="#111"/>
<text x="141" y="912.7" font-size="37" text-anchor="end" fill="#111" textLength="44" lengthAdjust="spacingAndGlyphs" stroke="#111" stroke-width="0.6">12</text>
<rect x="157" y="815.4" width="17" height="3" fill="#111"/>
<text x="141" y="829.4" font-size="37" text-anchor="end" fill="#111" textLength="44" lengthAdjust="spacingAndGlyphs" stroke="#111" stroke-width="0.6">14</text>
<rect x="157" y="732.1" width="17" height="3" fill="#111"/>
<text x="141" y="746.1" font-size="37" text-anchor="end" fill="#111" textLength="44" lengthAdjust="spacingAndGlyphs" stroke="#111" stroke-width="0.6">16</text>
<rect x="157" y="648.8" width="17" height="3" fill="#111"/>
<text x="141" y="662.8" font-size="37" text-anchor="end" fill="#111" textLength="44" lengthAdjust="spacingAndGlyphs" stroke="#111" stroke-width="0.6">18</text>
<rect x="157" y="565.5" width="17" height="3" fill="#111"/>
<text x="141" y="579.5" font-size="37" text-anchor="end" fill="#111" textLength="44" lengthAdjust="spacingAndGlyphs" stroke="#111" stroke-width="0.6">20</text>
<rect x="2197.5" y="1398.5" width="17" height="3" fill="#888"/>
<text x="2225" y="1410.5" font-size="37" text-anchor="start" fill="#111" textLength="22.3" lengthAdjust="spacingAndGlyphs" stroke="#111" stroke-width="0.6">0</text>
<rect x="2197.5" y="1315.2" width="17" height="3" fill="#333"/>
<text x="2225" y="1329.2" font-size="37" text-anchor="start" fill="#111" textLength="44.6" lengthAdjust="spacingAndGlyphs" stroke="#111" stroke-width="0.6">20</text>
<rect x="2197.5" y="1231.9" width="17" height="3" fill="#333"/>
<text x="2225" y="1245.9" font-size="37" text-anchor="start" fill="#111" textLength="44.6" lengthAdjust="spacingAndGlyphs" stroke="#111" stroke-width="0.6">40</text>
<rect x="2197.5" y="1148.6" width="17" height="3" fill="#333"/>
<text x="2225" y="1162.6" font-size="37" text-anchor="start" fill="#111" textLength="44.6" lengthAdjust="spacingAndGlyphs" stroke="#111" stroke-width="0.6">60</text>
<rect x="2197.5" y="1065.3" width="17" height="3" fill="#333"/>
<text x="2225" y="1079.3" font-size="37" text-anchor="start" fill="#111" textLength="44.6" lengthAdjust="spacingAndGlyphs" stroke="#111" stroke-width="0.6">80</text>
<rect x="2197.5" y="982.0" width="17" height="3" fill="#333"/>
<text x="2225" y="996.0" font-size="37" text-anchor="start" fill="#111" textLength="66.9" lengthAdjust="spacingAndGlyphs" stroke="#111" stroke-width="0.6">100</text>
<text x="171.4" y="1451" font-size="37" text-anchor="middle" fill="#111" textLength="22.3" lengthAdjust="spacingAndGlyphs" stroke="#111" stroke-width="0.6">0</text>
<rect x="373.9" y="1400" width="3" height="16.5" fill="#111"/>
<text x="373.4" y="1451" font-size="37" text-anchor="middle" fill="#111" textLength="22.3" lengthAdjust="spacingAndGlyphs" stroke="#111" stroke-width="0.6">5</text>
<rect x="575.9" y="1400" width="3" height="16.5" fill="#111"/>
<text x="575.4" y="1451" font-size="37" text-anchor="middle" fill="#111" textLength="44.6" lengthAdjust="spacingAndGlyphs" stroke="#111" stroke-width="0.6">10</text>
<rect x="777.9" y="1400" width="3" height="16.5" fill="#111"/>
<text x="777.4" y="1451" font-size="37" text-anchor="middle" fill="#111" textLength="44.6" lengthAdjust="spacingAndGlyphs" stroke="#111" stroke-width="0.6">15</text>
<rect x="979.9" y="1400" width="3" height="16.5" fill="#111"/>
<text x="979.4" y="1451" font-size="37" text-anchor="middle" fill="#111" textLength="44.6" lengthAdjust="spacingAndGlyphs" stroke="#111" stroke-width="0.6">20</text>
<rect x="1181.9" y="1400" width="3" height="16.5" fill="#111"/>
<text x="1181.4" y="1451" font-size="37" text-anchor="middle" fill="#111" textLength="44.6" lengthAdjust="spacingAndGlyphs" stroke="#111" stroke-width="0.6">25</text>
<rect x="1383.9" y="1400" width="3" height="16.5" fill="#111"/>
<text x="1383.4" y="1451" font-size="37" text-anchor="middle" fill="#111" textLength="44.6" lengthAdjust="spacingAndGlyphs" stroke="#111" stroke-width="0.6">30</text>
<rect x="1585.9" y="1400" width="3" height="16.5" fill="#111"/>
<text x="1585.4" y="1451" font-size="37" text-anchor="middle" fill="#111" textLength="44.6" lengthAdjust="spacingAndGlyphs" stroke="#111" stroke-width="0.6">35</text>
<rect x="1787.9" y="1400" width="3" height="16.5" fill="#111"/>
<text x="1787.4" y="1451" font-size="37" text-anchor="middle" fill="#111" textLength="44.6" lengthAdjust="spacingAndGlyphs" stroke="#111" stroke-width="0.6">40</text>
<rect x="1989.9" y="1400" width="3" height="16.5" fill="#111"/>
<text x="1989.4" y="1451" font-size="37" text-anchor="middle" fill="#111" textLength="44.6" lengthAdjust="spacingAndGlyphs" stroke="#111" stroke-width="0.6">45</text>
<rect x="2191.9" y="1400" width="3" height="16.5" fill="#111"/>
<text x="2041" y="1451" font-size="37" text-anchor="start" fill="#111" textLength="136" lengthAdjust="spacingAndGlyphs" stroke="#111" stroke-width="0.6">Q [м³/ч]</text>
<text x="88.5" y="431" font-size="37" text-anchor="middle" fill="#111" textLength="26" lengthAdjust="spacingAndGlyphs" stroke="#111" stroke-width="0.6">H</text>
<text x="87.5" y="481.5" font-size="37" text-anchor="middle" fill="#111" textLength="49" lengthAdjust="spacingAndGlyphs" stroke="#111" stroke-width="0.6">[м]</text>
<text x="2290.5" y="430" font-size="37" text-anchor="middle" fill="#111" textLength="56" lengthAdjust="spacingAndGlyphs" stroke="#111" stroke-width="0.6">eta</text>
<text x="2291" y="479.5" font-size="37" text-anchor="middle" fill="#111" textLength="56" lengthAdjust="spacingAndGlyphs" stroke="#111" stroke-width="0.6">[%]</text>
<rect x="208" y="400.5" width="772.5" height="63" fill="#334155"/>
<text x="227" y="446" font-size="46" text-anchor="start" fill="#fff" textLength="733" lengthAdjust="spacingAndGlyphs" stroke="#334155" stroke-width="0.5">Рабочие характеристики насоса</text>
<rect x="1696.5" y="401" width="501" height="64" fill="#fff" stroke="#444" stroke-width="3"/>
<text x="1711" y="444" font-size="38" text-anchor="start" fill="#111" textLength="474" lengthAdjust="spacingAndGlyphs" stroke="#111" stroke-width="0.6">NBE 50-250/221, 3*380 V</text>
<rect x="171.4" y="1471.0" width="4.0" height="498.0" fill="#111"/>
<rect x="2195.2" y="1471.0" width="4.6" height="498.0" fill="#111"/>
<rect x="171.4" y="1471.2" width="2028.3" height="4" fill="#454547"/>
<rect x="173.4" y="1966.0" width="2024.1" height="4.5" fill="#8e8e90"/>
<rect x="157" y="1966.5" width="17" height="3" fill="#555"/>
<text x="141" y="1980.5" font-size="37" text-anchor="end" fill="#111" textLength="22" lengthAdjust="spacingAndGlyphs" stroke="#111" stroke-width="0.6">0</text>
<rect x="157" y="1801.2" width="17" height="3" fill="#111"/>
<text x="141" y="1815.2" font-size="37" text-anchor="end" fill="#111" textLength="22" lengthAdjust="spacingAndGlyphs" stroke="#111" stroke-width="0.6">1</text>
<rect x="157" y="1635.9" width="17" height="3" fill="#111"/>
<text x="141" y="1649.9" font-size="37" text-anchor="end" fill="#111" textLength="22" lengthAdjust="spacingAndGlyphs" stroke="#111" stroke-width="0.6">2</text>
<rect x="2197.5" y="1966.5" width="17" height="3" fill="#111"/>
<text x="2225" y="1980.5" font-size="37" text-anchor="start" fill="#111" textLength="22.3" lengthAdjust="spacingAndGlyphs" stroke="#111" stroke-width="0.6">0</text>
<rect x="2197.5" y="1801.2" width="17" height="3" fill="#111"/>
<text x="2225" y="1815.2" font-size="37" text-anchor="start" fill="#111" textLength="22.3" lengthAdjust="spacingAndGlyphs" stroke="#111" stroke-width="0.6">2</text>
<rect x="2197.5" y="1635.9" width="17" height="3" fill="#111"/>
<text x="2225" y="1649.9" font-size="37" text-anchor="start" fill="#111" textLength="22.3" lengthAdjust="spacingAndGlyphs" stroke="#111" stroke-width="0.6">4</text>
<text x="83.5" y="1503" font-size="37" text-anchor="middle" fill="#111" textLength="22" lengthAdjust="spacingAndGlyphs" stroke="#111" stroke-width="0.6">P</text>
<text x="81.5" y="1555.5" font-size="37" text-anchor="middle" fill="#111" textLength="85" lengthAdjust="spacingAndGlyphs" stroke="#111" stroke-width="0.6">[кВт]</text>
<text x="2298" y="1504" font-size="37" text-anchor="middle" fill="#111" textLength="108" lengthAdjust="spacingAndGlyphs" stroke="#111" stroke-width="0.6">NPSH</text>
<text x="2296" y="1552.5" font-size="37" text-anchor="middle" fill="#111" textLength="48" lengthAdjust="spacingAndGlyphs" stroke="#111" stroke-width="0.6">[м]</text>
<text x="1778" y="1551" font-size="37" text-anchor="start" fill="#1c5796" textLength="468" lengthAdjust="spacingAndGlyphs" stroke="#1c5796" stroke-width="0.6">P1 (motor+freq.converter)</text>
<text x="1991" y="1647" font-size="37" text-anchor="start" fill="#1c5796" textLength="46" lengthAdjust="spacingAndGlyphs" stroke="#1c5796" stroke-width="0.6">P2</text>
</g>
</svg>
</body></html>
